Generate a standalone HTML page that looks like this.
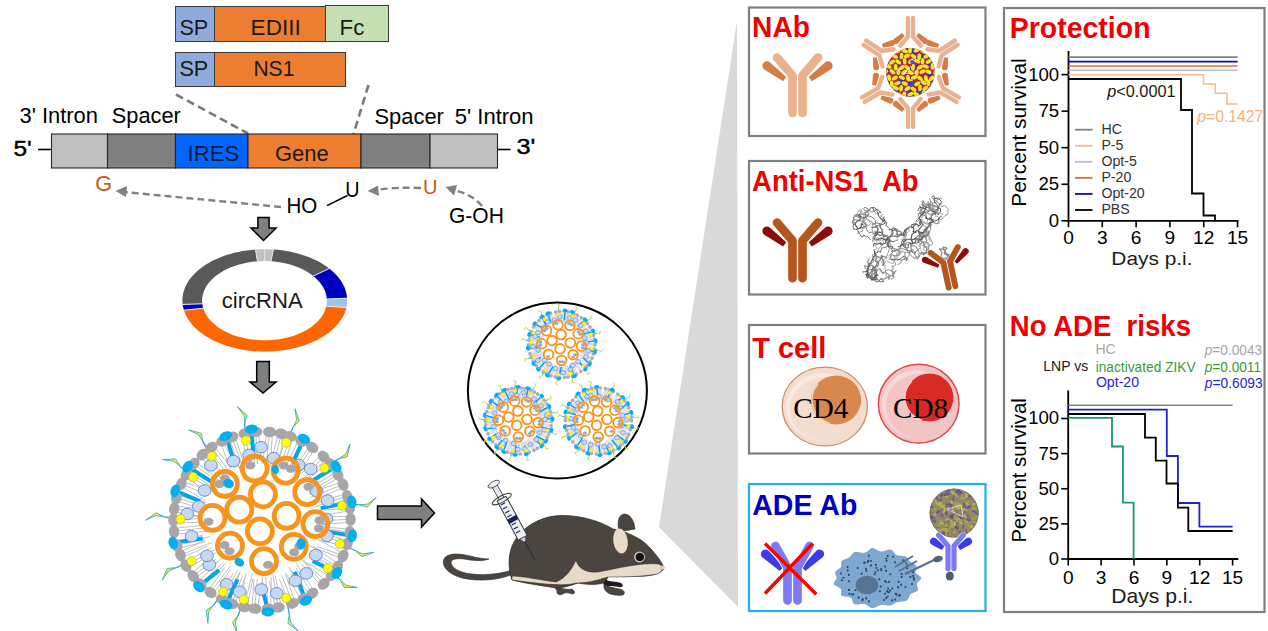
<!DOCTYPE html>
<html><head><meta charset="utf-8"><style>
html,body{margin:0;padding:0;background:#fff;width:1268px;height:631px;overflow:hidden;}
svg{display:block;}
</style></head><body>
<svg width="1268" height="631" viewBox="0 0 1268 631">
<rect width="1268" height="631" fill="#fff"/>
<g stroke-linejoin="miter">
<rect x="175.5" y="6.5" width="39" height="35" fill="#8faadc" stroke="#3a3a3a" stroke-width="1" />
<rect x="214.5" y="6.5" width="111" height="35" fill="#ed7d31" stroke="#3a3a3a" stroke-width="1" />
<rect x="325.5" y="5.5" width="63" height="36" fill="#c5e0b4" stroke="#3a3a3a" stroke-width="1" />
<rect x="175.5" y="52.5" width="39" height="34" fill="#8faadc" stroke="#3a3a3a" stroke-width="1" />
<rect x="214.5" y="52.5" width="131" height="34" fill="#ed7d31" stroke="#3a3a3a" stroke-width="1" />
</g>
<text transform="translate(179.42,35.40) scale(0.9708,1)" font-family="'Liberation Sans', sans-serif" font-size="22.30" font-weight="normal" fill="#1a1a1a" >SP</text>
<text transform="translate(250.62,35.40) scale(1.0128,1)" font-family="'Liberation Sans', sans-serif" font-size="22.30" font-weight="normal" fill="#1a1a1a" >EDIII</text>
<text transform="translate(339.54,35.40) scale(1.0000,1)" font-family="'Liberation Sans', sans-serif" font-size="22.30" font-weight="normal" fill="#1a1a1a" >Fc</text>
<text transform="translate(179.42,75.70) scale(0.9840,1)" font-family="'Liberation Sans', sans-serif" font-size="22.00" font-weight="normal" fill="#1a1a1a" >SP</text>
<text transform="translate(253.45,75.70) scale(0.9558,1)" font-family="'Liberation Sans', sans-serif" font-size="22.00" font-weight="normal" fill="#1a1a1a" >NS1</text>
<line x1="176" y1="94.5" x2="248" y2="133.5" stroke="#7a7a7a" stroke-width="2.6" stroke-dasharray="8,4.5"/>
<line x1="368.5" y1="85" x2="353.5" y2="134" stroke="#7a7a7a" stroke-width="2.6" stroke-dasharray="8,4.5"/>
<rect x="51.5" y="134" width="56" height="34" fill="#bfbfbf" stroke="#262626" stroke-width="1.1" />
<rect x="107.5" y="134" width="68" height="34" fill="#808080" stroke="#262626" stroke-width="1.1" />
<rect x="175.5" y="134" width="72.5" height="34" fill="#0066ff" stroke="#262626" stroke-width="1.1" />
<rect x="248" y="134" width="113" height="34" fill="#ed7d31" stroke="#262626" stroke-width="1.1" />
<rect x="361" y="134" width="69" height="34" fill="#808080" stroke="#262626" stroke-width="1.1" />
<rect x="430" y="134" width="67.5" height="34" fill="#bfbfbf" stroke="#262626" stroke-width="1.1" />
<text transform="translate(187.48,161.10) scale(0.9901,1)" font-family="'Liberation Sans', sans-serif" font-size="22.39" font-weight="normal" fill="#0d1a3a" >IRES</text>
<text transform="translate(274.90,161.30) scale(0.9699,1)" font-family="'Liberation Sans', sans-serif" font-size="22.68" font-weight="normal" fill="#1a1a1a" >Gene</text>
<line x1="38" y1="149.5" x2="51.5" y2="149.5" stroke="#000" stroke-width="1.6"/>
<line x1="497.5" y1="149.5" x2="510.5" y2="149.5" stroke="#000" stroke-width="1.6"/>
<text transform="translate(13.38,156.10) scale(1.0715,1)" font-family="'Liberation Sans', sans-serif" font-size="22.83" font-weight="normal" fill="#000" stroke="#000" stroke-width="0.45">5'</text>
<text transform="translate(516.44,154.10) scale(1.1343,1)" font-family="'Liberation Sans', sans-serif" font-size="22.24" font-weight="normal" fill="#000" stroke="#000" stroke-width="0.45">3'</text>
<text transform="translate(19.50,122.70) scale(1.0054,1)" font-family="'Liberation Sans', sans-serif" font-size="21.80" font-weight="normal" fill="#000" >3' Intron</text>
<text transform="translate(111.81,123.28) scale(0.9864,1)" font-family="'Liberation Sans', sans-serif" font-size="22.08" font-weight="normal" fill="#000" >Spacer</text>
<text transform="translate(374.50,123.78) scale(0.9922,1)" font-family="'Liberation Sans', sans-serif" font-size="22.08" font-weight="normal" fill="#000" >Spacer</text>
<text transform="translate(454.70,124.10) scale(0.9779,1)" font-family="'Liberation Sans', sans-serif" font-size="22.54" font-weight="normal" fill="#000" >5' Intron</text>
<text transform="translate(95.22,191.30) scale(0.9948,1)" font-family="'Liberation Sans', sans-serif" font-size="21.80" font-weight="normal" fill="#c55a11" >G</text>
<text transform="translate(422.92,193.90) scale(0.9890,1)" font-family="'Liberation Sans', sans-serif" font-size="20.34" font-weight="normal" fill="#c55a11" >U</text>
<text transform="translate(345.15,196.80) scale(0.9314,1)" font-family="'Liberation Sans', sans-serif" font-size="21.22" font-weight="normal" fill="#000" >U</text>
<text transform="translate(286.49,212.60) scale(0.9123,1)" font-family="'Liberation Sans', sans-serif" font-size="22.54" font-weight="normal" fill="#000" >HO</text>
<text transform="translate(449.05,222.60) scale(0.9309,1)" font-family="'Liberation Sans', sans-serif" font-size="22.54" font-weight="normal" fill="#000" >G-OH</text>
<line x1="327" y1="205.6" x2="347.5" y2="195.5" stroke="#000" stroke-width="1.6"/>
<path d="M281,207 L124,192" stroke="#808080" stroke-width="2.4" fill="none" stroke-dasharray="7,4"/>
<path d="M115.5,191 L127,186 L126,197 Z" fill="#808080"/>
<path d="M421,188 Q395,187 376,190" stroke="#808080" stroke-width="2.4" fill="none" stroke-dasharray="7,4"/>
<path d="M367.5,191 L378,185.5 L379,196 Z" fill="#808080"/>
<path d="M482,206 Q472,194 453,190" stroke="#808080" stroke-width="2.4" fill="none" stroke-dasharray="7,4"/>
<path d="M445.5,187 L457,185 L454,195.5 Z" fill="#808080"/>
<polygon points="257.9,217.5 269.1,217.5 269.1,228 276.1,228 263.5,240.5 250.9,228 257.9,228" fill="#7f7f7f" stroke="#000" stroke-width="1.5" stroke-linejoin="miter"/>
<polygon points="256.7,361.5 269.3,361.5 269.3,382 276,382 263,393 250,382 256.7,382" fill="#7f7f7f" stroke="#000" stroke-width="1.5" stroke-linejoin="miter"/>
<polygon points="377.5,506 421.5,506 421.5,499 434.5,513 421.5,527 421.5,519.5 377.5,519.5" fill="#7f7f7f" stroke="#000" stroke-width="1.5" stroke-linejoin="miter"/>
<polygon points="255.5,249.5 259.9,249.3 264.4,249.2 268.9,249.3 273.4,249.5 271.0,261.3 267.6,261.1 264.2,261.1 260.8,261.2 257.4,261.4" fill="#c0c0c0"/>
<polygon points="273.4,249.5 277.7,249.8 282.0,250.3 286.3,251.0 290.4,251.7 294.6,252.7 298.6,253.7 302.5,254.9 306.3,256.2 310.0,257.6 313.6,259.2 317.1,260.8 320.4,262.6 323.5,264.5 326.5,266.5 329.3,268.5 313.3,276.0 311.2,274.4 309.0,272.9 306.6,271.5 304.1,270.1 301.5,268.8 298.8,267.6 296.0,266.5 293.1,265.5 290.1,264.6 287.0,263.8 283.9,263.1 280.8,262.5 277.5,262.0 274.3,261.6 271.0,261.3" fill="#595959"/>
<polygon points="329.3,268.5 331.9,270.7 334.3,272.9 336.5,275.2 338.5,277.6 340.4,280.0 342.0,282.5 343.4,285.0 344.6,287.6 345.5,290.2 346.3,292.8 346.8,295.5 347.1,298.2 326.8,299.0 326.6,296.9 326.2,294.8 325.6,292.8 324.9,290.8 324.0,288.8 322.9,286.8 321.7,284.9 320.3,283.0 318.8,281.2 317.1,279.4 315.3,277.7 313.3,276.0" fill="#0000c0"/>
<polygon points="347.1,298.2 347.2,300.5 347.1,302.9 346.8,305.2 346.4,307.5 326.3,306.2 326.6,304.4 326.8,302.6 326.9,300.8 326.8,299.0" fill="#9dc3e6"/>
<polygon points="346.4,307.5 345.7,310.2 344.7,312.9 343.6,315.5 342.2,318.0 340.5,320.6 338.7,323.0 336.7,325.4 334.4,327.8 332.0,330.0 329.4,332.2 326.6,334.3 323.6,336.3 320.5,338.1 317.2,339.9 313.7,341.6 310.2,343.1 306.4,344.6 302.6,345.9 298.7,347.1 294.7,348.1 290.5,349.0 286.4,349.8 282.1,350.5 277.8,351.0 273.5,351.3 269.1,351.5 264.8,351.6 260.4,351.5 256.1,351.3 251.7,351.0 247.4,350.4 243.2,349.8 239.0,349.0 234.9,348.1 230.9,347.1 226.9,345.9 223.1,344.6 219.4,343.1 215.8,341.6 212.4,339.9 209.1,338.1 205.9,336.2 203.0,334.2 200.2,332.2 197.6,330.0 195.1,327.7 192.9,325.4 190.9,323.0 189.0,320.5 187.4,318.0 186.0,315.4 184.9,312.8 183.9,310.2 203.2,308.3 204.0,310.3 204.9,312.3 205.9,314.3 207.1,316.3 208.5,318.2 210.0,320.0 211.7,321.8 213.6,323.6 215.6,325.3 217.7,326.9 219.9,328.4 222.3,329.9 224.8,331.3 227.4,332.5 230.1,333.7 232.9,334.9 235.8,335.9 238.8,336.8 241.9,337.6 245.0,338.3 248.1,338.9 251.3,339.4 254.6,339.8 257.9,340.1 261.2,340.2 264.5,340.3 267.8,340.2 271.1,340.1 274.4,339.8 277.6,339.4 280.8,338.9 284.0,338.3 287.1,337.6 290.2,336.8 293.1,335.9 296.0,334.9 298.8,333.8 301.6,332.6 304.2,331.3 306.7,329.9 309.0,328.4 311.3,326.9 313.4,325.3 315.4,323.6 317.2,321.9 318.9,320.1 320.5,318.2 321.9,316.3 323.1,314.3 324.1,312.4 325.0,310.3 325.7,308.3 326.3,306.2" fill="#ff6600"/>
<polygon points="183.9,310.2 183.5,308.7 183.2,307.3 182.9,305.9 182.7,304.4 202.3,303.8 202.5,304.9 202.7,306.0 202.9,307.2 203.2,308.3" fill="#0000c0"/>
<polygon points="182.7,304.4 182.4,301.7 182.4,299.0 182.7,296.3 183.1,293.6 183.8,290.9 184.7,288.3 185.9,285.7 187.3,283.1 188.8,280.6 190.6,278.1 192.6,275.7 194.9,273.3 197.3,271.1 199.9,268.9 202.6,266.8 205.6,264.8 208.7,262.9 212.0,261.1 215.4,259.4 218.9,257.9 222.6,256.4 226.4,255.1 230.4,253.9 234.4,252.8 238.5,251.9 242.6,251.1 246.9,250.4 251.2,249.9 255.5,249.5 257.4,261.4 254.2,261.6 250.9,262.0 247.7,262.6 244.6,263.2 241.5,263.9 238.4,264.7 235.5,265.7 232.6,266.7 229.8,267.8 227.1,269.0 224.5,270.3 222.0,271.7 219.7,273.2 217.4,274.7 215.3,276.3 213.4,278.0 211.5,279.8 209.9,281.6 208.3,283.4 207.0,285.3 205.8,287.3 204.7,289.3 203.9,291.3 203.2,293.4 202.7,295.4 202.3,297.5 202.1,299.6 202.1,301.7 202.3,303.8" fill="#595959"/>
<line x1="255.5" y1="249.5" x2="257.4" y2="261.4" stroke="#e8e8f0" stroke-width="1"/>
<line x1="264.8" y1="249.2" x2="264.5" y2="261.1" stroke="#e8e8f0" stroke-width="1"/>
<line x1="273.4" y1="249.5" x2="271.0" y2="261.3" stroke="#e8e8f0" stroke-width="1"/>
<line x1="329.3" y1="268.5" x2="313.3" y2="276.0" stroke="#e8e8f0" stroke-width="1"/>
<line x1="347.1" y1="298.2" x2="326.8" y2="299.0" stroke="#e8e8f0" stroke-width="1"/>
<line x1="346.4" y1="307.5" x2="326.3" y2="306.2" stroke="#e8e8f0" stroke-width="1"/>
<line x1="183.9" y1="310.2" x2="203.2" y2="308.3" stroke="#e8e8f0" stroke-width="1"/>
<line x1="182.7" y1="304.4" x2="202.3" y2="303.8" stroke="#e8e8f0" stroke-width="1"/>
<text transform="translate(221.80,308.00) scale(1.0072,1)" font-family="'Liberation Sans', sans-serif" font-size="21.91" font-weight="normal" fill="#1a1a1a" >circRNA</text>
<polygon points="737,21 738,607 659,527" fill="#d9d9d9"/>
<rect x="749" y="7.5" width="236.5" height="128.5" fill="#fff" stroke="#7f7f7f" stroke-width="2.2"/>
<rect x="749" y="161" width="236.5" height="133.5" fill="#fff" stroke="#7f7f7f" stroke-width="2.2"/>
<rect x="749" y="325" width="236.5" height="128.5" fill="#fff" stroke="#7f7f7f" stroke-width="2.2"/>
<rect x="749" y="484" width="236.5" height="127" fill="#fff" stroke="#1eb0e6" stroke-width="2.2"/>
<rect x="1004" y="8" width="260.5" height="604" fill="#fff" stroke="#7f7f7f" stroke-width="2.2"/>
<text transform="translate(752.12,37.40) scale(0.9563,1)" font-family="'Liberation Sans', sans-serif" font-size="29.44" font-weight="bold" fill="#f00000" >NAb</text>
<text transform="translate(752.09,191.30) scale(0.9544,1)" font-family="'Liberation Sans', sans-serif" font-size="28.74" font-weight="bold" fill="#f00000" >Anti-NS1&#160; Ab</text>
<text transform="translate(752.22,358.40) scale(0.9987,1)" font-family="'Liberation Sans', sans-serif" font-size="29.02" font-weight="bold" fill="#f00000" >T cell</text>
<text transform="translate(752.25,515.00) scale(0.9927,1)" font-family="'Liberation Sans', sans-serif" font-size="28.74" font-weight="bold" fill="#0000c0" >ADE Ab</text>
<text transform="translate(1009.70,38.10) scale(0.9495,1)" font-family="'Liberation Sans', sans-serif" font-size="30.00" font-weight="bold" fill="#f00000" >Protection</text>
<text transform="translate(1009.76,336.00) scale(0.9639,1)" font-family="'Liberation Sans', sans-serif" font-size="28.60" font-weight="bold" fill="#f00000" >No ADE&#160; risks</text>
<g transform="translate(797.5,74) rotate(0) scale(1.0)">
<path d="M-11.24,3.12 L-27.74,-11.78 A4.6,4.6 0 0 0 -33.26,-4.42 L-14.36,7.28 Z" fill="#d47d45"/>
<path d="M14.36,7.28 L33.26,-4.42 A4.6,4.6 0 0 0 27.74,-11.78 L11.24,3.12 Z" fill="#d47d45"/>
<path d="M-5,39 L-5,1.5 L-20.5,-16.5" fill="none" stroke="#fff" stroke-width="10.1" stroke-linecap="round" stroke-linejoin="round"/>
<path d="M5,39 L5,1.5 L20.5,-16.5" fill="none" stroke="#fff" stroke-width="10.1" stroke-linecap="round" stroke-linejoin="round"/>
<path d="M-5,39 L-5,1.5 L-20.5,-16.5" fill="none" stroke="#e9b18e" stroke-width="8.7" stroke-linecap="round" stroke-linejoin="round"/>
<path d="M5,39 L5,1.5 L20.5,-16.5" fill="none" stroke="#e9b18e" stroke-width="8.7" stroke-linecap="round" stroke-linejoin="round"/>
</g>
<clipPath id="vclip"><circle cx="910.5" cy="72.4" r="24.3"/></clipPath>
<circle cx="910.5" cy="72.4" r="24.3" fill="#a02868"/>
<g clip-path="url(#vclip)">
<circle cx="933.3" cy="65.9" r="1.4" fill="#d42020"/>
<circle cx="922.7" cy="80.3" r="1.4" fill="#2438c8"/>
<circle cx="908.7" cy="52.6" r="1.4" fill="#d42020"/>
<circle cx="910.4" cy="83.6" r="1.4" fill="#d42020"/>
<circle cx="902.1" cy="67.7" r="1.4" fill="#2438c8"/>
<circle cx="896.5" cy="55.7" r="1.4" fill="#c03060"/>
<circle cx="927.5" cy="66.8" r="1.4" fill="#2438c8"/>
<circle cx="887.4" cy="72.1" r="1.4" fill="#d42020"/>
<circle cx="895.1" cy="90.1" r="1.4" fill="#2438c8"/>
<circle cx="890.2" cy="83.0" r="1.4" fill="#2438c8"/>
<circle cx="899.5" cy="68.0" r="1.4" fill="#d42020"/>
<circle cx="915.0" cy="81.5" r="1.4" fill="#c03060"/>
<circle cx="886.3" cy="70.8" r="1.4" fill="#c03060"/>
<circle cx="920.0" cy="93.3" r="1.4" fill="#2438c8"/>
<circle cx="908.2" cy="49.4" r="1.4" fill="#d42020"/>
<circle cx="914.1" cy="58.4" r="1.4" fill="#2438c8"/>
<circle cx="921.7" cy="90.3" r="1.4" fill="#2438c8"/>
<circle cx="903.7" cy="62.4" r="1.4" fill="#d42020"/>
<circle cx="925.8" cy="64.6" r="1.4" fill="#d42020"/>
<circle cx="901.9" cy="58.5" r="1.4" fill="#2438c8"/>
<circle cx="898.2" cy="89.1" r="1.4" fill="#c03060"/>
<circle cx="907.7" cy="55.7" r="1.4" fill="#2438c8"/>
<circle cx="930.9" cy="64.4" r="1.4" fill="#2438c8"/>
<circle cx="924.1" cy="59.1" r="1.4" fill="#2438c8"/>
<circle cx="901.8" cy="94.5" r="1.4" fill="#c03060"/>
<circle cx="894.5" cy="65.8" r="1.4" fill="#c03060"/>
<circle cx="898.9" cy="65.3" r="1.4" fill="#2438c8"/>
<circle cx="895.8" cy="73.4" r="1.4" fill="#c03060"/>
<circle cx="926.4" cy="57.9" r="1.4" fill="#d42020"/>
<circle cx="907.0" cy="49.5" r="1.4" fill="#2438c8"/>
<circle cx="918.4" cy="72.3" r="1.4" fill="#c03060"/>
<circle cx="903.2" cy="62.0" r="1.4" fill="#2438c8"/>
<circle cx="900.9" cy="51.2" r="1.4" fill="#c03060"/>
<circle cx="918.7" cy="81.9" r="1.4" fill="#2438c8"/>
<circle cx="916.1" cy="70.3" r="1.4" fill="#d42020"/>
<circle cx="924.2" cy="77.5" r="1.4" fill="#2438c8"/>
<circle cx="907.2" cy="66.2" r="1.4" fill="#d42020"/>
<circle cx="931.0" cy="75.7" r="1.4" fill="#d42020"/>
<circle cx="904.4" cy="78.6" r="1.4" fill="#2438c8"/>
<circle cx="908.8" cy="54.9" r="1.4" fill="#d42020"/>
<circle cx="906.7" cy="75.7" r="1.4" fill="#2438c8"/>
<circle cx="913.2" cy="76.2" r="1.4" fill="#d42020"/>
<circle cx="928.3" cy="65.1" r="1.4" fill="#d42020"/>
<circle cx="906.7" cy="89.0" r="1.4" fill="#d42020"/>
<circle cx="890.3" cy="79.1" r="1.4" fill="#d42020"/>
<circle cx="927.7" cy="60.2" r="1.4" fill="#c03060"/>
<circle cx="905.9" cy="56.3" r="1.4" fill="#2438c8"/>
<circle cx="927.3" cy="83.6" r="1.4" fill="#d42020"/>
<circle cx="931.8" cy="75.7" r="1.4" fill="#2438c8"/>
<circle cx="889.2" cy="69.9" r="1.4" fill="#2438c8"/>
<circle cx="901.3" cy="71.5" r="1.4" fill="#d42020"/>
<circle cx="909.4" cy="91.3" r="1.4" fill="#2438c8"/>
<circle cx="898.9" cy="55.7" r="1.4" fill="#2438c8"/>
<circle cx="904.6" cy="61.7" r="1.4" fill="#2438c8"/>
<circle cx="914.5" cy="78.8" r="1.4" fill="#2438c8"/>
<circle cx="886.4" cy="71.2" r="1.4" fill="#d42020"/>
<circle cx="922.2" cy="72.0" r="1.4" fill="#2438c8"/>
<circle cx="916.7" cy="75.5" r="1.4" fill="#2438c8"/>
<circle cx="895.0" cy="57.1" r="1.4" fill="#d42020"/>
<circle cx="909.8" cy="88.2" r="1.4" fill="#c03060"/>
<circle cx="910.5" cy="63.0" r="1.4" fill="#2438c8"/>
<circle cx="903.7" cy="76.8" r="1.4" fill="#d42020"/>
<circle cx="910.9" cy="80.1" r="1.4" fill="#2438c8"/>
<circle cx="910.5" cy="64.5" r="1.4" fill="#d42020"/>
<circle cx="894.1" cy="70.2" r="1.4" fill="#d42020"/>
<circle cx="895.9" cy="69.1" r="1.4" fill="#2438c8"/>
<circle cx="908.4" cy="56.5" r="1.4" fill="#c03060"/>
<circle cx="929.0" cy="74.9" r="1.4" fill="#2438c8"/>
<circle cx="927.2" cy="64.4" r="1.4" fill="#d42020"/>
<circle cx="901.8" cy="58.0" r="1.4" fill="#d42020"/>
<circle cx="887.3" cy="69.6" r="1.4" fill="#c03060"/>
<circle cx="897.0" cy="87.4" r="1.4" fill="#d42020"/>
<circle cx="902.4" cy="93.6" r="1.4" fill="#2438c8"/>
<circle cx="921.3" cy="80.4" r="1.4" fill="#d42020"/>
<circle cx="912.8" cy="66.9" r="1.4" fill="#2438c8"/>
<circle cx="888.2" cy="77.6" r="1.4" fill="#c03060"/>
<circle cx="922.1" cy="78.2" r="1.4" fill="#d42020"/>
<circle cx="903.4" cy="91.8" r="1.4" fill="#2438c8"/>
<circle cx="910.8" cy="61.7" r="1.4" fill="#c03060"/>
<circle cx="896.1" cy="87.1" r="1.4" fill="#2438c8"/>
<circle cx="910.8" cy="57.1" r="1.4" fill="#d42020"/>
<circle cx="910.3" cy="80.9" r="1.4" fill="#c03060"/>
<circle cx="921.9" cy="56.7" r="1.4" fill="#2438c8"/>
<circle cx="909.2" cy="68.8" r="1.4" fill="#2438c8"/>
<circle cx="914.0" cy="52.0" r="1.4" fill="#2438c8"/>
<circle cx="904.5" cy="95.4" r="1.4" fill="#2438c8"/>
<circle cx="914.3" cy="60.4" r="1.4" fill="#c03060"/>
<circle cx="924.2" cy="57.0" r="1.4" fill="#2438c8"/>
<circle cx="930.7" cy="63.2" r="1.4" fill="#d42020"/>
<circle cx="902.9" cy="78.3" r="1.4" fill="#c03060"/>
<circle cx="909.6" cy="88.3" r="1.4" fill="#d42020"/>
<circle cx="891.6" cy="61.1" r="1.4" fill="#d42020"/>
<circle cx="919.7" cy="76.8" r="1.4" fill="#c03060"/>
<circle cx="920.0" cy="84.9" r="1.4" fill="#d42020"/>
<circle cx="917.5" cy="50.3" r="1.4" fill="#d42020"/>
<circle cx="919.6" cy="82.0" r="1.4" fill="#2438c8"/>
<circle cx="904.6" cy="50.3" r="1.4" fill="#d42020"/>
<circle cx="894.2" cy="79.0" r="1.4" fill="#d42020"/>
<circle cx="923.9" cy="92.5" r="1.4" fill="#2438c8"/>
<circle cx="924.9" cy="82.3" r="1.4" fill="#c03060"/>
<circle cx="909.5" cy="95.4" r="1.4" fill="#2438c8"/>
<circle cx="921.6" cy="68.6" r="1.4" fill="#d42020"/>
<circle cx="914.3" cy="54.4" r="1.4" fill="#2438c8"/>
<circle cx="890.3" cy="76.7" r="1.4" fill="#c03060"/>
<circle cx="895.0" cy="86.4" r="1.4" fill="#2438c8"/>
<circle cx="893.7" cy="71.3" r="1.4" fill="#2438c8"/>
<circle cx="910.0" cy="93.2" r="1.4" fill="#2438c8"/>
<circle cx="905.9" cy="56.3" r="1.4" fill="#c03060"/>
<circle cx="900.3" cy="90.7" r="1.4" fill="#d42020"/>
<circle cx="912.1" cy="50.0" r="1.4" fill="#2438c8"/>
<circle cx="900.2" cy="70.2" r="1.4" fill="#2438c8"/>
<circle cx="929.7" cy="69.6" r="1.4" fill="#d42020"/>
<circle cx="903.7" cy="88.6" r="1.4" fill="#2438c8"/>
<circle cx="897.6" cy="54.6" r="1.4" fill="#d42020"/>
<circle cx="901.2" cy="78.9" r="1.4" fill="#c03060"/>
<circle cx="892.4" cy="58.1" r="1.4" fill="#d42020"/>
<circle cx="896.5" cy="84.0" r="1.4" fill="#2438c8"/>
<circle cx="906.9" cy="95.5" r="1.4" fill="#c03060"/>
<circle cx="918.3" cy="92.7" r="1.4" fill="#2438c8"/>
<circle cx="930.5" cy="73.5" r="1.4" fill="#2438c8"/>
<circle cx="910.1" cy="90.7" r="1.4" fill="#2438c8"/>
<circle cx="904.9" cy="49.1" r="1.4" fill="#d42020"/>
<circle cx="896.9" cy="91.1" r="1.4" fill="#c03060"/>
<circle cx="920.8" cy="55.6" r="1.4" fill="#c03060"/>
<circle cx="890.6" cy="74.3" r="1.4" fill="#d42020"/>
<circle cx="888.5" cy="78.2" r="1.4" fill="#2438c8"/>
<circle cx="917.3" cy="73.6" r="1.4" fill="#d42020"/>
<circle cx="920.2" cy="91.1" r="1.4" fill="#2438c8"/>
<circle cx="909.9" cy="91.6" r="1.4" fill="#2438c8"/>
<circle cx="926.7" cy="78.1" r="1.4" fill="#2438c8"/>
<circle cx="906.2" cy="63.8" r="1.4" fill="#d42020"/>
<circle cx="888.1" cy="64.0" r="1.4" fill="#d42020"/>
<circle cx="932.4" cy="77.2" r="1.4" fill="#c03060"/>
<circle cx="889.3" cy="80.4" r="1.4" fill="#d42020"/>
<circle cx="901.6" cy="72.5" r="1.4" fill="#c03060"/>
<circle cx="907.3" cy="59.4" r="1.4" fill="#d42020"/>
<circle cx="916.5" cy="60.4" r="1.4" fill="#d42020"/>
<circle cx="901.8" cy="59.9" r="1.4" fill="#d42020"/>
<circle cx="899.4" cy="71.8" r="1.4" fill="#c03060"/>
<circle cx="888.5" cy="68.1" r="1.4" fill="#c03060"/>
<circle cx="901.2" cy="62.6" r="1.4" fill="#2438c8"/>
<circle cx="927.8" cy="66.7" r="1.4" fill="#c03060"/>
<circle cx="906.4" cy="95.8" r="1.4" fill="#d42020"/>
<circle cx="900.8" cy="53.2" r="1.4" fill="#d42020"/>
<circle cx="913.8" cy="86.5" r="1.4" fill="#d42020"/>
<circle cx="900.9" cy="75.0" r="1.4" fill="#2438c8"/>
<circle cx="921.8" cy="60.3" r="1.4" fill="#2438c8"/>
<circle cx="924.7" cy="64.8" r="1.4" fill="#2438c8"/>
<circle cx="923.0" cy="66.5" r="1.4" fill="#d42020"/>
<circle cx="923.2" cy="61.6" r="1.4" fill="#d42020"/>
<circle cx="914.1" cy="80.8" r="1.4" fill="#2438c8"/>
<circle cx="912.8" cy="94.1" r="1.4" fill="#2438c8"/>
<circle cx="892.6" cy="85.3" r="1.4" fill="#d42020"/>
<circle cx="906.5" cy="92.6" r="1.4" fill="#c03060"/>
<circle cx="890.3" cy="72.1" r="1.4" fill="#d42020"/>
<circle cx="909.5" cy="51.4" r="1.4" fill="#d42020"/>
<circle cx="891.5" cy="68.5" r="1.4" fill="#d42020"/>
<circle cx="900.2" cy="83.7" r="1.4" fill="#2438c8"/>
<circle cx="909.4" cy="95.4" r="1.4" fill="#2438c8"/>
<circle cx="887.8" cy="75.8" r="1.4" fill="#2438c8"/>
<circle cx="904.6" cy="86.1" r="1.4" fill="#d42020"/>
<circle cx="918.4" cy="78.5" r="1.4" fill="#d42020"/>
<circle cx="930.3" cy="61.1" r="1.4" fill="#2438c8"/>
<circle cx="924.2" cy="73.1" r="1.4" fill="#c03060"/>
<circle cx="900.5" cy="80.7" r="1.4" fill="#2438c8"/>
<circle cx="903.5" cy="80.8" r="1.4" fill="#2438c8"/>
<circle cx="918.1" cy="77.6" r="1.4" fill="#2438c8"/>
<circle cx="906.0" cy="80.4" r="1.4" fill="#d42020"/>
<circle cx="910.5" cy="86.6" r="1.4" fill="#2438c8"/>
<circle cx="905.0" cy="52.4" r="1.4" fill="#d42020"/>
<circle cx="902.8" cy="85.1" r="1.4" fill="#c03060"/>
<circle cx="919.0" cy="75.9" r="1.4" fill="#d42020"/>
<circle cx="891.1" cy="81.6" r="1.4" fill="#2438c8"/>
<circle cx="902.5" cy="89.1" r="1.4" fill="#d42020"/>
<circle cx="899.3" cy="90.5" r="1.4" fill="#c03060"/>
<circle cx="921.7" cy="69.3" r="1.4" fill="#d42020"/>
<circle cx="897.5" cy="82.9" r="1.4" fill="#c03060"/>
<circle cx="922.9" cy="59.4" r="1.4" fill="#c03060"/>
<circle cx="895.3" cy="61.7" r="1.4" fill="#c03060"/>
<circle cx="901.8" cy="57.7" r="1.4" fill="#2438c8"/>
<circle cx="919.3" cy="58.6" r="1.4" fill="#2438c8"/>
<circle cx="898.2" cy="83.1" r="1.4" fill="#d42020"/>
<circle cx="892.7" cy="78.0" r="1.4" fill="#d42020"/>
<circle cx="929.0" cy="64.7" r="1.4" fill="#2438c8"/>
<circle cx="922.4" cy="78.7" r="1.4" fill="#d42020"/>
<circle cx="910.1" cy="92.3" r="1.4" fill="#2438c8"/>
<circle cx="914.8" cy="80.6" r="1.4" fill="#d42020"/>
<circle cx="899.2" cy="91.3" r="1.4" fill="#2438c8"/>
<circle cx="932.4" cy="79.5" r="1.4" fill="#2438c8"/>
<circle cx="918.8" cy="76.0" r="1.4" fill="#d42020"/>
<circle cx="921.6" cy="85.6" r="1.4" fill="#d42020"/>
<circle cx="927.6" cy="77.8" r="1.4" fill="#d42020"/>
<circle cx="918.2" cy="56.6" r="1.4" fill="#c03060"/>
<circle cx="916.9" cy="66.0" r="1.4" fill="#2438c8"/>
<circle cx="928.4" cy="72.6" r="1.4" fill="#2438c8"/>
<circle cx="919.2" cy="79.4" r="1.4" fill="#d42020"/>
<circle cx="896.2" cy="59.6" r="1.4" fill="#d42020"/>
<circle cx="894.3" cy="56.7" r="1.4" fill="#c03060"/>
<circle cx="887.3" cy="71.4" r="1.4" fill="#2438c8"/>
<circle cx="888.4" cy="70.9" r="1.4" fill="#2438c8"/>
<ellipse cx="897.4" cy="51.3" rx="3.3" ry="1.9" transform="rotate(156 897.4 51.3)" fill="#f2ea18"/>
<ellipse cx="904.8" cy="51.0" rx="3.3" ry="1.9" transform="rotate(21 904.8 51.0)" fill="#f2ea18"/>
<ellipse cx="910.0" cy="50.2" rx="3.3" ry="1.9" transform="rotate(93 910.0 50.2)" fill="#f2ea18"/>
<ellipse cx="916.8" cy="50.3" rx="3.3" ry="1.9" transform="rotate(159 916.8 50.3)" fill="#f2ea18"/>
<ellipse cx="923.7" cy="51.5" rx="3.3" ry="1.9" transform="rotate(29 923.7 51.5)" fill="#f2ea18"/>
<ellipse cx="894.9" cy="56.5" rx="3.3" ry="1.9" transform="rotate(22 894.9 56.5)" fill="#f2ea18"/>
<ellipse cx="901.5" cy="55.9" rx="3.3" ry="1.9" transform="rotate(98 901.5 55.9)" fill="#f2ea18"/>
<ellipse cx="906.9" cy="56.0" rx="3.3" ry="1.9" transform="rotate(151 906.9 56.0)" fill="#f2ea18"/>
<ellipse cx="913.4" cy="56.3" rx="3.3" ry="1.9" transform="rotate(38 913.4 56.3)" fill="#f2ea18"/>
<ellipse cx="919.3" cy="56.7" rx="3.3" ry="1.9" transform="rotate(94 919.3 56.7)" fill="#f2ea18"/>
<ellipse cx="926.5" cy="56.1" rx="3.3" ry="1.9" transform="rotate(149 926.5 56.1)" fill="#f2ea18"/>
<ellipse cx="892.1" cy="62.2" rx="3.3" ry="1.9" transform="rotate(144 892.1 62.2)" fill="#f2ea18"/>
<ellipse cx="898.3" cy="61.9" rx="3.3" ry="1.9" transform="rotate(38 898.3 61.9)" fill="#f2ea18"/>
<ellipse cx="904.6" cy="61.3" rx="3.3" ry="1.9" transform="rotate(84 904.6 61.3)" fill="#f2ea18"/>
<ellipse cx="911.0" cy="61.3" rx="3.3" ry="1.9" transform="rotate(140 911.0 61.3)" fill="#f2ea18"/>
<ellipse cx="917.3" cy="61.1" rx="3.3" ry="1.9" transform="rotate(26 917.3 61.1)" fill="#f2ea18"/>
<ellipse cx="922.6" cy="61.2" rx="3.3" ry="1.9" transform="rotate(94 922.6 61.2)" fill="#f2ea18"/>
<ellipse cx="928.8" cy="61.5" rx="3.3" ry="1.9" transform="rotate(148 928.8 61.5)" fill="#f2ea18"/>
<ellipse cx="888.6" cy="66.3" rx="3.3" ry="1.9" transform="rotate(32 888.6 66.3)" fill="#f2ea18"/>
<ellipse cx="895.7" cy="67.2" rx="3.3" ry="1.9" transform="rotate(90 895.7 67.2)" fill="#f2ea18"/>
<ellipse cx="901.7" cy="67.7" rx="3.3" ry="1.9" transform="rotate(143 901.7 67.7)" fill="#f2ea18"/>
<ellipse cx="907.1" cy="67.7" rx="3.3" ry="1.9" transform="rotate(39 907.1 67.7)" fill="#f2ea18"/>
<ellipse cx="913.1" cy="67.3" rx="3.3" ry="1.9" transform="rotate(97 913.1 67.3)" fill="#f2ea18"/>
<ellipse cx="919.9" cy="67.3" rx="3.3" ry="1.9" transform="rotate(150 919.9 67.3)" fill="#f2ea18"/>
<ellipse cx="925.6" cy="66.5" rx="3.3" ry="1.9" transform="rotate(21 925.6 66.5)" fill="#f2ea18"/>
<ellipse cx="932.5" cy="66.4" rx="3.3" ry="1.9" transform="rotate(92 932.5 66.4)" fill="#f2ea18"/>
<ellipse cx="885.2" cy="72.0" rx="3.3" ry="1.9" transform="rotate(151 885.2 72.0)" fill="#f2ea18"/>
<ellipse cx="892.4" cy="71.7" rx="3.3" ry="1.9" transform="rotate(39 892.4 71.7)" fill="#f2ea18"/>
<ellipse cx="898.4" cy="71.7" rx="3.3" ry="1.9" transform="rotate(94 898.4 71.7)" fill="#f2ea18"/>
<ellipse cx="904.1" cy="72.4" rx="3.3" ry="1.9" transform="rotate(142 904.1 72.4)" fill="#f2ea18"/>
<ellipse cx="910.5" cy="72.4" rx="3.3" ry="1.9" transform="rotate(36 910.5 72.4)" fill="#f2ea18"/>
<ellipse cx="916.8" cy="72.7" rx="3.3" ry="1.9" transform="rotate(95 916.8 72.7)" fill="#f2ea18"/>
<ellipse cx="922.5" cy="71.6" rx="3.3" ry="1.9" transform="rotate(150 922.5 71.6)" fill="#f2ea18"/>
<ellipse cx="928.5" cy="71.8" rx="3.3" ry="1.9" transform="rotate(26 928.5 71.8)" fill="#f2ea18"/>
<ellipse cx="935.4" cy="72.6" rx="3.3" ry="1.9" transform="rotate(93 935.4 72.6)" fill="#f2ea18"/>
<ellipse cx="889.1" cy="77.7" rx="3.3" ry="1.9" transform="rotate(83 889.1 77.7)" fill="#f2ea18"/>
<ellipse cx="894.7" cy="78.1" rx="3.3" ry="1.9" transform="rotate(149 894.7 78.1)" fill="#f2ea18"/>
<ellipse cx="901.9" cy="77.6" rx="3.3" ry="1.9" transform="rotate(27 901.9 77.6)" fill="#f2ea18"/>
<ellipse cx="908.1" cy="78.0" rx="3.3" ry="1.9" transform="rotate(82 908.1 78.0)" fill="#f2ea18"/>
<ellipse cx="914.1" cy="77.6" rx="3.3" ry="1.9" transform="rotate(159 914.1 77.6)" fill="#f2ea18"/>
<ellipse cx="920.0" cy="78.3" rx="3.3" ry="1.9" transform="rotate(38 920.0 78.3)" fill="#f2ea18"/>
<ellipse cx="926.0" cy="78.5" rx="3.3" ry="1.9" transform="rotate(81 926.0 78.5)" fill="#f2ea18"/>
<ellipse cx="931.9" cy="78.3" rx="3.3" ry="1.9" transform="rotate(140 931.9 78.3)" fill="#f2ea18"/>
<ellipse cx="891.8" cy="83.7" rx="3.3" ry="1.9" transform="rotate(83 891.8 83.7)" fill="#f2ea18"/>
<ellipse cx="897.4" cy="83.3" rx="3.3" ry="1.9" transform="rotate(159 897.4 83.3)" fill="#f2ea18"/>
<ellipse cx="904.8" cy="83.5" rx="3.3" ry="1.9" transform="rotate(26 904.8 83.5)" fill="#f2ea18"/>
<ellipse cx="911.1" cy="82.5" rx="3.3" ry="1.9" transform="rotate(85 911.1 82.5)" fill="#f2ea18"/>
<ellipse cx="917.2" cy="83.8" rx="3.3" ry="1.9" transform="rotate(148 917.2 83.8)" fill="#f2ea18"/>
<ellipse cx="923.6" cy="82.6" rx="3.3" ry="1.9" transform="rotate(32 923.6 82.6)" fill="#f2ea18"/>
<ellipse cx="928.4" cy="82.8" rx="3.3" ry="1.9" transform="rotate(84 928.4 82.8)" fill="#f2ea18"/>
<ellipse cx="934.5" cy="83.0" rx="3.3" ry="1.9" transform="rotate(150 934.5 83.0)" fill="#f2ea18"/>
<ellipse cx="895.7" cy="88.0" rx="3.3" ry="1.9" transform="rotate(29 895.7 88.0)" fill="#f2ea18"/>
<ellipse cx="901.1" cy="88.4" rx="3.3" ry="1.9" transform="rotate(99 901.1 88.4)" fill="#f2ea18"/>
<ellipse cx="907.5" cy="88.6" rx="3.3" ry="1.9" transform="rotate(149 907.5 88.6)" fill="#f2ea18"/>
<ellipse cx="913.5" cy="89.3" rx="3.3" ry="1.9" transform="rotate(36 913.5 89.3)" fill="#f2ea18"/>
<ellipse cx="920.0" cy="88.0" rx="3.3" ry="1.9" transform="rotate(92 920.0 88.0)" fill="#f2ea18"/>
<ellipse cx="925.4" cy="88.3" rx="3.3" ry="1.9" transform="rotate(140 925.4 88.3)" fill="#f2ea18"/>
<ellipse cx="898.6" cy="94.2" rx="3.3" ry="1.9" transform="rotate(21 898.6 94.2)" fill="#f2ea18"/>
<ellipse cx="904.0" cy="94.5" rx="3.3" ry="1.9" transform="rotate(99 904.0 94.5)" fill="#f2ea18"/>
<ellipse cx="910.6" cy="94.1" rx="3.3" ry="1.9" transform="rotate(154 910.6 94.1)" fill="#f2ea18"/>
<ellipse cx="916.3" cy="94.3" rx="3.3" ry="1.9" transform="rotate(27 916.3 94.3)" fill="#f2ea18"/>
<ellipse cx="923.5" cy="93.9" rx="3.3" ry="1.9" transform="rotate(93 923.5 93.9)" fill="#f2ea18"/>
</g>
<circle cx="912.0" cy="61.900000000000006" r="1.8" fill="#3a58ff"/><circle cx="911.0" cy="83.4" r="2.3" fill="#2040e0"/>
<path d="M903.5,73.4 L915.5,73.4 L910.5,66.4 Z" fill="none" stroke="#fff" stroke-width="0.6"/>
<g transform="translate(910.5,37.400000000000006) rotate(-180) scale(0.5)">
<path d="M-11.38,2.98 L-25.07,-11.53 A6,6 0 0 0 -32.93,-2.47 L-16.62,9.02 Z" fill="#d47d45"/>
<path d="M16.62,9.02 L32.93,-2.47 A6,6 0 0 0 25.07,-11.53 L11.38,2.98 Z" fill="#d47d45"/>
<path d="M-5,39 L-5,1.5 L-20.5,-16.5" fill="none" stroke="#fff" stroke-width="10.1" stroke-linecap="round" stroke-linejoin="round"/>
<path d="M5,39 L5,1.5 L20.5,-16.5" fill="none" stroke="#fff" stroke-width="10.1" stroke-linecap="round" stroke-linejoin="round"/>
<path d="M-5,39 L-5,1.5 L-20.5,-16.5" fill="none" stroke="#e9b18e" stroke-width="8.7" stroke-linecap="round" stroke-linejoin="round"/>
<path d="M5,39 L5,1.5 L20.5,-16.5" fill="none" stroke="#e9b18e" stroke-width="8.7" stroke-linecap="round" stroke-linejoin="round"/>
</g>
<g transform="translate(939.8534698780899,53.33763377447406) rotate(-123) scale(0.5)">
<path d="M-11.38,2.98 L-25.07,-11.53 A6,6 0 0 0 -32.93,-2.47 L-16.62,9.02 Z" fill="#d47d45"/>
<path d="M16.62,9.02 L32.93,-2.47 A6,6 0 0 0 25.07,-11.53 L11.38,2.98 Z" fill="#d47d45"/>
<path d="M-5,39 L-5,1.5 L-20.5,-16.5" fill="none" stroke="#fff" stroke-width="10.1" stroke-linecap="round" stroke-linejoin="round"/>
<path d="M5,39 L5,1.5 L20.5,-16.5" fill="none" stroke="#fff" stroke-width="10.1" stroke-linecap="round" stroke-linejoin="round"/>
<path d="M-5,39 L-5,1.5 L-20.5,-16.5" fill="none" stroke="#e9b18e" stroke-width="8.7" stroke-linecap="round" stroke-linejoin="round"/>
<path d="M5,39 L5,1.5 L20.5,-16.5" fill="none" stroke="#e9b18e" stroke-width="8.7" stroke-linecap="round" stroke-linejoin="round"/>
</g>
<g transform="translate(940.8108891324554,89.9) rotate(-60) scale(0.5)">
<path d="M-11.38,2.98 L-25.07,-11.53 A6,6 0 0 0 -32.93,-2.47 L-16.62,9.02 Z" fill="#d47d45"/>
<path d="M16.62,9.02 L32.93,-2.47 A6,6 0 0 0 25.07,-11.53 L11.38,2.98 Z" fill="#d47d45"/>
<path d="M-5,39 L-5,1.5 L-20.5,-16.5" fill="none" stroke="#fff" stroke-width="10.1" stroke-linecap="round" stroke-linejoin="round"/>
<path d="M5,39 L5,1.5 L20.5,-16.5" fill="none" stroke="#fff" stroke-width="10.1" stroke-linecap="round" stroke-linejoin="round"/>
<path d="M-5,39 L-5,1.5 L-20.5,-16.5" fill="none" stroke="#e9b18e" stroke-width="8.7" stroke-linecap="round" stroke-linejoin="round"/>
<path d="M5,39 L5,1.5 L20.5,-16.5" fill="none" stroke="#e9b18e" stroke-width="8.7" stroke-linecap="round" stroke-linejoin="round"/>
</g>
<g transform="translate(910.5,107.4) rotate(0) scale(0.5)">
<path d="M-11.38,2.98 L-25.07,-11.53 A6,6 0 0 0 -32.93,-2.47 L-16.62,9.02 Z" fill="#d47d45"/>
<path d="M16.62,9.02 L32.93,-2.47 A6,6 0 0 0 25.07,-11.53 L11.38,2.98 Z" fill="#d47d45"/>
<path d="M-5,39 L-5,1.5 L-20.5,-16.5" fill="none" stroke="#fff" stroke-width="10.1" stroke-linecap="round" stroke-linejoin="round"/>
<path d="M5,39 L5,1.5 L20.5,-16.5" fill="none" stroke="#fff" stroke-width="10.1" stroke-linecap="round" stroke-linejoin="round"/>
<path d="M-5,39 L-5,1.5 L-20.5,-16.5" fill="none" stroke="#e9b18e" stroke-width="8.7" stroke-linecap="round" stroke-linejoin="round"/>
<path d="M5,39 L5,1.5 L20.5,-16.5" fill="none" stroke="#e9b18e" stroke-width="8.7" stroke-linecap="round" stroke-linejoin="round"/>
</g>
<g transform="translate(880.1891108675446,89.9) rotate(60) scale(0.5)">
<path d="M-11.38,2.98 L-25.07,-11.53 A6,6 0 0 0 -32.93,-2.47 L-16.62,9.02 Z" fill="#d47d45"/>
<path d="M16.62,9.02 L32.93,-2.47 A6,6 0 0 0 25.07,-11.53 L11.38,2.98 Z" fill="#d47d45"/>
<path d="M-5,39 L-5,1.5 L-20.5,-16.5" fill="none" stroke="#fff" stroke-width="10.1" stroke-linecap="round" stroke-linejoin="round"/>
<path d="M5,39 L5,1.5 L20.5,-16.5" fill="none" stroke="#fff" stroke-width="10.1" stroke-linecap="round" stroke-linejoin="round"/>
<path d="M-5,39 L-5,1.5 L-20.5,-16.5" fill="none" stroke="#e9b18e" stroke-width="8.7" stroke-linecap="round" stroke-linejoin="round"/>
<path d="M5,39 L5,1.5 L20.5,-16.5" fill="none" stroke="#e9b18e" stroke-width="8.7" stroke-linecap="round" stroke-linejoin="round"/>
</g>
<g transform="translate(881.1465301219101,53.33763377447406) rotate(123) scale(0.5)">
<path d="M-11.38,2.98 L-25.07,-11.53 A6,6 0 0 0 -32.93,-2.47 L-16.62,9.02 Z" fill="#d47d45"/>
<path d="M16.62,9.02 L32.93,-2.47 A6,6 0 0 0 25.07,-11.53 L11.38,2.98 Z" fill="#d47d45"/>
<path d="M-5,39 L-5,1.5 L-20.5,-16.5" fill="none" stroke="#fff" stroke-width="10.1" stroke-linecap="round" stroke-linejoin="round"/>
<path d="M5,39 L5,1.5 L20.5,-16.5" fill="none" stroke="#fff" stroke-width="10.1" stroke-linecap="round" stroke-linejoin="round"/>
<path d="M-5,39 L-5,1.5 L-20.5,-16.5" fill="none" stroke="#e9b18e" stroke-width="8.7" stroke-linecap="round" stroke-linejoin="round"/>
<path d="M5,39 L5,1.5 L20.5,-16.5" fill="none" stroke="#e9b18e" stroke-width="8.7" stroke-linecap="round" stroke-linejoin="round"/>
</g>
<g transform="translate(797.5,239.2) rotate(0) scale(1.0)">
<path d="M-11.24,3.12 L-27.74,-11.78 A4.6,4.6 0 0 0 -33.26,-4.42 L-14.36,7.28 Z" fill="#8b0a0a"/>
<path d="M14.36,7.28 L33.26,-4.42 A4.6,4.6 0 0 0 27.74,-11.78 L11.24,3.12 Z" fill="#8b0a0a"/>
<path d="M-5,39 L-5,1.5 L-20.5,-16.5" fill="none" stroke="#fff" stroke-width="10.1" stroke-linecap="round" stroke-linejoin="round"/>
<path d="M5,39 L5,1.5 L20.5,-16.5" fill="none" stroke="#fff" stroke-width="10.1" stroke-linecap="round" stroke-linejoin="round"/>
<path d="M-5,39 L-5,1.5 L-20.5,-16.5" fill="none" stroke="#b5561e" stroke-width="8.7" stroke-linecap="round" stroke-linejoin="round"/>
<path d="M5,39 L5,1.5 L20.5,-16.5" fill="none" stroke="#b5561e" stroke-width="8.7" stroke-linecap="round" stroke-linejoin="round"/>
</g>
<path d="M905.6,259.3 Q901.0,259.8 900.9,260.2 Q895.4,258.3 895.6,259.1 Q895.6,258.3 892.9,263.8 Q891.2,263.4 887.5,261.4 Q886.4,259.2 885.0,263.2 Q881.6,264.8 884.9,266.9 Q885.4,270.6 885.7,272.4 Q885.8,273.3 886.4,277.3 Q885.9,279.4 880.6,278.7" fill="none" stroke="#9c9c9c" stroke-width="0.9" stroke-linejoin="round"/>
<path d="M873.8,246.3 Q872.5,242.0 877.2,244.4 Q882.0,241.4 880.8,244.6 Q882.7,244.3 885.7,243.0 Q885.4,239.3 887.4,238.3 Q888.5,234.8 883.6,236.4 Q882.7,235.0 882.2,233.7 Q882.4,235.3 882.4,230.2 Q883.9,234.5 880.3,232.3 Q874.3,231.5 875.0,235.2" fill="none" stroke="#555555" stroke-width="1.2" stroke-linejoin="round"/>
<path d="M874.5,231.3 Q877.5,232.8 875.8,235.9 Q878.6,232.6 879.4,236.0 Q879.1,235.7 884.0,234.3 Q884.6,236.1 886.7,236.3 Q889.3,237.9 890.4,236.5 Q892.2,235.8 893.2,232.5 Q890.8,227.2 894.4,228.2 Q898.7,229.6 897.4,231.2 Q902.7,230.7 901.3,235.4" fill="none" stroke="#7a7a7a" stroke-width="1.2" stroke-linejoin="round"/>
<path d="M909.0,228.7 Q903.7,229.4 904.5,231.5 Q902.6,233.2 903.7,234.5 Q899.6,234.0 900.5,234.2 Q898.2,238.3 895.7,236.2 Q892.6,235.6 890.0,237.0 Q889.5,235.0 887.6,239.0 Q885.9,237.8 889.2,242.6 Q887.1,247.3 891.4,246.0 Q894.4,246.6 890.9,249.4" fill="none" stroke="#6a6a6a" stroke-width="1.2" stroke-linejoin="round"/>
<path d="M876.7,256.9 Q872.8,255.8 875.8,252.4 Q872.0,248.3 874.2,249.9 Q878.0,249.4 875.7,246.2 Q876.6,244.2 876.9,241.9 Q874.6,236.7 878.1,238.2 Q881.7,239.5 881.4,238.6 Q883.3,236.3 887.1,239.0 Q891.0,238.8 891.3,240.8 Q889.2,242.4 890.7,245.3" fill="none" stroke="#9c9c9c" stroke-width="0.9" stroke-linejoin="round"/>
<path d="M920.2,253.2 Q924.9,251.8 923.6,254.6 Q927.9,250.1 926.7,252.0 Q927.7,246.6 924.2,246.6 Q925.1,243.3 921.3,241.6 Q921.7,241.7 919.1,237.1 Q921.3,233.6 918.8,233.1 Q917.9,229.7 920.0,228.2 Q922.5,225.8 923.0,224.6 Q920.7,224.0 921.7,219.5" fill="none" stroke="#6a6a6a" stroke-width="1.2" stroke-linejoin="round"/>
<path d="M855.7,224.2 Q852.2,225.7 852.8,222.7 Q851.4,219.3 856.4,219.8 Q861.8,220.1 861.0,220.4 Q863.3,223.5 860.7,223.9 Q865.0,224.6 863.7,226.9 Q867.8,224.6 866.5,229.1 Q868.3,233.1 870.0,232.7 Q875.2,230.6 873.7,234.0 Q877.0,234.0 874.4,239.4" fill="none" stroke="#8a8a8a" stroke-width="1.0" stroke-linejoin="round"/>
<path d="M930.4,228.8 Q932.1,225.0 928.8,223.3 Q927.0,225.1 924.5,223.2 Q925.1,220.1 921.4,223.2 Q919.1,223.8 919.2,220.4 Q917.6,222.3 915.8,221.1 Q920.5,216.6 919.0,217.9 Q917.4,217.2 918.7,213.3 Q922.0,211.6 920.4,209.0 Q922.4,209.8 919.5,205.0" fill="none" stroke="#8a8a8a" stroke-width="1.0" stroke-linejoin="round"/>
<path d="M955.2,256.5 Q953.2,258.2 951.1,258.4 Q951.7,257.4 948.2,255.4 Q943.3,253.9 944.6,251.8 Q945.0,248.8 939.5,248.9 Q939.4,248.6 941.9,252.6 Q940.0,257.4 943.3,258.2 Q943.2,259.4 946.8,257.9 Q949.3,253.9 950.1,255.5 Q951.9,253.8 953.5,255.7" fill="none" stroke="#8a8a8a" stroke-width="1.2" stroke-linejoin="round"/>
<path d="M898.2,239.5 Q894.6,241.2 895.1,241.1 Q895.3,241.9 890.5,241.3 Q891.2,241.8 888.6,238.1 Q888.5,239.5 891.0,235.0 Q893.2,229.5 890.0,229.1 Q886.1,224.8 885.7,226.1 Q887.8,221.4 885.9,221.9 Q881.8,217.3 884.6,217.0 Q881.9,216.4 883.5,221.9" fill="none" stroke="#6a6a6a" stroke-width="0.9" stroke-linejoin="round"/>
<path d="M870.8,223.5 Q867.2,226.9 867.9,225.6 Q863.1,220.4 864.0,221.3 Q867.2,218.3 866.6,217.7 Q867.2,216.5 868.9,213.8 Q869.2,210.1 864.8,210.8 Q862.4,209.1 864.7,207.2 Q869.4,209.3 869.1,209.7 Q871.5,213.6 873.8,210.8 Q877.5,214.2 875.4,214.2" fill="none" stroke="#8a8a8a" stroke-width="1.0" stroke-linejoin="round"/>
<path d="M863.2,224.3 Q860.2,223.6 861.4,227.3 Q856.6,230.3 857.5,227.9 Q853.7,223.5 856.2,222.3 Q856.0,220.9 859.8,220.7 Q860.2,219.1 860.4,217.6 Q858.6,216.8 858.3,214.9 Q854.9,214.9 855.1,215.7 Q856.8,215.3 859.6,214.5 Q860.4,216.7 861.9,216.8" fill="none" stroke="#555555" stroke-width="1.2" stroke-linejoin="round"/>
<path d="M897.3,264.8 Q902.0,263.1 901.7,260.9 Q903.6,258.4 905.6,259.0 Q907.2,257.6 908.5,256.4 Q910.0,255.2 909.2,250.6 Q907.3,250.8 904.1,249.1 Q898.5,247.8 899.1,249.1 Q898.4,248.5 894.6,250.5 Q894.6,247.7 891.5,248.4 Q888.4,249.0 890.9,245.3" fill="none" stroke="#7a7a7a" stroke-width="0.9" stroke-linejoin="round"/>
<path d="M926.2,230.3 Q925.2,229.1 928.2,234.2 Q928.5,236.9 929.5,237.3 Q931.0,238.4 931.4,240.6 Q934.2,245.9 930.0,244.9 Q925.7,248.7 926.9,246.9 Q923.5,244.6 922.2,245.5 Q921.3,244.7 919.1,242.0 Q917.4,243.5 919.2,238.4 Q918.7,234.5 924.6,236.8" fill="none" stroke="#9c9c9c" stroke-width="1.0" stroke-linejoin="round"/>
<path d="M909.4,229.7 Q909.8,231.4 907.7,232.5 Q905.9,231.7 904.4,234.9 Q905.6,234.2 902.0,239.6 Q904.5,243.6 905.4,243.8 Q905.8,246.1 909.6,244.0 Q915.4,241.9 914.3,242.3 Q919.8,241.3 919.4,241.2 Q923.4,237.4 922.1,239.4 Q921.4,238.4 920.8,234.9" fill="none" stroke="#9c9c9c" stroke-width="0.9" stroke-linejoin="round"/>
<path d="M859.3,228.5 Q863.2,226.8 864.4,228.1 Q866.8,225.3 866.1,224.4 Q864.9,225.4 862.7,220.6 Q863.9,220.3 865.9,215.8 Q865.2,216.9 866.0,211.9 Q866.7,210.2 869.4,210.5 Q870.1,206.9 872.4,207.5 Q875.2,206.7 877.1,210.3 Q876.3,209.7 878.6,215.8" fill="none" stroke="#555555" stroke-width="0.9" stroke-linejoin="round"/>
<path d="M906.0,260.8 Q906.8,261.3 907.0,257.7 Q907.3,259.6 904.3,255.9 Q899.8,259.0 900.4,258.8 Q896.6,261.0 896.7,259.5 Q893.3,258.6 891.4,260.1 Q890.7,258.0 890.0,255.3 Q893.9,252.3 891.9,250.5 Q896.8,252.1 896.8,249.4 Q902.0,252.4 900.8,253.4" fill="none" stroke="#555555" stroke-width="1.0" stroke-linejoin="round"/>
<path d="M891.5,265.8 Q894.9,267.5 891.4,271.0 Q892.4,270.6 894.5,273.0 Q892.5,271.8 893.2,275.9 Q888.9,274.6 889.1,279.4 Q886.6,275.6 889.6,276.3 Q889.9,275.5 887.2,273.5 Q883.9,271.1 883.6,273.3 Q882.6,274.1 881.0,270.4 Q882.3,272.0 878.2,267.8" fill="none" stroke="#9c9c9c" stroke-width="1.2" stroke-linejoin="round"/>
<path d="M929.4,243.4 Q927.7,242.8 925.5,241.9 Q923.8,241.1 919.9,243.9 Q919.5,248.1 920.8,248.2 Q917.5,248.0 918.9,252.6 Q921.7,254.6 919.3,256.3 Q913.3,259.4 914.3,258.1 Q909.3,254.7 910.1,254.5 Q909.6,252.7 909.4,251.3 Q914.1,249.0 913.8,249.4" fill="none" stroke="#8a8a8a" stroke-width="1.0" stroke-linejoin="round"/>
<path d="M938.5,218.4 Q938.8,223.6 939.3,222.6 Q936.8,223.7 935.6,224.0 Q931.5,218.8 933.4,219.5 Q932.2,221.2 928.4,219.3 Q927.0,220.6 926.3,216.7 Q924.8,211.8 926.1,212.3 Q930.5,211.8 930.0,208.3 Q932.5,212.1 933.2,209.7 Q936.2,212.8 935.6,215.0" fill="none" stroke="#6a6a6a" stroke-width="1.0" stroke-linejoin="round"/>
<path d="M929.3,198.3 Q930.9,200.0 930.6,202.5 Q932.5,201.2 932.6,205.1 Q931.0,203.6 933.6,208.5 Q931.7,207.6 935.4,213.3 Q935.4,213.2 931.6,215.3 Q926.6,211.9 926.5,212.6 Q924.3,216.9 922.3,215.3 Q923.2,211.9 920.0,212.1 Q920.1,208.4 923.5,209.1" fill="none" stroke="#9c9c9c" stroke-width="1.2" stroke-linejoin="round"/>
<path d="M905.4,233.4 Q907.1,233.3 905.8,236.7 Q903.9,239.4 905.7,240.6 Q903.5,246.0 905.4,245.3 Q905.9,245.8 900.3,245.4 Q901.9,245.3 899.7,250.3 Q898.4,249.6 899.4,254.6 Q900.3,254.9 895.9,256.0 Q894.6,255.8 892.3,254.9 Q888.5,259.0 889.3,259.8" fill="none" stroke="#9c9c9c" stroke-width="1.2" stroke-linejoin="round"/>
<path d="M874.8,275.2 Q877.7,277.2 876.2,279.8 Q871.2,279.9 871.3,276.3 Q872.4,274.4 871.9,270.6 Q872.6,266.3 874.6,268.4 Q875.3,266.3 877.4,266.5 Q880.1,261.6 876.9,262.8 Q880.6,260.2 880.3,258.9 Q880.3,260.5 882.4,256.4 Q883.9,255.8 886.8,258.2" fill="none" stroke="#7a7a7a" stroke-width="1.2" stroke-linejoin="round"/>
<path d="M898.0,246.4 Q899.5,248.1 902.0,244.1 Q904.4,245.5 903.6,241.3 Q907.6,239.1 908.0,239.6 Q907.0,239.1 911.2,239.4 Q910.2,240.6 915.4,239.1 Q915.9,238.3 919.1,239.1 Q923.1,241.2 921.4,236.8 Q923.5,238.2 926.8,235.2 Q928.4,235.7 929.0,230.5" fill="none" stroke="#6a6a6a" stroke-width="1.2" stroke-linejoin="round"/>
<path d="M865.7,269.1 Q863.9,266.0 864.8,265.4 Q865.8,266.7 868.8,266.8 Q872.4,264.1 870.4,264.2 Q875.2,261.5 873.4,259.2 Q875.7,260.1 872.1,255.5 Q878.0,252.1 877.0,252.9 Q881.5,249.5 880.6,252.5 Q880.0,252.8 882.1,247.5 Q882.1,248.5 887.1,246.7" fill="none" stroke="#7a7a7a" stroke-width="1.0" stroke-linejoin="round"/>
<path d="M859.6,216.4 Q856.1,216.9 856.3,215.0 Q858.4,210.7 859.2,210.1 Q861.7,208.4 862.2,212.5 Q861.3,214.6 860.0,216.2 Q860.3,216.1 863.6,219.4 Q861.9,222.8 863.3,222.7 Q864.8,222.0 865.7,225.7 Q861.0,228.0 862.8,230.9 Q863.8,231.5 858.9,232.1" fill="none" stroke="#8a8a8a" stroke-width="0.9" stroke-linejoin="round"/>
<path d="M910.7,238.9 Q911.3,239.2 911.9,234.6 Q916.7,230.7 915.3,231.5 Q917.8,229.8 918.7,231.8 Q923.4,233.6 924.0,231.3 Q923.5,230.2 926.9,227.9 Q928.6,228.2 928.9,225.5 Q928.8,221.3 933.3,222.0 Q931.7,219.7 931.0,218.2 Q925.4,220.2 925.9,216.5" fill="none" stroke="#555555" stroke-width="1.2" stroke-linejoin="round"/>
<path d="M919.5,234.6 Q919.7,236.0 922.4,235.6 Q924.8,233.5 925.9,237.2 Q924.5,236.6 926.5,240.7 Q927.5,240.1 924.4,245.8 Q922.2,251.1 923.9,249.8 Q927.9,253.9 928.2,251.2 Q925.4,255.2 926.2,253.6 Q921.2,251.0 922.1,254.9 Q922.8,250.5 920.2,249.9" fill="none" stroke="#9c9c9c" stroke-width="0.9" stroke-linejoin="round"/>
<path d="M886.5,242.6 Q891.2,241.9 889.2,239.6 Q889.0,234.9 886.7,236.3 Q886.9,235.8 882.1,234.0 Q881.4,234.3 882.3,229.7 Q879.5,226.1 880.6,224.6 Q876.1,221.8 876.2,223.2 Q873.0,223.9 872.4,225.5 Q873.5,221.4 869.4,221.4 Q869.4,219.6 866.8,219.7" fill="none" stroke="#9c9c9c" stroke-width="1.2" stroke-linejoin="round"/>
<path d="M858.2,214.9 Q853.8,218.3 854.2,215.6 Q858.5,214.3 857.4,215.4 Q856.0,216.2 860.7,218.5 Q859.8,219.2 863.8,218.5 Q863.6,216.8 864.4,214.6 Q860.6,214.7 860.2,211.6 Q861.2,215.2 863.9,213.7 Q864.6,211.1 867.6,212.5 Q868.3,211.4 867.2,209.4" fill="none" stroke="#9c9c9c" stroke-width="1.2" stroke-linejoin="round"/>
<path d="M895.9,260.1 Q898.8,255.3 896.6,254.2 Q896.9,252.1 898.2,251.4 Q895.5,249.9 895.2,248.5 Q892.8,248.2 891.8,248.1 Q888.4,247.2 888.6,252.0 Q885.8,254.7 887.8,256.2 Q887.5,254.5 884.4,259.5 Q880.4,260.6 882.5,263.1 Q884.8,264.3 885.9,266.0" fill="none" stroke="#9c9c9c" stroke-width="1.0" stroke-linejoin="round"/>
<path d="M853.2,217.0 Q855.5,220.7 852.3,222.4 Q855.5,221.1 853.0,226.3 Q853.7,228.6 853.8,229.4 Q855.2,229.0 857.0,229.4 Q859.5,232.7 857.7,233.5 Q859.2,231.6 861.1,236.5 Q862.7,238.2 863.7,235.0 Q867.5,238.1 866.8,235.9 Q866.9,235.1 870.4,239.9" fill="none" stroke="#6a6a6a" stroke-width="1.0" stroke-linejoin="round"/>
<path d="M868.9,265.1 Q869.5,266.5 872.4,265.3 Q872.9,266.0 874.6,268.5 Q875.8,269.8 875.0,273.0 Q875.2,278.1 872.1,278.0 Q872.3,275.5 867.1,275.7 Q868.1,270.3 866.7,271.2 Q867.1,268.1 867.8,267.1 Q869.0,262.8 867.5,261.9 Q869.5,257.8 869.0,258.1" fill="none" stroke="#8a8a8a" stroke-width="1.2" stroke-linejoin="round"/>
<path d="M882.6,265.8 Q884.9,260.4 883.1,260.3 Q880.5,255.7 881.7,255.5 Q882.5,259.2 877.0,256.2 Q875.7,259.6 875.5,261.1 Q878.9,260.8 875.5,266.9 Q871.3,266.7 873.5,269.6 Q867.9,269.1 867.7,271.0 Q867.7,272.4 868.1,275.6 Q872.1,276.2 871.4,279.8" fill="none" stroke="#7a7a7a" stroke-width="1.2" stroke-linejoin="round"/>
<path d="M913.6,245.7 Q909.7,247.4 911.2,243.1 Q906.4,241.7 906.8,242.7 Q903.8,245.9 905.8,247.3 Q906.5,248.0 907.5,250.6 Q905.9,253.9 910.4,251.8 Q909.8,251.3 913.6,251.1 Q916.7,252.8 914.6,254.6 Q915.2,253.9 917.3,259.3 Q920.9,256.1 917.6,253.7" fill="none" stroke="#6a6a6a" stroke-width="0.9" stroke-linejoin="round"/>
<path d="M954.7,256.8 Q953.7,253.1 951.9,255.6 Q946.1,253.8 946.5,253.8 Q943.8,255.1 944.8,250.5 Q944.1,249.9 943.0,247.0 Q947.3,247.3 946.9,248.9 Q943.3,248.9 946.5,253.8 Q947.7,254.6 948.7,258.5 Q946.3,258.4 944.6,261.0 Q945.9,261.7 945.9,265.7" fill="none" stroke="#8a8a8a" stroke-width="1.2" stroke-linejoin="round"/>
<path d="M924.2,205.4 Q922.3,205.7 927.1,207.4 Q931.5,208.7 929.5,205.2 Q928.8,202.2 932.6,205.3 Q933.6,205.8 937.1,206.7 Q939.0,211.7 936.9,211.2 Q934.8,215.0 934.2,213.0 Q932.1,208.1 929.7,210.1 Q931.8,204.7 928.1,205.4 Q927.8,204.9 928.2,201.4" fill="none" stroke="#7a7a7a" stroke-width="1.2" stroke-linejoin="round"/>
<path d="M929.0,219.7 Q930.1,220.3 931.7,216.3 Q933.2,211.4 934.2,213.0 Q936.0,212.3 938.5,214.6 Q938.1,213.5 940.2,211.9 Q941.2,207.9 940.4,208.2 Q937.1,209.1 940.2,203.5 Q943.1,203.8 940.1,199.9 Q935.9,197.4 937.2,198.4 Q932.2,197.7 933.7,199.2" fill="none" stroke="#555555" stroke-width="1.0" stroke-linejoin="round"/>
<path d="M904.2,257.2 Q903.3,258.9 908.3,259.8 Q907.0,260.6 905.0,255.7 Q904.4,251.2 905.7,252.3 Q906.4,253.9 902.0,250.8 Q899.9,254.4 899.4,253.2 Q893.8,257.7 894.2,255.4 Q896.1,259.4 892.8,260.1 Q893.7,258.7 895.7,264.2 Q894.8,266.6 892.5,266.3" fill="none" stroke="#8a8a8a" stroke-width="0.9" stroke-linejoin="round"/>
<path d="M871.7,207.4 Q873.6,207.8 873.8,210.8 Q873.2,211.7 876.7,209.4 Q876.7,208.1 880.9,212.7 Q877.2,211.6 878.7,215.8 Q879.4,217.6 881.2,219.6 Q885.5,222.5 884.5,219.0 Q883.1,222.1 885.5,223.1 Q881.6,225.2 880.9,224.9 Q878.1,226.4 882.1,229.6" fill="none" stroke="#555555" stroke-width="1.0" stroke-linejoin="round"/>
<path d="M888.7,229.7 Q891.5,229.4 892.0,229.8 Q894.2,230.9 895.0,229.2 Q898.5,233.0 896.7,234.4 Q895.9,234.8 899.8,235.2 Q899.2,233.7 904.7,236.0 Q905.0,231.6 906.3,230.9 Q903.9,232.9 907.7,227.9 Q912.8,226.4 911.9,224.6 Q916.3,223.8 916.0,222.8" fill="none" stroke="#6a6a6a" stroke-width="1.2" stroke-linejoin="round"/>
<path d="M890.9,279.4 Q895.2,277.5 894.2,276.5 Q893.0,276.8 893.5,272.4 Q894.3,271.9 896.3,270.6 Q893.8,273.2 895.0,273.5 Q893.1,273.5 893.2,277.0 Q890.9,271.9 893.2,272.3 Q892.8,271.0 888.1,269.7 Q883.9,271.8 884.2,272.3 Q879.7,272.8 880.6,268.7" fill="none" stroke="#8a8a8a" stroke-width="0.9" stroke-linejoin="round"/>
<path d="M865.2,274.6 Q869.2,275.9 869.6,273.4 Q869.2,272.5 872.8,271.1 Q877.7,268.7 877.0,270.5 Q875.0,276.2 878.1,275.1 Q877.5,274.3 875.2,276.7 Q870.5,279.2 871.7,277.5 Q868.9,277.0 868.7,276.0 Q868.8,275.0 866.5,271.0 Q867.6,271.7 862.5,272.0" fill="none" stroke="#555555" stroke-width="1.0" stroke-linejoin="round"/>
<path d="M875.2,270.6 Q874.1,275.8 876.6,274.4 Q873.9,279.0 875.3,279.8 Q874.2,282.4 878.5,281.4 Q879.3,282.1 884.0,281.5 Q879.5,277.6 881.5,278.7 Q878.1,282.5 877.8,279.4 Q872.8,277.3 873.7,280.3 Q871.0,278.2 872.5,275.4 Q872.8,274.6 875.4,272.1" fill="none" stroke="#6a6a6a" stroke-width="0.9" stroke-linejoin="round"/>
<path d="M877.7,275.0 Q873.8,275.5 875.1,278.5 Q870.9,281.2 872.0,279.2 Q867.1,275.9 867.5,277.9 Q865.8,274.5 868.0,272.2 Q865.9,272.1 869.1,266.8 Q868.8,264.4 869.5,263.7 Q871.1,262.7 872.9,259.0 Q872.2,257.6 876.1,254.9 Q873.2,251.9 875.1,251.0" fill="none" stroke="#555555" stroke-width="1.2" stroke-linejoin="round"/>
<path d="M878.2,270.5 Q878.2,268.8 875.3,268.6 Q874.5,268.9 871.8,271.3 Q873.8,274.7 869.9,273.8 Q868.0,278.5 870.2,277.6 Q871.3,278.1 873.7,278.2 Q873.1,278.8 877.0,277.6 Q876.6,281.9 881.2,279.3 Q882.8,279.1 884.6,279.1 Q886.5,277.0 890.4,277.8" fill="none" stroke="#8a8a8a" stroke-width="0.9" stroke-linejoin="round"/>
<path d="M924.0,211.0 Q922.2,215.0 919.2,213.3 Q923.4,213.9 922.5,211.4 Q919.8,209.9 923.8,207.8 Q921.3,203.5 922.2,204.3 Q922.6,205.0 922.8,200.5 Q924.7,203.9 926.0,204.1 Q930.4,208.0 928.9,208.1 Q933.5,207.5 932.0,208.8 Q932.5,209.5 933.7,212.1" fill="none" stroke="#8a8a8a" stroke-width="1.2" stroke-linejoin="round"/>
<path d="M906.0,238.6 Q907.5,240.2 902.8,239.6 Q900.2,243.0 903.1,245.3 Q904.5,249.1 908.6,247.6 Q907.1,242.3 911.6,243.6 Q915.1,244.1 916.1,239.6 Q915.4,240.1 920.6,240.2 Q921.1,238.6 923.7,236.9 Q922.8,234.3 923.0,231.9 Q921.2,234.8 918.6,231.2" fill="none" stroke="#555555" stroke-width="0.9" stroke-linejoin="round"/>
<path d="M862.2,217.4 Q867.9,218.8 867.2,214.3 Q866.4,215.6 872.3,217.2 Q874.8,219.7 875.8,220.7 Q875.2,225.4 874.2,223.6 Q878.1,227.8 876.8,225.7 Q880.3,226.0 879.1,223.6 Q882.7,224.3 882.8,220.6 Q883.9,222.6 880.9,218.0 Q880.6,215.0 882.5,214.1" fill="none" stroke="#6a6a6a" stroke-width="0.9" stroke-linejoin="round"/>
<path d="M935.6,210.8 Q931.8,214.5 931.8,212.9 Q929.9,214.5 931.5,216.4 Q928.0,218.6 928.2,218.7 Q926.0,223.6 927.2,223.2 Q927.1,223.4 929.7,225.9 Q931.9,228.7 929.9,231.0 Q928.7,236.1 928.6,234.3 Q931.5,239.8 928.6,238.4 Q931.2,242.0 929.7,241.6" fill="none" stroke="#9c9c9c" stroke-width="0.9" stroke-linejoin="round"/>
<path d="M889.2,247.4 Q885.5,244.6 888.5,241.9 Q890.7,238.0 887.0,239.1 Q887.5,241.6 881.5,238.0 Q876.2,240.3 875.9,239.6 Q872.5,239.3 874.2,236.4 Q878.9,234.0 877.3,232.3 Q876.1,233.7 878.1,229.0 Q875.6,225.0 875.1,227.2 Q870.7,227.5 871.6,227.3" fill="none" stroke="#555555" stroke-width="1.2" stroke-linejoin="round"/>
<path d="M920.2,235.4 Q923.9,240.1 921.8,238.1 Q917.8,243.1 918.2,241.7 Q916.6,245.0 915.2,242.9 Q916.6,243.0 911.1,243.3 Q910.8,246.2 910.8,246.7 Q911.3,247.5 911.2,251.4 Q915.6,254.9 915.4,251.9 Q919.2,250.7 916.5,247.8 Q914.1,244.7 913.9,246.3" fill="none" stroke="#6a6a6a" stroke-width="1.0" stroke-linejoin="round"/>
<path d="M936.6,206.1 Q933.6,208.4 932.7,205.3 Q931.1,204.1 928.8,203.5 Q924.1,206.7 923.1,203.8 Q922.4,206.6 926.2,206.2 Q926.1,209.0 930.9,205.5 Q933.4,203.2 933.2,203.2 Q938.0,202.0 936.9,200.6 Q937.7,197.7 938.6,198.1 Q940.2,198.1 941.8,198.4" fill="none" stroke="#8a8a8a" stroke-width="0.9" stroke-linejoin="round"/>
<path d="M931.3,197.5 Q935.4,199.0 933.8,200.3 Q938.8,201.6 937.6,203.0 Q941.7,204.1 940.9,205.1 Q940.7,207.6 944.5,205.4 Q949.0,209.2 947.7,210.4 Q949.1,214.9 946.1,215.2 Q947.5,213.0 943.1,217.5 Q943.5,219.4 939.8,219.8 Q938.5,215.0 935.1,216.4" fill="none" stroke="#8a8a8a" stroke-width="0.9" stroke-linejoin="round"/>
<path d="M926.6,206.7 Q924.0,210.6 924.8,211.7 Q924.1,213.1 921.0,215.3 Q921.7,213.7 918.9,218.9 Q922.3,219.2 919.7,223.4 Q921.7,224.8 918.3,226.2 Q917.4,222.9 914.8,225.0 Q913.0,227.7 911.6,227.8 Q914.5,226.7 913.7,231.0 Q911.7,232.0 916.4,232.5" fill="none" stroke="#555555" stroke-width="1.2" stroke-linejoin="round"/>
<path d="M931.9,196.7 Q934.7,194.5 934.7,198.5 Q933.7,203.8 935.7,203.0 Q936.2,203.6 938.2,206.5 Q939.4,210.4 935.5,209.3 Q937.1,212.5 932.8,211.7 Q930.9,210.8 930.0,210.1 Q929.8,212.4 925.3,208.8 Q923.1,207.5 919.7,207.2 Q916.8,212.2 918.5,210.3" fill="none" stroke="#555555" stroke-width="0.9" stroke-linejoin="round"/>
<path d="M928.1,235.7 Q923.6,238.2 925.3,234.2 Q924.0,235.3 926.3,230.7 Q926.6,230.1 927.5,228.0 Q926.6,227.9 926.9,233.5 Q926.9,234.6 925.8,237.1 Q927.6,240.6 926.1,242.3 Q929.3,246.9 929.1,244.6 Q929.5,246.2 928.0,250.2 Q932.2,251.7 933.2,252.0" fill="none" stroke="#7a7a7a" stroke-width="0.9" stroke-linejoin="round"/>
<path d="M941.7,216.2 Q939.8,216.4 938.5,219.1 Q935.2,221.8 934.6,220.6 Q935.3,221.3 930.7,222.7 Q932.1,226.8 927.0,227.0 Q927.6,227.9 925.0,231.6 Q923.5,234.2 919.8,234.3 Q915.9,237.8 915.9,237.5 Q912.3,240.5 910.9,240.6 Q913.7,240.9 912.7,244.5" fill="none" stroke="#555555" stroke-width="1.0" stroke-linejoin="round"/>
<path d="M930.0,224.8 Q929.3,228.0 927.5,226.8 Q926.1,227.6 923.5,225.4 Q923.0,221.3 921.3,220.6 Q922.0,221.7 922.1,216.0 Q927.2,212.7 926.0,212.6 Q927.9,209.1 930.0,210.3 Q933.9,208.4 935.6,209.5 Q934.6,211.7 938.6,212.5 Q943.9,214.3 942.3,215.3" fill="none" stroke="#9c9c9c" stroke-width="1.0" stroke-linejoin="round"/>
<path d="M875.1,226.3 Q871.6,229.1 872.0,229.0 Q872.6,231.6 872.9,233.6 Q876.0,236.4 875.0,237.3 Q871.8,236.1 872.7,241.6 Q873.5,239.5 877.3,239.8 Q878.1,242.0 881.4,239.8 Q883.8,239.1 883.3,245.0 Q879.7,246.7 879.1,248.3 Q878.8,249.1 877.0,252.5" fill="none" stroke="#9c9c9c" stroke-width="1.0" stroke-linejoin="round"/>
<g transform="translate(946.5,261) rotate(-12) scale(0.68)">
<path d="M-11.24,3.12 L-27.74,-11.78 A4.6,4.6 0 0 0 -33.26,-4.42 L-14.36,7.28 Z" fill="#8b0a0a"/>
<path d="M14.36,7.28 L33.26,-4.42 A4.6,4.6 0 0 0 27.74,-11.78 L11.24,3.12 Z" fill="#8b0a0a"/>
<path d="M-5,39 L-5,1.5 L-20.5,-16.5" fill="none" stroke="#fff" stroke-width="10.1" stroke-linecap="round" stroke-linejoin="round"/>
<path d="M5,39 L5,1.5 L20.5,-16.5" fill="none" stroke="#fff" stroke-width="10.1" stroke-linecap="round" stroke-linejoin="round"/>
<path d="M-5,39 L-5,1.5 L-20.5,-16.5" fill="none" stroke="#b5561e" stroke-width="8.7" stroke-linecap="round" stroke-linejoin="round"/>
<path d="M5,39 L5,1.5 L20.5,-16.5" fill="none" stroke="#b5561e" stroke-width="8.7" stroke-linecap="round" stroke-linejoin="round"/>
</g>
<ellipse cx="824.8" cy="406.5" rx="42.6" ry="39.4" fill="#f3dccf" stroke="#c8906a" stroke-width="1.3"/>
<ellipse cx="823" cy="407" rx="37" ry="34" fill="#f8e8de"/>
<ellipse cx="825" cy="409" rx="35" ry="32" fill="#f3ddd0"/>
<ellipse cx="836.1" cy="400" rx="25.1" ry="24.4" fill="#d6884e"/>
<path d="M818,384 A24,24 0 0 0 830,423" fill="none" stroke="#f4dccb" stroke-width="1.2"/>
<ellipse cx="918.7" cy="403.7" rx="40.3" ry="39.4" fill="#f3c3c3" stroke="#d94c4c" stroke-width="1.5"/>
<ellipse cx="917" cy="404" rx="35" ry="34" fill="#f7d6d6"/>
<ellipse cx="919" cy="406" rx="33" ry="32" fill="#f3c4c4"/>
<ellipse cx="929.4" cy="397.5" rx="24" ry="24" fill="#d92b25"/>
<path d="M912,381 A23,23 0 0 0 922,420" fill="none" stroke="#f6d0d0" stroke-width="1.2"/>
<text transform="translate(793.24,418.40) scale(0.9706,1)" font-family="'Liberation Serif', serif" font-size="30.00" font-weight="normal" fill="#000" >CD4</text>
<text transform="translate(892.94,418.40) scale(0.9741,1)" font-family="'Liberation Serif', serif" font-size="30.00" font-weight="normal" fill="#000" >CD8</text>
<path d="M921.3,578.0 C921.5,579.9 917.5,581.7 917.0,583.7 C916.4,585.8 918.9,588.5 917.9,590.3 C916.8,592.1 912.3,592.7 910.5,594.4 C908.6,596.1 909.0,599.1 906.8,600.4 C904.7,601.6 900.4,601.3 897.7,602.1 C894.9,603.0 893.0,605.0 890.2,605.5 C887.5,605.9 884.2,604.5 881.2,605.0 C878.2,605.4 875.1,608.4 872.3,608.3 C869.5,608.1 867.4,604.7 864.4,604.1 C861.5,603.4 856.8,605.3 854.5,604.3 C852.2,603.2 852.9,599.2 850.7,597.7 C848.5,596.2 843.1,596.9 841.5,595.4 C839.8,593.9 842.1,590.7 840.8,588.9 C839.5,587.0 834.6,586.0 833.9,584.2 C833.2,582.4 836.3,580.0 836.6,578.0 C836.8,576.0 834.4,573.8 835.2,572.0 C835.9,570.2 839.8,569.0 840.9,567.1 C842.0,565.3 840.4,562.4 841.9,560.8 C843.3,559.1 847.2,558.8 849.4,557.3 C851.5,555.8 852.1,552.7 854.7,551.9 C857.2,551.1 861.9,553.4 864.8,552.7 C867.8,552.1 869.6,548.2 872.3,548.0 C875.0,547.8 878.1,551.3 881.1,551.6 C884.2,551.9 888.1,549.0 890.7,549.6 C893.3,550.2 894.2,553.9 896.7,555.0 C899.1,556.2 903.3,555.5 905.6,556.6 C907.9,557.7 908.5,560.1 910.3,561.7 C912.1,563.3 915.6,564.3 916.5,566.1 C917.4,567.9 914.9,570.5 915.7,572.5 C916.5,574.4 921.1,576.1 921.3,578.0 Z" fill="#7ea8d2"/>
<ellipse cx="867" cy="585" rx="11.4" ry="9.3" fill="#567593"/>
<circle cx="862.4" cy="600.2" r="1.05" fill="#2c4660"/>
<circle cx="880.9" cy="586.5" r="1.05" fill="#2c4660"/>
<circle cx="892.1" cy="600.4" r="1.05" fill="#2c4660"/>
<circle cx="907.1" cy="568.3" r="1.05" fill="#2c4660"/>
<circle cx="867.7" cy="562.0" r="1.05" fill="#2c4660"/>
<circle cx="866.0" cy="568.9" r="1.05" fill="#2c4660"/>
<circle cx="901.6" cy="577.1" r="1.05" fill="#2c4660"/>
<circle cx="893.1" cy="556.7" r="1.05" fill="#2c4660"/>
<circle cx="896.5" cy="594.6" r="1.05" fill="#2c4660"/>
<circle cx="855.5" cy="590.3" r="1.05" fill="#2c4660"/>
<circle cx="866.5" cy="571.0" r="1.05" fill="#2c4660"/>
<circle cx="879.8" cy="591.2" r="1.05" fill="#2c4660"/>
<circle cx="849.0" cy="589.9" r="1.05" fill="#2c4660"/>
<circle cx="900.0" cy="595.3" r="1.05" fill="#2c4660"/>
<circle cx="847.7" cy="570.4" r="1.05" fill="#2c4660"/>
<circle cx="886.2" cy="598.1" r="1.05" fill="#2c4660"/>
<circle cx="866.2" cy="598.4" r="1.05" fill="#2c4660"/>
<circle cx="881.3" cy="569.0" r="1.05" fill="#2c4660"/>
<circle cx="864.4" cy="562.5" r="1.05" fill="#2c4660"/>
<circle cx="914.0" cy="579.6" r="1.05" fill="#2c4660"/>
<circle cx="871.0" cy="565.4" r="1.05" fill="#2c4660"/>
<circle cx="885.0" cy="593.7" r="1.05" fill="#2c4660"/>
<circle cx="874.7" cy="574.2" r="1.05" fill="#2c4660"/>
<circle cx="843.4" cy="577.7" r="1.05" fill="#2c4660"/>
<circle cx="903.0" cy="560.3" r="1.05" fill="#2c4660"/>
<circle cx="895.1" cy="599.6" r="1.05" fill="#2c4660"/>
<circle cx="887.6" cy="591.8" r="1.05" fill="#2c4660"/>
<circle cx="848.9" cy="574.9" r="1.05" fill="#2c4660"/>
<circle cx="852.0" cy="594.5" r="1.05" fill="#2c4660"/>
<circle cx="913.2" cy="575.8" r="1.05" fill="#2c4660"/>
<circle cx="876.4" cy="568.0" r="1.05" fill="#2c4660"/>
<circle cx="870.9" cy="561.0" r="1.05" fill="#2c4660"/>
<circle cx="868.9" cy="601.4" r="1.05" fill="#2c4660"/>
<circle cx="912.0" cy="584.1" r="1.05" fill="#2c4660"/>
<circle cx="877.9" cy="570.2" r="1.05" fill="#2c4660"/>
<circle cx="847.6" cy="567.1" r="1.05" fill="#2c4660"/>
<circle cx="898.9" cy="595.6" r="1.05" fill="#2c4660"/>
<circle cx="898.3" cy="587.3" r="1.05" fill="#2c4660"/>
<circle cx="890.1" cy="590.5" r="1.05" fill="#2c4660"/>
<circle cx="898.0" cy="587.2" r="1.05" fill="#2c4660"/>
<circle cx="862.7" cy="599.4" r="1.05" fill="#2c4660"/>
<circle cx="889.1" cy="581.9" r="1.05" fill="#2c4660"/>
<circle cx="841.9" cy="580.3" r="1.05" fill="#2c4660"/>
<circle cx="888.9" cy="592.3" r="1.05" fill="#2c4660"/>
<circle cx="895.6" cy="593.8" r="1.05" fill="#2c4660"/>
<circle cx="905.4" cy="587.0" r="1.05" fill="#2c4660"/>
<circle cx="879.3" cy="579.4" r="1.05" fill="#2c4660"/>
<circle cx="853.3" cy="594.2" r="1.05" fill="#2c4660"/>
<circle cx="910.4" cy="576.9" r="1.05" fill="#2c4660"/>
<circle cx="892.2" cy="588.5" r="1.05" fill="#2c4660"/>
<circle cx="895.0" cy="562.2" r="1.05" fill="#2c4660"/>
<circle cx="898.7" cy="581.9" r="1.05" fill="#2c4660"/>
<circle cx="890.3" cy="574.2" r="1.05" fill="#2c4660"/>
<circle cx="887.2" cy="591.2" r="1.05" fill="#2c4660"/>
<circle cx="888.1" cy="588.6" r="1.05" fill="#2c4660"/>
<circle cx="887.7" cy="556.0" r="1.05" fill="#2c4660"/>
<circle cx="875.9" cy="564.9" r="1.05" fill="#2c4660"/>
<circle cx="864.5" cy="562.7" r="1.05" fill="#2c4660"/>
<circle cx="875.4" cy="572.3" r="1.05" fill="#2c4660"/>
<circle cx="886.3" cy="582.3" r="1.05" fill="#2c4660"/>
<circle cx="858.6" cy="597.4" r="1.05" fill="#2c4660"/>
<circle cx="841.0" cy="573.5" r="1.05" fill="#2c4660"/>
<circle cx="861.6" cy="573.7" r="1.05" fill="#2c4660"/>
<circle cx="849.5" cy="593.9" r="1.05" fill="#2c4660"/>
<circle cx="868.7" cy="555.7" r="1.05" fill="#2c4660"/>
<circle cx="886.4" cy="558.6" r="1.05" fill="#2c4660"/>
<circle cx="881.3" cy="570.3" r="1.05" fill="#2c4660"/>
<circle cx="884.0" cy="600.0" r="1.05" fill="#2c4660"/>
<circle cx="901.6" cy="574.1" r="1.05" fill="#2c4660"/>
<circle cx="901.2" cy="584.8" r="1.05" fill="#2c4660"/>
<circle cx="868.3" cy="560.8" r="1.05" fill="#2c4660"/>
<circle cx="885.1" cy="581.1" r="1.05" fill="#2c4660"/>
<circle cx="886.0" cy="570.9" r="1.05" fill="#2c4660"/>
<circle cx="849.0" cy="581.2" r="1.05" fill="#2c4660"/>
<circle cx="886.5" cy="560.8" r="1.05" fill="#2c4660"/>
<circle cx="887.6" cy="596.8" r="1.05" fill="#2c4660"/>
<circle cx="857.7" cy="568.0" r="1.05" fill="#2c4660"/>
<circle cx="913.0" cy="572.2" r="1.05" fill="#2c4660"/>
<circle cx="885.1" cy="566.5" r="1.05" fill="#2c4660"/>
<circle cx="913.6" cy="577.8" r="1.05" fill="#2c4660"/>
<line x1="895" y1="567" x2="913" y2="556" stroke="#56728c" stroke-width="2"/>
<line x1="899" y1="571" x2="917" y2="561" stroke="#56728c" stroke-width="2"/>
<line x1="904" y1="560" x2="908" y2="566" stroke="#56728c" stroke-width="1.6"/>
<line x1="905" y1="574" x2="935" y2="559.5" stroke="#56728c" stroke-width="2"/>
<ellipse cx="938" cy="559" rx="5" ry="3" fill="#4e6478" transform="rotate(-15 938 559)"/>
<g transform="translate(792.5,566) rotate(0) scale(1.0)">
<path d="M-9.22,1.10 L-23.85,-15.36 A4.6,4.6 0 0 0 -30.15,-8.64 L-12.78,4.90 Z" fill="#3b3bea"/>
<path d="M12.78,4.90 L30.15,-8.64 A4.6,4.6 0 0 0 23.85,-15.36 L9.22,1.10 Z" fill="#3b3bea"/>
<path d="M-5,34.5 L-5,1.5 L-17,-20" fill="none" stroke="#fff" stroke-width="10.1" stroke-linecap="round" stroke-linejoin="round"/>
<path d="M5,34.5 L5,1.5 L17,-20" fill="none" stroke="#fff" stroke-width="10.1" stroke-linecap="round" stroke-linejoin="round"/>
<path d="M-5,34.5 L-5,1.5 L-17,-20" fill="none" stroke="#7b7bf2" stroke-width="8.7" stroke-linecap="round" stroke-linejoin="round"/>
<path d="M5,34.5 L5,1.5 L17,-20" fill="none" stroke="#7b7bf2" stroke-width="8.7" stroke-linecap="round" stroke-linejoin="round"/>
</g>
<line x1="765" y1="543.5" x2="816.3" y2="594.2" stroke="#ff0000" stroke-width="3.4"/>
<line x1="812.8" y1="543.5" x2="765" y2="593.5" stroke="#ff0000" stroke-width="3.4"/>
<clipPath id="vclip2"><circle cx="954.1" cy="513.1" r="24.4"/></clipPath>
<circle cx="954.1" cy="513.1" r="24.4" fill="#8e8a64"/>
<g clip-path="url(#vclip2)">
<ellipse cx="954.8" cy="520.9" rx="2.3" ry="1.2" transform="rotate(71 954.8 520.9)" fill="#8a6c98"/>
<ellipse cx="957.0" cy="514.9" rx="2.3" ry="1.2" transform="rotate(99 957.0 514.9)" fill="#a8a850"/>
<ellipse cx="960.8" cy="492.8" rx="2.3" ry="1.2" transform="rotate(40 960.8 492.8)" fill="#b4b45c"/>
<ellipse cx="940.3" cy="529.7" rx="2.3" ry="1.2" transform="rotate(149 940.3 529.7)" fill="#a8a850"/>
<ellipse cx="959.3" cy="536.0" rx="2.3" ry="1.2" transform="rotate(149 959.3 536.0)" fill="#a8a850"/>
<ellipse cx="957.4" cy="502.9" rx="2.3" ry="1.2" transform="rotate(56 957.4 502.9)" fill="#948a5a"/>
<ellipse cx="970.2" cy="495.4" rx="2.3" ry="1.2" transform="rotate(153 970.2 495.4)" fill="#a8a850"/>
<ellipse cx="970.3" cy="522.9" rx="2.3" ry="1.2" transform="rotate(121 970.3 522.9)" fill="#b4b45c"/>
<ellipse cx="954.2" cy="525.2" rx="2.3" ry="1.2" transform="rotate(50 954.2 525.2)" fill="#b4b45c"/>
<ellipse cx="955.2" cy="511.4" rx="2.3" ry="1.2" transform="rotate(53 955.2 511.4)" fill="#948a5a"/>
<ellipse cx="970.7" cy="498.0" rx="2.3" ry="1.2" transform="rotate(92 970.7 498.0)" fill="#6e5080"/>
<ellipse cx="942.5" cy="519.1" rx="2.3" ry="1.2" transform="rotate(81 942.5 519.1)" fill="#8a6c98"/>
<ellipse cx="946.6" cy="533.8" rx="2.3" ry="1.2" transform="rotate(8 946.6 533.8)" fill="#7a5c8c"/>
<ellipse cx="930.4" cy="518.8" rx="2.3" ry="1.2" transform="rotate(93 930.4 518.8)" fill="#948a5a"/>
<ellipse cx="940.0" cy="515.7" rx="2.3" ry="1.2" transform="rotate(180 940.0 515.7)" fill="#8a6c98"/>
<ellipse cx="975.4" cy="522.6" rx="2.3" ry="1.2" transform="rotate(114 975.4 522.6)" fill="#6e5080"/>
<ellipse cx="951.7" cy="527.5" rx="2.3" ry="1.2" transform="rotate(134 951.7 527.5)" fill="#a8a850"/>
<ellipse cx="946.9" cy="505.0" rx="2.3" ry="1.2" transform="rotate(58 946.9 505.0)" fill="#7a5c8c"/>
<ellipse cx="950.8" cy="500.7" rx="2.3" ry="1.2" transform="rotate(105 950.8 500.7)" fill="#8a6c98"/>
<ellipse cx="971.1" cy="529.5" rx="2.3" ry="1.2" transform="rotate(52 971.1 529.5)" fill="#7a5c8c"/>
<ellipse cx="973.7" cy="518.5" rx="2.3" ry="1.2" transform="rotate(161 973.7 518.5)" fill="#a8a850"/>
<ellipse cx="951.8" cy="489.3" rx="2.3" ry="1.2" transform="rotate(3 951.8 489.3)" fill="#a8a850"/>
<ellipse cx="949.9" cy="521.7" rx="2.3" ry="1.2" transform="rotate(117 949.9 521.7)" fill="#b4b45c"/>
<ellipse cx="951.2" cy="506.9" rx="2.3" ry="1.2" transform="rotate(111 951.2 506.9)" fill="#6e5080"/>
<ellipse cx="950.9" cy="524.9" rx="2.3" ry="1.2" transform="rotate(108 950.9 524.9)" fill="#8a6c98"/>
<ellipse cx="952.9" cy="515.2" rx="2.3" ry="1.2" transform="rotate(8 952.9 515.2)" fill="#8a6c98"/>
<ellipse cx="939.6" cy="529.5" rx="2.3" ry="1.2" transform="rotate(179 939.6 529.5)" fill="#b4b45c"/>
<ellipse cx="973.9" cy="527.0" rx="2.3" ry="1.2" transform="rotate(76 973.9 527.0)" fill="#8a6c98"/>
<ellipse cx="958.7" cy="517.1" rx="2.3" ry="1.2" transform="rotate(133 958.7 517.1)" fill="#b4b45c"/>
<ellipse cx="949.9" cy="504.6" rx="2.3" ry="1.2" transform="rotate(7 949.9 504.6)" fill="#6e5080"/>
<ellipse cx="942.1" cy="506.2" rx="2.3" ry="1.2" transform="rotate(6 942.1 506.2)" fill="#b4b45c"/>
<ellipse cx="947.6" cy="536.6" rx="2.3" ry="1.2" transform="rotate(117 947.6 536.6)" fill="#8a6c98"/>
<ellipse cx="942.2" cy="514.8" rx="2.3" ry="1.2" transform="rotate(74 942.2 514.8)" fill="#7a5c8c"/>
<ellipse cx="957.2" cy="529.0" rx="2.3" ry="1.2" transform="rotate(117 957.2 529.0)" fill="#6e5080"/>
<ellipse cx="962.5" cy="498.1" rx="2.3" ry="1.2" transform="rotate(6 962.5 498.1)" fill="#a8a850"/>
<ellipse cx="953.7" cy="530.8" rx="2.3" ry="1.2" transform="rotate(139 953.7 530.8)" fill="#6e5080"/>
<ellipse cx="960.4" cy="506.4" rx="2.3" ry="1.2" transform="rotate(9 960.4 506.4)" fill="#a8a850"/>
<ellipse cx="931.8" cy="503.4" rx="2.3" ry="1.2" transform="rotate(73 931.8 503.4)" fill="#948a5a"/>
<ellipse cx="941.8" cy="495.2" rx="2.3" ry="1.2" transform="rotate(134 941.8 495.2)" fill="#6e5080"/>
<ellipse cx="941.9" cy="523.5" rx="2.3" ry="1.2" transform="rotate(167 941.9 523.5)" fill="#b4b45c"/>
<ellipse cx="973.1" cy="499.3" rx="2.3" ry="1.2" transform="rotate(61 973.1 499.3)" fill="#948a5a"/>
<ellipse cx="931.3" cy="517.3" rx="2.3" ry="1.2" transform="rotate(57 931.3 517.3)" fill="#6e5080"/>
<ellipse cx="934.7" cy="509.6" rx="2.3" ry="1.2" transform="rotate(123 934.7 509.6)" fill="#a8a850"/>
<ellipse cx="946.0" cy="526.1" rx="2.3" ry="1.2" transform="rotate(89 946.0 526.1)" fill="#a8a850"/>
<ellipse cx="973.5" cy="508.4" rx="2.3" ry="1.2" transform="rotate(8 973.5 508.4)" fill="#b4b45c"/>
<ellipse cx="970.8" cy="530.4" rx="2.3" ry="1.2" transform="rotate(120 970.8 530.4)" fill="#7a5c8c"/>
<ellipse cx="968.0" cy="498.4" rx="2.3" ry="1.2" transform="rotate(84 968.0 498.4)" fill="#6e5080"/>
<ellipse cx="953.6" cy="489.6" rx="2.3" ry="1.2" transform="rotate(39 953.6 489.6)" fill="#7a5c8c"/>
<ellipse cx="956.4" cy="522.5" rx="2.3" ry="1.2" transform="rotate(110 956.4 522.5)" fill="#a8a850"/>
<ellipse cx="970.5" cy="527.7" rx="2.3" ry="1.2" transform="rotate(141 970.5 527.7)" fill="#8a6c98"/>
<ellipse cx="932.4" cy="505.9" rx="2.3" ry="1.2" transform="rotate(36 932.4 505.9)" fill="#948a5a"/>
<ellipse cx="936.9" cy="499.2" rx="2.3" ry="1.2" transform="rotate(101 936.9 499.2)" fill="#6e5080"/>
<ellipse cx="968.0" cy="504.9" rx="2.3" ry="1.2" transform="rotate(14 968.0 504.9)" fill="#948a5a"/>
<ellipse cx="940.0" cy="503.6" rx="2.3" ry="1.2" transform="rotate(156 940.0 503.6)" fill="#b4b45c"/>
<ellipse cx="954.8" cy="508.2" rx="2.3" ry="1.2" transform="rotate(14 954.8 508.2)" fill="#b4b45c"/>
<ellipse cx="965.1" cy="505.6" rx="2.3" ry="1.2" transform="rotate(62 965.1 505.6)" fill="#7a5c8c"/>
<ellipse cx="969.6" cy="522.3" rx="2.3" ry="1.2" transform="rotate(69 969.6 522.3)" fill="#a8a850"/>
<ellipse cx="937.8" cy="526.8" rx="2.3" ry="1.2" transform="rotate(154 937.8 526.8)" fill="#6e5080"/>
<ellipse cx="960.9" cy="517.7" rx="2.3" ry="1.2" transform="rotate(112 960.9 517.7)" fill="#a8a850"/>
<ellipse cx="938.1" cy="511.8" rx="2.3" ry="1.2" transform="rotate(154 938.1 511.8)" fill="#6e5080"/>
<ellipse cx="975.0" cy="522.4" rx="2.3" ry="1.2" transform="rotate(35 975.0 522.4)" fill="#a8a850"/>
<ellipse cx="969.4" cy="505.9" rx="2.3" ry="1.2" transform="rotate(21 969.4 505.9)" fill="#b4b45c"/>
<ellipse cx="965.4" cy="532.9" rx="2.3" ry="1.2" transform="rotate(32 965.4 532.9)" fill="#8a6c98"/>
<ellipse cx="943.6" cy="533.2" rx="2.3" ry="1.2" transform="rotate(47 943.6 533.2)" fill="#7a5c8c"/>
<ellipse cx="953.7" cy="511.3" rx="2.3" ry="1.2" transform="rotate(56 953.7 511.3)" fill="#b4b45c"/>
<ellipse cx="970.7" cy="527.0" rx="2.3" ry="1.2" transform="rotate(108 970.7 527.0)" fill="#b4b45c"/>
<ellipse cx="964.8" cy="518.6" rx="2.3" ry="1.2" transform="rotate(153 964.8 518.6)" fill="#a8a850"/>
<ellipse cx="955.5" cy="523.4" rx="2.3" ry="1.2" transform="rotate(156 955.5 523.4)" fill="#7a5c8c"/>
<ellipse cx="945.6" cy="496.0" rx="2.3" ry="1.2" transform="rotate(56 945.6 496.0)" fill="#6e5080"/>
<ellipse cx="957.8" cy="495.1" rx="2.3" ry="1.2" transform="rotate(169 957.8 495.1)" fill="#b4b45c"/>
<ellipse cx="958.5" cy="494.5" rx="2.3" ry="1.2" transform="rotate(80 958.5 494.5)" fill="#8a6c98"/>
<ellipse cx="953.9" cy="532.0" rx="2.3" ry="1.2" transform="rotate(177 953.9 532.0)" fill="#a8a850"/>
<ellipse cx="958.8" cy="518.3" rx="2.3" ry="1.2" transform="rotate(26 958.8 518.3)" fill="#b4b45c"/>
<ellipse cx="964.3" cy="533.9" rx="2.3" ry="1.2" transform="rotate(67 964.3 533.9)" fill="#b4b45c"/>
<ellipse cx="959.6" cy="493.8" rx="2.3" ry="1.2" transform="rotate(159 959.6 493.8)" fill="#7a5c8c"/>
<ellipse cx="934.8" cy="526.7" rx="2.3" ry="1.2" transform="rotate(32 934.8 526.7)" fill="#948a5a"/>
<ellipse cx="947.0" cy="520.4" rx="2.3" ry="1.2" transform="rotate(159 947.0 520.4)" fill="#b4b45c"/>
<ellipse cx="977.7" cy="516.1" rx="2.3" ry="1.2" transform="rotate(149 977.7 516.1)" fill="#a8a850"/>
<ellipse cx="962.5" cy="490.8" rx="2.3" ry="1.2" transform="rotate(29 962.5 490.8)" fill="#b4b45c"/>
<ellipse cx="973.9" cy="511.5" rx="2.3" ry="1.2" transform="rotate(179 973.9 511.5)" fill="#7a5c8c"/>
<ellipse cx="955.6" cy="489.1" rx="2.3" ry="1.2" transform="rotate(21 955.6 489.1)" fill="#948a5a"/>
<ellipse cx="931.3" cy="516.1" rx="2.3" ry="1.2" transform="rotate(40 931.3 516.1)" fill="#948a5a"/>
<ellipse cx="946.4" cy="535.3" rx="2.3" ry="1.2" transform="rotate(73 946.4 535.3)" fill="#b4b45c"/>
<ellipse cx="955.4" cy="530.1" rx="2.3" ry="1.2" transform="rotate(40 955.4 530.1)" fill="#a8a850"/>
<ellipse cx="955.8" cy="526.9" rx="2.3" ry="1.2" transform="rotate(113 955.8 526.9)" fill="#6e5080"/>
<ellipse cx="966.5" cy="503.9" rx="2.3" ry="1.2" transform="rotate(72 966.5 503.9)" fill="#a8a850"/>
<ellipse cx="950.8" cy="528.4" rx="2.3" ry="1.2" transform="rotate(2 950.8 528.4)" fill="#8a6c98"/>
<ellipse cx="967.3" cy="503.2" rx="2.3" ry="1.2" transform="rotate(101 967.3 503.2)" fill="#a8a850"/>
<ellipse cx="941.6" cy="521.7" rx="2.3" ry="1.2" transform="rotate(5 941.6 521.7)" fill="#b4b45c"/>
<ellipse cx="976.0" cy="523.0" rx="2.3" ry="1.2" transform="rotate(178 976.0 523.0)" fill="#a8a850"/>
<ellipse cx="943.3" cy="504.8" rx="2.3" ry="1.2" transform="rotate(16 943.3 504.8)" fill="#a8a850"/>
<ellipse cx="934.7" cy="515.1" rx="2.3" ry="1.2" transform="rotate(86 934.7 515.1)" fill="#b4b45c"/>
<ellipse cx="955.7" cy="503.8" rx="2.3" ry="1.2" transform="rotate(43 955.7 503.8)" fill="#a8a850"/>
<ellipse cx="957.7" cy="517.0" rx="2.3" ry="1.2" transform="rotate(72 957.7 517.0)" fill="#b4b45c"/>
<ellipse cx="946.5" cy="496.7" rx="2.3" ry="1.2" transform="rotate(173 946.5 496.7)" fill="#a8a850"/>
<ellipse cx="966.1" cy="514.5" rx="2.3" ry="1.2" transform="rotate(135 966.1 514.5)" fill="#8a6c98"/>
<ellipse cx="967.6" cy="515.8" rx="2.3" ry="1.2" transform="rotate(22 967.6 515.8)" fill="#7a5c8c"/>
<ellipse cx="968.3" cy="499.6" rx="2.3" ry="1.2" transform="rotate(110 968.3 499.6)" fill="#948a5a"/>
<ellipse cx="947.9" cy="493.2" rx="2.3" ry="1.2" transform="rotate(118 947.9 493.2)" fill="#8a6c98"/>
<ellipse cx="969.1" cy="498.8" rx="2.3" ry="1.2" transform="rotate(101 969.1 498.8)" fill="#948a5a"/>
<ellipse cx="977.0" cy="513.5" rx="2.3" ry="1.2" transform="rotate(28 977.0 513.5)" fill="#6e5080"/>
<ellipse cx="966.8" cy="531.6" rx="2.3" ry="1.2" transform="rotate(87 966.8 531.6)" fill="#7a5c8c"/>
<ellipse cx="947.1" cy="520.0" rx="2.3" ry="1.2" transform="rotate(160 947.1 520.0)" fill="#b4b45c"/>
<ellipse cx="938.5" cy="525.8" rx="2.3" ry="1.2" transform="rotate(155 938.5 525.8)" fill="#a8a850"/>
<ellipse cx="957.0" cy="518.4" rx="2.3" ry="1.2" transform="rotate(176 957.0 518.4)" fill="#a8a850"/>
<ellipse cx="956.5" cy="510.7" rx="2.3" ry="1.2" transform="rotate(173 956.5 510.7)" fill="#8a6c98"/>
<ellipse cx="961.2" cy="517.4" rx="2.3" ry="1.2" transform="rotate(110 961.2 517.4)" fill="#7a5c8c"/>
<ellipse cx="956.1" cy="531.1" rx="2.3" ry="1.2" transform="rotate(86 956.1 531.1)" fill="#948a5a"/>
<ellipse cx="931.6" cy="508.5" rx="2.3" ry="1.2" transform="rotate(81 931.6 508.5)" fill="#948a5a"/>
<ellipse cx="947.8" cy="490.6" rx="2.3" ry="1.2" transform="rotate(169 947.8 490.6)" fill="#6e5080"/>
<ellipse cx="948.9" cy="521.8" rx="2.3" ry="1.2" transform="rotate(95 948.9 521.8)" fill="#8a6c98"/>
<ellipse cx="969.1" cy="525.1" rx="2.3" ry="1.2" transform="rotate(164 969.1 525.1)" fill="#a8a850"/>
<ellipse cx="974.3" cy="503.7" rx="2.3" ry="1.2" transform="rotate(74 974.3 503.7)" fill="#948a5a"/>
<ellipse cx="973.0" cy="517.6" rx="2.3" ry="1.2" transform="rotate(46 973.0 517.6)" fill="#948a5a"/>
<ellipse cx="935.9" cy="501.4" rx="2.3" ry="1.2" transform="rotate(86 935.9 501.4)" fill="#a8a850"/>
<ellipse cx="956.6" cy="506.5" rx="2.3" ry="1.2" transform="rotate(42 956.6 506.5)" fill="#a8a850"/>
<ellipse cx="968.8" cy="499.8" rx="2.3" ry="1.2" transform="rotate(126 968.8 499.8)" fill="#b4b45c"/>
<ellipse cx="946.7" cy="528.2" rx="2.3" ry="1.2" transform="rotate(172 946.7 528.2)" fill="#7a5c8c"/>
<ellipse cx="956.3" cy="517.6" rx="2.3" ry="1.2" transform="rotate(93 956.3 517.6)" fill="#b4b45c"/>
<ellipse cx="952.9" cy="508.4" rx="2.3" ry="1.2" transform="rotate(122 952.9 508.4)" fill="#a8a850"/>
<ellipse cx="958.7" cy="490.3" rx="2.3" ry="1.2" transform="rotate(125 958.7 490.3)" fill="#7a5c8c"/>
<ellipse cx="931.1" cy="512.0" rx="2.3" ry="1.2" transform="rotate(148 931.1 512.0)" fill="#7a5c8c"/>
<ellipse cx="964.6" cy="518.1" rx="2.3" ry="1.2" transform="rotate(49 964.6 518.1)" fill="#7a5c8c"/>
<ellipse cx="972.7" cy="497.8" rx="2.3" ry="1.2" transform="rotate(2 972.7 497.8)" fill="#948a5a"/>
<ellipse cx="963.1" cy="524.7" rx="2.3" ry="1.2" transform="rotate(160 963.1 524.7)" fill="#948a5a"/>
<ellipse cx="940.5" cy="533.1" rx="2.3" ry="1.2" transform="rotate(154 940.5 533.1)" fill="#948a5a"/>
<ellipse cx="950.5" cy="510.3" rx="2.3" ry="1.2" transform="rotate(74 950.5 510.3)" fill="#7a5c8c"/>
<ellipse cx="954.7" cy="490.4" rx="2.3" ry="1.2" transform="rotate(54 954.7 490.4)" fill="#948a5a"/>
<ellipse cx="951.8" cy="524.0" rx="2.3" ry="1.2" transform="rotate(127 951.8 524.0)" fill="#a8a850"/>
<ellipse cx="955.6" cy="516.0" rx="2.3" ry="1.2" transform="rotate(160 955.6 516.0)" fill="#a8a850"/>
<ellipse cx="942.7" cy="533.4" rx="2.3" ry="1.2" transform="rotate(171 942.7 533.4)" fill="#6e5080"/>
<ellipse cx="945.8" cy="530.4" rx="2.3" ry="1.2" transform="rotate(46 945.8 530.4)" fill="#b4b45c"/>
<ellipse cx="967.4" cy="521.1" rx="2.3" ry="1.2" transform="rotate(110 967.4 521.1)" fill="#948a5a"/>
<ellipse cx="961.7" cy="508.6" rx="2.3" ry="1.2" transform="rotate(136 961.7 508.6)" fill="#7a5c8c"/>
<ellipse cx="973.9" cy="504.6" rx="2.3" ry="1.2" transform="rotate(112 973.9 504.6)" fill="#948a5a"/>
<ellipse cx="959.7" cy="536.0" rx="2.3" ry="1.2" transform="rotate(120 959.7 536.0)" fill="#948a5a"/>
<ellipse cx="945.9" cy="513.1" rx="2.3" ry="1.2" transform="rotate(61 945.9 513.1)" fill="#6e5080"/>
<ellipse cx="944.1" cy="508.4" rx="2.3" ry="1.2" transform="rotate(17 944.1 508.4)" fill="#b4b45c"/>
<ellipse cx="958.7" cy="506.2" rx="2.3" ry="1.2" transform="rotate(175 958.7 506.2)" fill="#a8a850"/>
<ellipse cx="966.8" cy="499.5" rx="2.3" ry="1.2" transform="rotate(27 966.8 499.5)" fill="#948a5a"/>
<ellipse cx="974.1" cy="523.4" rx="2.3" ry="1.2" transform="rotate(32 974.1 523.4)" fill="#948a5a"/>
<ellipse cx="953.7" cy="491.9" rx="2.3" ry="1.2" transform="rotate(144 953.7 491.9)" fill="#948a5a"/>
<ellipse cx="955.3" cy="517.5" rx="2.3" ry="1.2" transform="rotate(58 955.3 517.5)" fill="#a8a850"/>
<ellipse cx="952.2" cy="491.8" rx="2.3" ry="1.2" transform="rotate(152 952.2 491.8)" fill="#8a6c98"/>
<ellipse cx="959.4" cy="523.1" rx="2.3" ry="1.2" transform="rotate(172 959.4 523.1)" fill="#8a6c98"/>
<ellipse cx="944.4" cy="491.0" rx="2.3" ry="1.2" transform="rotate(10 944.4 491.0)" fill="#a8a850"/>
<ellipse cx="948.5" cy="494.0" rx="2.3" ry="1.2" transform="rotate(152 948.5 494.0)" fill="#7a5c8c"/>
<ellipse cx="966.6" cy="495.2" rx="2.3" ry="1.2" transform="rotate(71 966.6 495.2)" fill="#b4b45c"/>
<ellipse cx="936.9" cy="508.0" rx="2.3" ry="1.2" transform="rotate(65 936.9 508.0)" fill="#948a5a"/>
<ellipse cx="950.2" cy="515.7" rx="2.3" ry="1.2" transform="rotate(165 950.2 515.7)" fill="#8a6c98"/>
<ellipse cx="960.6" cy="522.5" rx="2.3" ry="1.2" transform="rotate(43 960.6 522.5)" fill="#b4b45c"/>
<ellipse cx="969.8" cy="495.4" rx="2.3" ry="1.2" transform="rotate(122 969.8 495.4)" fill="#6e5080"/>
<ellipse cx="940.7" cy="528.6" rx="2.3" ry="1.2" transform="rotate(170 940.7 528.6)" fill="#8a6c98"/>
<ellipse cx="964.6" cy="512.8" rx="2.3" ry="1.2" transform="rotate(96 964.6 512.8)" fill="#7a5c8c"/>
<ellipse cx="964.6" cy="514.9" rx="2.3" ry="1.2" transform="rotate(149 964.6 514.9)" fill="#948a5a"/>
<ellipse cx="946.3" cy="529.3" rx="2.3" ry="1.2" transform="rotate(169 946.3 529.3)" fill="#a8a850"/>
<ellipse cx="960.9" cy="492.3" rx="2.3" ry="1.2" transform="rotate(29 960.9 492.3)" fill="#6e5080"/>
<ellipse cx="943.4" cy="503.4" rx="2.3" ry="1.2" transform="rotate(1 943.4 503.4)" fill="#948a5a"/>
<ellipse cx="956.9" cy="516.3" rx="2.3" ry="1.2" transform="rotate(141 956.9 516.3)" fill="#948a5a"/>
<ellipse cx="951.7" cy="502.1" rx="2.3" ry="1.2" transform="rotate(59 951.7 502.1)" fill="#b4b45c"/>
<ellipse cx="932.6" cy="504.8" rx="2.3" ry="1.2" transform="rotate(87 932.6 504.8)" fill="#948a5a"/>
<ellipse cx="943.9" cy="511.3" rx="2.3" ry="1.2" transform="rotate(111 943.9 511.3)" fill="#b4b45c"/>
<ellipse cx="952.4" cy="516.1" rx="2.3" ry="1.2" transform="rotate(119 952.4 516.1)" fill="#6e5080"/>
<ellipse cx="934.0" cy="521.5" rx="2.3" ry="1.2" transform="rotate(25 934.0 521.5)" fill="#7a5c8c"/>
<ellipse cx="966.7" cy="527.3" rx="2.3" ry="1.2" transform="rotate(42 966.7 527.3)" fill="#948a5a"/>
<ellipse cx="946.5" cy="531.0" rx="2.3" ry="1.2" transform="rotate(31 946.5 531.0)" fill="#a8a850"/>
<ellipse cx="974.2" cy="503.4" rx="2.3" ry="1.2" transform="rotate(119 974.2 503.4)" fill="#b4b45c"/>
<ellipse cx="965.5" cy="508.3" rx="2.3" ry="1.2" transform="rotate(60 965.5 508.3)" fill="#b4b45c"/>
<ellipse cx="963.4" cy="515.0" rx="2.3" ry="1.2" transform="rotate(103 963.4 515.0)" fill="#8a6c98"/>
<ellipse cx="931.9" cy="513.9" rx="2.3" ry="1.2" transform="rotate(13 931.9 513.9)" fill="#948a5a"/>
<ellipse cx="934.1" cy="499.4" rx="2.3" ry="1.2" transform="rotate(26 934.1 499.4)" fill="#948a5a"/>
<ellipse cx="968.4" cy="530.3" rx="2.3" ry="1.2" transform="rotate(97 968.4 530.3)" fill="#a8a850"/>
<ellipse cx="959.0" cy="508.2" rx="2.3" ry="1.2" transform="rotate(170 959.0 508.2)" fill="#b4b45c"/>
<ellipse cx="960.2" cy="521.4" rx="2.3" ry="1.2" transform="rotate(112 960.2 521.4)" fill="#a8a850"/>
<ellipse cx="931.7" cy="516.6" rx="2.3" ry="1.2" transform="rotate(38 931.7 516.6)" fill="#6e5080"/>
<ellipse cx="955.2" cy="495.4" rx="2.3" ry="1.2" transform="rotate(136 955.2 495.4)" fill="#7a5c8c"/>
<ellipse cx="964.1" cy="504.6" rx="2.3" ry="1.2" transform="rotate(75 964.1 504.6)" fill="#7a5c8c"/>
<ellipse cx="943.3" cy="528.7" rx="2.3" ry="1.2" transform="rotate(165 943.3 528.7)" fill="#a8a850"/>
<ellipse cx="968.5" cy="520.1" rx="2.3" ry="1.2" transform="rotate(14 968.5 520.1)" fill="#6e5080"/>
<ellipse cx="955.2" cy="508.8" rx="2.3" ry="1.2" transform="rotate(36 955.2 508.8)" fill="#948a5a"/>
<ellipse cx="975.3" cy="507.0" rx="2.3" ry="1.2" transform="rotate(36 975.3 507.0)" fill="#948a5a"/>
<ellipse cx="975.7" cy="501.7" rx="2.3" ry="1.2" transform="rotate(2 975.7 501.7)" fill="#7a5c8c"/>
<ellipse cx="971.0" cy="508.3" rx="2.3" ry="1.2" transform="rotate(95 971.0 508.3)" fill="#7a5c8c"/>
<ellipse cx="970.4" cy="523.8" rx="2.3" ry="1.2" transform="rotate(120 970.4 523.8)" fill="#948a5a"/>
<ellipse cx="960.4" cy="532.4" rx="2.3" ry="1.2" transform="rotate(11 960.4 532.4)" fill="#7a5c8c"/>
<ellipse cx="968.9" cy="519.4" rx="2.3" ry="1.2" transform="rotate(24 968.9 519.4)" fill="#7a5c8c"/>
<ellipse cx="971.2" cy="509.3" rx="2.3" ry="1.2" transform="rotate(92 971.2 509.3)" fill="#948a5a"/>
<ellipse cx="950.9" cy="531.5" rx="2.3" ry="1.2" transform="rotate(21 950.9 531.5)" fill="#948a5a"/>
<ellipse cx="940.6" cy="499.9" rx="2.3" ry="1.2" transform="rotate(1 940.6 499.9)" fill="#7a5c8c"/>
<ellipse cx="956.1" cy="495.2" rx="2.3" ry="1.2" transform="rotate(76 956.1 495.2)" fill="#a8a850"/>
<ellipse cx="934.1" cy="499.9" rx="2.3" ry="1.2" transform="rotate(27 934.1 499.9)" fill="#a8a850"/>
<ellipse cx="942.3" cy="510.3" rx="2.3" ry="1.2" transform="rotate(112 942.3 510.3)" fill="#8a6c98"/>
<ellipse cx="978.3" cy="510.1" rx="2.3" ry="1.2" transform="rotate(104 978.3 510.1)" fill="#7a5c8c"/>
<ellipse cx="938.0" cy="504.2" rx="2.3" ry="1.2" transform="rotate(35 938.0 504.2)" fill="#b4b45c"/>
<ellipse cx="945.7" cy="494.1" rx="2.3" ry="1.2" transform="rotate(172 945.7 494.1)" fill="#6e5080"/>
<ellipse cx="963.3" cy="509.7" rx="2.3" ry="1.2" transform="rotate(29 963.3 509.7)" fill="#a8a850"/>
<ellipse cx="966.2" cy="496.5" rx="2.3" ry="1.2" transform="rotate(96 966.2 496.5)" fill="#b4b45c"/>
<ellipse cx="950.2" cy="527.4" rx="2.3" ry="1.2" transform="rotate(119 950.2 527.4)" fill="#a8a850"/>
<ellipse cx="963.7" cy="519.9" rx="2.3" ry="1.2" transform="rotate(162 963.7 519.9)" fill="#948a5a"/>
<ellipse cx="959.3" cy="504.3" rx="2.3" ry="1.2" transform="rotate(17 959.3 504.3)" fill="#a8a850"/>
<ellipse cx="955.9" cy="513.5" rx="2.3" ry="1.2" transform="rotate(156 955.9 513.5)" fill="#7a5c8c"/>
<ellipse cx="968.5" cy="498.9" rx="2.3" ry="1.2" transform="rotate(32 968.5 498.9)" fill="#8a6c98"/>
<ellipse cx="940.4" cy="527.1" rx="2.3" ry="1.2" transform="rotate(70 940.4 527.1)" fill="#948a5a"/>
<ellipse cx="934.6" cy="520.6" rx="2.3" ry="1.2" transform="rotate(52 934.6 520.6)" fill="#7a5c8c"/>
<ellipse cx="951.3" cy="517.3" rx="2.3" ry="1.2" transform="rotate(33 951.3 517.3)" fill="#6e5080"/>
<ellipse cx="978.4" cy="513.8" rx="2.3" ry="1.2" transform="rotate(78 978.4 513.8)" fill="#948a5a"/>
<ellipse cx="965.2" cy="516.3" rx="2.3" ry="1.2" transform="rotate(67 965.2 516.3)" fill="#b4b45c"/>
<ellipse cx="942.3" cy="529.4" rx="2.3" ry="1.2" transform="rotate(0 942.3 529.4)" fill="#a8a850"/>
<ellipse cx="966.4" cy="521.7" rx="2.3" ry="1.2" transform="rotate(39 966.4 521.7)" fill="#a8a850"/>
<ellipse cx="968.9" cy="506.9" rx="2.3" ry="1.2" transform="rotate(132 968.9 506.9)" fill="#6e5080"/>
<ellipse cx="963.1" cy="526.8" rx="2.3" ry="1.2" transform="rotate(94 963.1 526.8)" fill="#7a5c8c"/>
<ellipse cx="960.6" cy="517.3" rx="2.3" ry="1.2" transform="rotate(23 960.6 517.3)" fill="#6e5080"/>
<ellipse cx="952.5" cy="491.9" rx="2.3" ry="1.2" transform="rotate(159 952.5 491.9)" fill="#a8a850"/>
<ellipse cx="943.1" cy="521.0" rx="2.3" ry="1.2" transform="rotate(141 943.1 521.0)" fill="#948a5a"/>
<ellipse cx="972.8" cy="527.2" rx="2.3" ry="1.2" transform="rotate(159 972.8 527.2)" fill="#b4b45c"/>
<ellipse cx="964.1" cy="495.1" rx="2.3" ry="1.2" transform="rotate(78 964.1 495.1)" fill="#948a5a"/>
<ellipse cx="946.2" cy="521.7" rx="2.3" ry="1.2" transform="rotate(154 946.2 521.7)" fill="#8a6c98"/>
<ellipse cx="965.7" cy="507.1" rx="2.3" ry="1.2" transform="rotate(60 965.7 507.1)" fill="#7a5c8c"/>
<ellipse cx="932.8" cy="510.4" rx="2.3" ry="1.2" transform="rotate(146 932.8 510.4)" fill="#948a5a"/>
<ellipse cx="954.9" cy="523.6" rx="2.3" ry="1.2" transform="rotate(86 954.9 523.6)" fill="#b4b45c"/>
<ellipse cx="944.4" cy="525.6" rx="2.3" ry="1.2" transform="rotate(75 944.4 525.6)" fill="#948a5a"/>
<ellipse cx="970.3" cy="529.0" rx="2.3" ry="1.2" transform="rotate(2 970.3 529.0)" fill="#948a5a"/>
<ellipse cx="940.9" cy="519.2" rx="2.3" ry="1.2" transform="rotate(159 940.9 519.2)" fill="#948a5a"/>
<ellipse cx="952.4" cy="522.1" rx="2.3" ry="1.2" transform="rotate(65 952.4 522.1)" fill="#a8a850"/>
<ellipse cx="931.1" cy="507.0" rx="2.3" ry="1.2" transform="rotate(165 931.1 507.0)" fill="#6e5080"/>
<ellipse cx="957.3" cy="491.6" rx="2.3" ry="1.2" transform="rotate(175 957.3 491.6)" fill="#6e5080"/>
<ellipse cx="953.3" cy="498.7" rx="2.3" ry="1.2" transform="rotate(91 953.3 498.7)" fill="#7a5c8c"/>
<ellipse cx="953.1" cy="493.2" rx="2.3" ry="1.2" transform="rotate(46 953.1 493.2)" fill="#b4b45c"/>
<ellipse cx="946.2" cy="491.6" rx="2.3" ry="1.2" transform="rotate(96 946.2 491.6)" fill="#7a5c8c"/>
<ellipse cx="934.5" cy="518.2" rx="2.3" ry="1.2" transform="rotate(103 934.5 518.2)" fill="#8a6c98"/>
</g>
<path d="M947.1,509.1 L961.1,505.1 L963.1,517.1 Z" fill="none" stroke="#f0e8f8" stroke-width="0.8"/>
<circle cx="954.1" cy="513.1" r="24.099999999999998" fill="none" stroke="#7a7468" stroke-width="0.8"/>
<g transform="translate(951,545) rotate(0) scale(0.6)">
<path d="M-10.73,1.70 L-25.49,-11.11 A6.2,6.2 0 0 0 -32.51,-0.89 L-15.27,8.30 Z" fill="#3b3bea"/>
<path d="M15.27,8.30 L32.51,-0.89 A6.2,6.2 0 0 0 25.49,-11.11 L10.73,1.70 Z" fill="#3b3bea"/>
<path d="M-5,39 L-5,1.5 L-20.5,-16.5" fill="none" stroke="#fff" stroke-width="10.1" stroke-linecap="round" stroke-linejoin="round"/>
<path d="M5,39 L5,1.5 L20.5,-16.5" fill="none" stroke="#fff" stroke-width="10.1" stroke-linecap="round" stroke-linejoin="round"/>
<path d="M-5,39 L-5,1.5 L-20.5,-16.5" fill="none" stroke="#7b7bf2" stroke-width="8.7" stroke-linecap="round" stroke-linejoin="round"/>
<path d="M5,39 L5,1.5 L20.5,-16.5" fill="none" stroke="#7b7bf2" stroke-width="8.7" stroke-linecap="round" stroke-linejoin="round"/>
</g>
<ellipse cx="949.8" cy="576" rx="4" ry="4.5" fill="#4a6070"/>
<line x1="1068.5" y1="51" x2="1068.5" y2="220.8" stroke="#000" stroke-width="1.8"/>
<line x1="1068.5" y1="220.8" x2="1238.45" y2="220.8" stroke="#000" stroke-width="1.8"/>
<line x1="1068.5" y1="220.8" x2="1068.5" y2="227.3" stroke="#000" stroke-width="1.6"/>
<text x="1068.5" y="243.7" font-family="'Liberation Sans', sans-serif" font-size="18.2" fill="#000" font-weight="normal" text-anchor="middle" transform="translate(1068.50,0) scale(1.05,1) translate(-1068.50,0)">0</text>
<line x1="1102.31" y1="220.8" x2="1102.31" y2="227.3" stroke="#000" stroke-width="1.6"/>
<text x="1102.31" y="243.7" font-family="'Liberation Sans', sans-serif" font-size="18.2" fill="#000" font-weight="normal" text-anchor="middle" transform="translate(1102.31,0) scale(1.05,1) translate(-1102.31,0)">3</text>
<line x1="1136.12" y1="220.8" x2="1136.12" y2="227.3" stroke="#000" stroke-width="1.6"/>
<text x="1136.12" y="243.7" font-family="'Liberation Sans', sans-serif" font-size="18.2" fill="#000" font-weight="normal" text-anchor="middle" transform="translate(1136.12,0) scale(1.05,1) translate(-1136.12,0)">6</text>
<line x1="1169.93" y1="220.8" x2="1169.93" y2="227.3" stroke="#000" stroke-width="1.6"/>
<text x="1169.93" y="243.7" font-family="'Liberation Sans', sans-serif" font-size="18.2" fill="#000" font-weight="normal" text-anchor="middle" transform="translate(1169.93,0) scale(1.05,1) translate(-1169.93,0)">9</text>
<line x1="1203.74" y1="220.8" x2="1203.74" y2="227.3" stroke="#000" stroke-width="1.6"/>
<text x="1203.74" y="243.7" font-family="'Liberation Sans', sans-serif" font-size="18.2" fill="#000" font-weight="normal" text-anchor="middle" transform="translate(1203.74,0) scale(1.05,1) translate(-1203.74,0)">12</text>
<line x1="1237.55" y1="220.8" x2="1237.55" y2="227.3" stroke="#000" stroke-width="1.6"/>
<text x="1237.55" y="243.7" font-family="'Liberation Sans', sans-serif" font-size="18.2" fill="#000" font-weight="normal" text-anchor="middle" transform="translate(1237.55,0) scale(1.05,1) translate(-1237.55,0)">15</text>
<line x1="1061.5" y1="220.8" x2="1068.5" y2="220.8" stroke="#000" stroke-width="1.6"/>
<text x="1059.2" y="226.70000000000002" font-family="'Liberation Sans', sans-serif" font-size="18.6" fill="#000" font-weight="normal" text-anchor="end" >0</text>
<line x1="1061.5" y1="184.25" x2="1068.5" y2="184.25" stroke="#000" stroke-width="1.6"/>
<text x="1059.2" y="190.15" font-family="'Liberation Sans', sans-serif" font-size="18.6" fill="#000" font-weight="normal" text-anchor="end" >25</text>
<line x1="1061.5" y1="147.70000000000002" x2="1068.5" y2="147.70000000000002" stroke="#000" stroke-width="1.6"/>
<text x="1059.2" y="153.60000000000002" font-family="'Liberation Sans', sans-serif" font-size="18.6" fill="#000" font-weight="normal" text-anchor="end" >50</text>
<line x1="1061.5" y1="111.15000000000002" x2="1068.5" y2="111.15000000000002" stroke="#000" stroke-width="1.6"/>
<text x="1059.2" y="117.05000000000003" font-family="'Liberation Sans', sans-serif" font-size="18.6" fill="#000" font-weight="normal" text-anchor="end" >75</text>
<line x1="1061.5" y1="74.60000000000002" x2="1068.5" y2="74.60000000000002" stroke="#000" stroke-width="1.6"/>
<text x="1059.2" y="80.50000000000003" font-family="'Liberation Sans', sans-serif" font-size="18.6" fill="#000" font-weight="normal" text-anchor="end" >100</text>
<text transform="translate(1111.36,264.73) scale(1.1063,1)" font-family="'Liberation Sans', sans-serif" font-size="18.87" font-weight="normal" fill="#1a1a1a" >Days p.i.</text>
<text transform="translate(1026.10,206.64) rotate(-90) scale(1.0124,1)" font-family="'Liberation Sans', sans-serif" font-size="20.60" font-weight="normal" fill="#000" >Percent survival</text>
<line x1="1068.5" y1="57.1" x2="1237.6" y2="57.1" stroke="#7c847c" stroke-width="1.6"/>
<line x1="1068.5" y1="61.6" x2="1237.6" y2="61.6" stroke="#0808c4" stroke-width="1.7"/>
<line x1="1068.5" y1="66" x2="1237.6" y2="66" stroke="#d8722e" stroke-width="1.7"/>
<line x1="1068.5" y1="70.2" x2="1237.6" y2="70.2" stroke="#b8b8e6" stroke-width="1.6"/>
<polyline points="1068.5,74.8 1203.5,74.8 1203.5,84 1215.3,84 1215.3,93.3 1227,93.3 1227,104 1237.6,104" fill="none" stroke="#f4bc8c" stroke-width="1.5"/>
<polyline points="1068.5,79 1181,79 1181,110 1192,110 1192,193.5 1203.5,193.5 1203.5,215.5 1215,215.5 1215,220.8" fill="none" stroke="#000" stroke-width="1.8"/>
<text transform="translate(1107.17,97.38) scale(1.0462,1)" font-family="'Liberation Sans', sans-serif" font-size="15.60" font-weight="normal" fill="#1a1a1a" ><tspan font-style="italic">p</tspan>&lt;0.0001</text>
<text transform="translate(1197.26,122.38) scale(1.0077,1)" font-family="'Liberation Sans', sans-serif" font-size="15.60" font-weight="normal" fill="#f4b183" ><tspan font-style="italic">p</tspan>=0.1427</text>
<line x1="1075" y1="129.7" x2="1092.5" y2="129.7" stroke="#7c847c" stroke-width="1.8"/>
<text x="1101.4" y="133.89999999999998" font-family="'Liberation Sans', sans-serif" font-size="14.2" fill="#333" font-weight="normal" text-anchor="start" >HC</text>
<line x1="1075" y1="145.76" x2="1092.5" y2="145.76" stroke="#f4bc8c" stroke-width="1.8"/>
<text x="1101.4" y="149.95999999999998" font-family="'Liberation Sans', sans-serif" font-size="14.2" fill="#333" font-weight="normal" text-anchor="start" >P-5</text>
<line x1="1075" y1="161.82" x2="1092.5" y2="161.82" stroke="#b8b8e6" stroke-width="1.8"/>
<text x="1101.4" y="166.01999999999998" font-family="'Liberation Sans', sans-serif" font-size="14.2" fill="#333" font-weight="normal" text-anchor="start" >Opt-5</text>
<line x1="1075" y1="177.88" x2="1092.5" y2="177.88" stroke="#d8722e" stroke-width="1.8"/>
<text x="1101.4" y="182.07999999999998" font-family="'Liberation Sans', sans-serif" font-size="14.2" fill="#333" font-weight="normal" text-anchor="start" >P-20</text>
<line x1="1075" y1="193.94" x2="1092.5" y2="193.94" stroke="#0808c4" stroke-width="1.8"/>
<text x="1101.4" y="198.14" font-family="'Liberation Sans', sans-serif" font-size="14.2" fill="#333" font-weight="normal" text-anchor="start" >Opt-20</text>
<line x1="1075" y1="210.0" x2="1092.5" y2="210.0" stroke="#000" stroke-width="1.8"/>
<text x="1101.4" y="214.2" font-family="'Liberation Sans', sans-serif" font-size="14.2" fill="#333" font-weight="normal" text-anchor="start" >PBS</text>
<line x1="1068.2" y1="390.5" x2="1068.2" y2="559" stroke="#000" stroke-width="1.8"/>
<line x1="1068.2" y1="559" x2="1238.3" y2="559" stroke="#000" stroke-width="1.8"/>
<line x1="1068.2" y1="559" x2="1068.2" y2="565.5" stroke="#000" stroke-width="1.6"/>
<text x="1068.2" y="583.7" font-family="'Liberation Sans', sans-serif" font-size="18.2" fill="#000" font-weight="normal" text-anchor="middle" transform="translate(1068.20,0) scale(1.05,1) translate(-1068.20,0)">0</text>
<line x1="1101.0800000000002" y1="559" x2="1101.0800000000002" y2="565.5" stroke="#000" stroke-width="1.6"/>
<text x="1101.0800000000002" y="583.7" font-family="'Liberation Sans', sans-serif" font-size="18.2" fill="#000" font-weight="normal" text-anchor="middle" transform="translate(1101.08,0) scale(1.05,1) translate(-1101.08,0)">3</text>
<line x1="1133.96" y1="559" x2="1133.96" y2="565.5" stroke="#000" stroke-width="1.6"/>
<text x="1133.96" y="583.7" font-family="'Liberation Sans', sans-serif" font-size="18.2" fill="#000" font-weight="normal" text-anchor="middle" transform="translate(1133.96,0) scale(1.05,1) translate(-1133.96,0)">6</text>
<line x1="1166.8400000000001" y1="559" x2="1166.8400000000001" y2="565.5" stroke="#000" stroke-width="1.6"/>
<text x="1166.8400000000001" y="583.7" font-family="'Liberation Sans', sans-serif" font-size="18.2" fill="#000" font-weight="normal" text-anchor="middle" transform="translate(1166.84,0) scale(1.05,1) translate(-1166.84,0)">9</text>
<line x1="1199.72" y1="559" x2="1199.72" y2="565.5" stroke="#000" stroke-width="1.6"/>
<text x="1199.72" y="583.7" font-family="'Liberation Sans', sans-serif" font-size="18.2" fill="#000" font-weight="normal" text-anchor="middle" transform="translate(1199.72,0) scale(1.05,1) translate(-1199.72,0)">12</text>
<line x1="1232.6000000000001" y1="559" x2="1232.6000000000001" y2="565.5" stroke="#000" stroke-width="1.6"/>
<text x="1232.6000000000001" y="583.7" font-family="'Liberation Sans', sans-serif" font-size="18.2" fill="#000" font-weight="normal" text-anchor="middle" transform="translate(1232.60,0) scale(1.05,1) translate(-1232.60,0)">15</text>
<line x1="1061.2" y1="559.0" x2="1068.2" y2="559.0" stroke="#000" stroke-width="1.6"/>
<text x="1059.2" y="564.9" font-family="'Liberation Sans', sans-serif" font-size="18.6" fill="#000" font-weight="normal" text-anchor="end" >0</text>
<line x1="1061.2" y1="523.875" x2="1068.2" y2="523.875" stroke="#000" stroke-width="1.6"/>
<text x="1059.2" y="529.775" font-family="'Liberation Sans', sans-serif" font-size="18.6" fill="#000" font-weight="normal" text-anchor="end" >25</text>
<line x1="1061.2" y1="488.75" x2="1068.2" y2="488.75" stroke="#000" stroke-width="1.6"/>
<text x="1059.2" y="494.65" font-family="'Liberation Sans', sans-serif" font-size="18.6" fill="#000" font-weight="normal" text-anchor="end" >50</text>
<line x1="1061.2" y1="453.625" x2="1068.2" y2="453.625" stroke="#000" stroke-width="1.6"/>
<text x="1059.2" y="459.525" font-family="'Liberation Sans', sans-serif" font-size="18.6" fill="#000" font-weight="normal" text-anchor="end" >75</text>
<line x1="1061.2" y1="418.5" x2="1068.2" y2="418.5" stroke="#000" stroke-width="1.6"/>
<text x="1059.2" y="424.4" font-family="'Liberation Sans', sans-serif" font-size="18.6" fill="#000" font-weight="normal" text-anchor="end" >100</text>
<text transform="translate(1111.34,603.12) scale(1.0877,1)" font-family="'Liberation Sans', sans-serif" font-size="19.42" font-weight="normal" fill="#1a1a1a" >Days p.i.</text>
<text transform="translate(1026.00,542.49) rotate(-90) scale(0.9846,1)" font-family="'Liberation Sans', sans-serif" font-size="20.60" font-weight="normal" fill="#000" >Percent survival</text>
<line x1="1068.2" y1="405.2" x2="1232.6" y2="405.2" stroke="#868686" stroke-width="1.6"/>
<polyline points="1068.2,409.6 1166.8,409.6 1166.8,456 1177.9,456 1177.9,503 1199.4,503 1199.4,526.6 1232.6,526.6" fill="none" stroke="#2020d0" stroke-width="1.8"/>
<polyline points="1068.2,414 1145,414 1145,437.7 1155.8,437.7 1155.8,460.6 1166.5,460.6 1166.5,483.5 1177.9,483.5 1177.9,507.6 1188.3,507.6 1188.3,531 1232.6,531" fill="none" stroke="#000" stroke-width="1.8"/>
<polyline points="1068.2,417.8 1112,417.8 1112,446.5 1122.9,446.5 1122.9,502.6 1133.6,502.6 1133.6,559" fill="none" stroke="#1a9a6a" stroke-width="1.8"/>
<text transform="translate(1095.42,354.00) scale(0.9879,1)" font-family="'Liberation Sans', sans-serif" font-size="14.30" font-weight="normal" fill="#a6a6a6" >HC</text>
<text transform="translate(1095.68,372.00) scale(0.9606,1)" font-family="'Liberation Sans', sans-serif" font-size="14.30" font-weight="normal" fill="#3a9a3a" >inactivated ZIKV</text>
<text transform="translate(1095.89,387.44) scale(0.9877,1)" font-family="'Liberation Sans', sans-serif" font-size="14.30" font-weight="normal" fill="#2626d0" >Opt-20</text>
<text transform="translate(1043.33,370.90) scale(0.9798,1)" font-family="'Liberation Sans', sans-serif" font-size="14.30" font-weight="normal" fill="#1a1a1a" >LNP vs</text>
<text transform="translate(1204.73,354.64) scale(0.9566,1)" font-family="'Liberation Sans', sans-serif" font-size="14.30" font-weight="normal" fill="#a6a6a6" ><tspan font-style="italic">p</tspan>=0.0043</text>
<text transform="translate(1204.73,372.14) scale(0.9556,1)" font-family="'Liberation Sans', sans-serif" font-size="14.30" font-weight="normal" fill="#3a9a3a" ><tspan font-style="italic">p</tspan>=0.0011</text>
<text transform="translate(1204.73,387.64) scale(0.9667,1)" font-family="'Liberation Sans', sans-serif" font-size="14.30" font-weight="normal" fill="#2626d0" ><tspan font-style="italic">p</tspan>=0.6093</text>
<g transform="translate(262,520.3) scale(1.0)">
<line x1="84.4" y1="-3.8" x2="56.3" y2="-3.9" stroke="#b8b8b8" stroke-width="0.9"/>
<line x1="84.5" y1="-0.9" x2="58.4" y2="0.8" stroke="#b8b8b8" stroke-width="0.9"/>
<line x1="84.4" y1="2.1" x2="59.0" y2="4.6" stroke="#b8b8b8" stroke-width="0.9"/>
<line x1="84.0" y1="8.7" x2="60.3" y2="6.3" stroke="#b8b8b8" stroke-width="0.9"/>
<line x1="83.7" y1="11.6" x2="58.7" y2="7.0" stroke="#b8b8b8" stroke-width="0.9"/>
<line x1="83.2" y1="14.6" x2="59.1" y2="13.8" stroke="#b8b8b8" stroke-width="0.9"/>
<line x1="82.2" y1="19.5" x2="59.7" y2="12.7" stroke="#b8b8b8" stroke-width="0.9"/>
<line x1="81.4" y1="22.4" x2="57.6" y2="14.7" stroke="#b8b8b8" stroke-width="0.9"/>
<line x1="80.6" y1="25.2" x2="57.0" y2="19.9" stroke="#b8b8b8" stroke-width="0.9"/>
<line x1="78.5" y1="31.2" x2="53.0" y2="17.8" stroke="#b8b8b8" stroke-width="0.9"/>
<line x1="77.3" y1="34.0" x2="54.7" y2="26.0" stroke="#b8b8b8" stroke-width="0.9"/>
<line x1="76.1" y1="36.7" x2="47.8" y2="25.8" stroke="#b8b8b8" stroke-width="0.9"/>
<line x1="73.4" y1="41.7" x2="50.8" y2="25.7" stroke="#b8b8b8" stroke-width="0.9"/>
<line x1="71.9" y1="44.2" x2="47.2" y2="30.1" stroke="#b8b8b8" stroke-width="0.9"/>
<line x1="70.4" y1="46.7" x2="50.6" y2="33.7" stroke="#b8b8b8" stroke-width="0.9"/>
<line x1="68.2" y1="49.8" x2="49.2" y2="31.9" stroke="#b8b8b8" stroke-width="0.9"/>
<line x1="66.4" y1="52.2" x2="47.2" y2="36.3" stroke="#b8b8b8" stroke-width="0.9"/>
<line x1="64.6" y1="54.4" x2="44.2" y2="41.8" stroke="#b8b8b8" stroke-width="0.9"/>
<line x1="60.9" y1="58.5" x2="41.6" y2="40.1" stroke="#b8b8b8" stroke-width="0.9"/>
<line x1="58.8" y1="60.6" x2="40.1" y2="39.2" stroke="#b8b8b8" stroke-width="0.9"/>
<line x1="56.7" y1="62.6" x2="39.3" y2="43.4" stroke="#b8b8b8" stroke-width="0.9"/>
<line x1="50.2" y1="67.9" x2="34.3" y2="43.3" stroke="#b8b8b8" stroke-width="0.9"/>
<line x1="47.8" y1="69.7" x2="34.1" y2="47.6" stroke="#b8b8b8" stroke-width="0.9"/>
<line x1="45.3" y1="71.3" x2="26.6" y2="46.9" stroke="#b8b8b8" stroke-width="0.9"/>
<line x1="42.2" y1="73.2" x2="28.1" y2="48.6" stroke="#b8b8b8" stroke-width="0.9"/>
<line x1="39.6" y1="74.6" x2="29.0" y2="53.6" stroke="#b8b8b8" stroke-width="0.9"/>
<line x1="36.9" y1="76.0" x2="23.6" y2="52.3" stroke="#b8b8b8" stroke-width="0.9"/>
<line x1="31.9" y1="78.2" x2="23.4" y2="54.0" stroke="#b8b8b8" stroke-width="0.9"/>
<line x1="29.1" y1="79.3" x2="19.7" y2="54.7" stroke="#b8b8b8" stroke-width="0.9"/>
<line x1="26.3" y1="80.2" x2="17.5" y2="58.8" stroke="#b8b8b8" stroke-width="0.9"/>
<line x1="18.4" y1="82.4" x2="13.3" y2="55.5" stroke="#b8b8b8" stroke-width="0.9"/>
<line x1="15.5" y1="83.0" x2="10.9" y2="54.4" stroke="#b8b8b8" stroke-width="0.9"/>
<line x1="12.6" y1="83.5" x2="7.4" y2="61.2" stroke="#b8b8b8" stroke-width="0.9"/>
<line x1="8.8" y1="84.0" x2="9.4" y2="57.3" stroke="#b8b8b8" stroke-width="0.9"/>
<line x1="5.9" y1="84.3" x2="3.7" y2="56.9" stroke="#b8b8b8" stroke-width="0.9"/>
<line x1="2.9" y1="84.4" x2="-0.0" y2="53.7" stroke="#b8b8b8" stroke-width="0.9"/>
<line x1="-3.9" y1="84.4" x2="0.4" y2="58.8" stroke="#b8b8b8" stroke-width="0.9"/>
<line x1="-6.9" y1="84.2" x2="-4.7" y2="58.5" stroke="#b8b8b8" stroke-width="0.9"/>
<line x1="-9.8" y1="83.9" x2="-8.0" y2="58.6" stroke="#b8b8b8" stroke-width="0.9"/>
<line x1="-14.2" y1="83.3" x2="-9.2" y2="58.7" stroke="#b8b8b8" stroke-width="0.9"/>
<line x1="-17.1" y1="82.7" x2="-9.5" y2="52.9" stroke="#b8b8b8" stroke-width="0.9"/>
<line x1="-20.0" y1="82.1" x2="-17.2" y2="56.6" stroke="#b8b8b8" stroke-width="0.9"/>
<line x1="-25.9" y1="80.4" x2="-15.4" y2="53.4" stroke="#b8b8b8" stroke-width="0.9"/>
<line x1="-28.7" y1="79.4" x2="-19.3" y2="55.2" stroke="#b8b8b8" stroke-width="0.9"/>
<line x1="-31.5" y1="78.4" x2="-22.0" y2="52.1" stroke="#b8b8b8" stroke-width="0.9"/>
<line x1="-35.1" y1="76.8" x2="-22.4" y2="52.0" stroke="#b8b8b8" stroke-width="0.9"/>
<line x1="-37.8" y1="75.5" x2="-24.7" y2="50.3" stroke="#b8b8b8" stroke-width="0.9"/>
<line x1="-40.4" y1="74.2" x2="-28.7" y2="52.6" stroke="#b8b8b8" stroke-width="0.9"/>
<line x1="-46.6" y1="70.4" x2="-31.5" y2="49.0" stroke="#b8b8b8" stroke-width="0.9"/>
<line x1="-49.1" y1="68.7" x2="-31.8" y2="46.2" stroke="#b8b8b8" stroke-width="0.9"/>
<line x1="-51.5" y1="67.0" x2="-37.2" y2="47.3" stroke="#b8b8b8" stroke-width="0.9"/>
<line x1="-56.4" y1="62.9" x2="-35.5" y2="42.2" stroke="#b8b8b8" stroke-width="0.9"/>
<line x1="-58.6" y1="60.9" x2="-40.1" y2="43.7" stroke="#b8b8b8" stroke-width="0.9"/>
<line x1="-60.6" y1="58.8" x2="-41.1" y2="38.4" stroke="#b8b8b8" stroke-width="0.9"/>
<line x1="-63.7" y1="55.5" x2="-44.3" y2="41.1" stroke="#b8b8b8" stroke-width="0.9"/>
<line x1="-65.6" y1="53.2" x2="-46.3" y2="39.1" stroke="#b8b8b8" stroke-width="0.9"/>
<line x1="-67.4" y1="50.9" x2="-46.2" y2="32.3" stroke="#b8b8b8" stroke-width="0.9"/>
<line x1="-71.0" y1="45.7" x2="-50.1" y2="34.5" stroke="#b8b8b8" stroke-width="0.9"/>
<line x1="-72.6" y1="43.2" x2="-47.0" y2="29.4" stroke="#b8b8b8" stroke-width="0.9"/>
<line x1="-74.1" y1="40.6" x2="-51.0" y2="27.4" stroke="#b8b8b8" stroke-width="0.9"/>
<line x1="-76.5" y1="35.8" x2="-54.3" y2="25.9" stroke="#b8b8b8" stroke-width="0.9"/>
<line x1="-77.7" y1="33.1" x2="-50.4" y2="22.3" stroke="#b8b8b8" stroke-width="0.9"/>
<line x1="-78.8" y1="30.4" x2="-56.9" y2="19.6" stroke="#b8b8b8" stroke-width="0.9"/>
<line x1="-80.0" y1="27.0" x2="-56.3" y2="21.4" stroke="#b8b8b8" stroke-width="0.9"/>
<line x1="-80.9" y1="24.2" x2="-52.1" y2="16.3" stroke="#b8b8b8" stroke-width="0.9"/>
<line x1="-81.7" y1="21.4" x2="-58.4" y2="14.4" stroke="#b8b8b8" stroke-width="0.9"/>
<line x1="-83.4" y1="13.6" x2="-55.4" y2="10.9" stroke="#b8b8b8" stroke-width="0.9"/>
<line x1="-83.8" y1="10.6" x2="-56.5" y2="7.5" stroke="#b8b8b8" stroke-width="0.9"/>
<line x1="-84.1" y1="7.7" x2="-60.9" y2="5.1" stroke="#b8b8b8" stroke-width="0.9"/>
<line x1="-84.4" y1="2.6" x2="-53.6" y2="1.8" stroke="#b8b8b8" stroke-width="0.9"/>
<line x1="-84.5" y1="-0.3" x2="-60.8" y2="-2.0" stroke="#b8b8b8" stroke-width="0.9"/>
<line x1="-84.4" y1="-3.3" x2="-56.9" y2="-5.3" stroke="#b8b8b8" stroke-width="0.9"/>
<line x1="-84.1" y1="-7.9" x2="-61.1" y2="-3.0" stroke="#b8b8b8" stroke-width="0.9"/>
<line x1="-83.8" y1="-10.8" x2="-59.0" y2="-8.9" stroke="#b8b8b8" stroke-width="0.9"/>
<line x1="-83.3" y1="-13.8" x2="-57.9" y2="-11.3" stroke="#b8b8b8" stroke-width="0.9"/>
<line x1="-82.4" y1="-18.4" x2="-55.0" y2="-10.1" stroke="#b8b8b8" stroke-width="0.9"/>
<line x1="-81.7" y1="-21.3" x2="-54.0" y2="-12.6" stroke="#b8b8b8" stroke-width="0.9"/>
<line x1="-80.9" y1="-24.1" x2="-55.7" y2="-17.5" stroke="#b8b8b8" stroke-width="0.9"/>
<line x1="-78.1" y1="-32.1" x2="-56.9" y2="-19.8" stroke="#b8b8b8" stroke-width="0.9"/>
<line x1="-77.0" y1="-34.8" x2="-55.3" y2="-25.8" stroke="#b8b8b8" stroke-width="0.9"/>
<line x1="-75.7" y1="-37.4" x2="-53.4" y2="-29.9" stroke="#b8b8b8" stroke-width="0.9"/>
<line x1="-73.7" y1="-41.3" x2="-53.9" y2="-28.5" stroke="#b8b8b8" stroke-width="0.9"/>
<line x1="-72.2" y1="-43.8" x2="-45.5" y2="-28.5" stroke="#b8b8b8" stroke-width="0.9"/>
<line x1="-70.6" y1="-46.3" x2="-45.5" y2="-30.9" stroke="#b8b8b8" stroke-width="0.9"/>
<line x1="-66.9" y1="-51.6" x2="-47.7" y2="-34.8" stroke="#b8b8b8" stroke-width="0.9"/>
<line x1="-65.0" y1="-53.9" x2="-42.9" y2="-37.5" stroke="#b8b8b8" stroke-width="0.9"/>
<line x1="-63.1" y1="-56.1" x2="-43.1" y2="-39.7" stroke="#b8b8b8" stroke-width="0.9"/>
<line x1="-58.9" y1="-60.6" x2="-39.0" y2="-39.7" stroke="#b8b8b8" stroke-width="0.9"/>
<line x1="-56.7" y1="-62.6" x2="-37.9" y2="-43.3" stroke="#b8b8b8" stroke-width="0.9"/>
<line x1="-54.5" y1="-64.5" x2="-36.0" y2="-43.5" stroke="#b8b8b8" stroke-width="0.9"/>
<line x1="-50.5" y1="-67.7" x2="-35.1" y2="-46.1" stroke="#b8b8b8" stroke-width="0.9"/>
<line x1="-48.1" y1="-69.4" x2="-30.5" y2="-45.7" stroke="#b8b8b8" stroke-width="0.9"/>
<line x1="-45.7" y1="-71.1" x2="-30.6" y2="-52.9" stroke="#b8b8b8" stroke-width="0.9"/>
<line x1="-40.2" y1="-74.3" x2="-31.7" y2="-51.3" stroke="#b8b8b8" stroke-width="0.9"/>
<line x1="-37.6" y1="-75.6" x2="-25.0" y2="-53.2" stroke="#b8b8b8" stroke-width="0.9"/>
<line x1="-34.9" y1="-76.9" x2="-21.6" y2="-49.5" stroke="#b8b8b8" stroke-width="0.9"/>
<line x1="-31.4" y1="-78.4" x2="-22.1" y2="-51.2" stroke="#b8b8b8" stroke-width="0.9"/>
<line x1="-28.6" y1="-79.5" x2="-19.4" y2="-53.6" stroke="#b8b8b8" stroke-width="0.9"/>
<line x1="-25.8" y1="-80.4" x2="-18.4" y2="-57.1" stroke="#b8b8b8" stroke-width="0.9"/>
<line x1="-19.1" y1="-82.3" x2="-14.8" y2="-51.9" stroke="#b8b8b8" stroke-width="0.9"/>
<line x1="-16.2" y1="-82.9" x2="-11.8" y2="-53.3" stroke="#b8b8b8" stroke-width="0.9"/>
<line x1="-13.3" y1="-83.4" x2="-6.7" y2="-61.2" stroke="#b8b8b8" stroke-width="0.9"/>
<line x1="-8.9" y1="-84.0" x2="-7.2" y2="-53.8" stroke="#b8b8b8" stroke-width="0.9"/>
<line x1="-6.0" y1="-84.3" x2="-4.6" y2="-56.0" stroke="#b8b8b8" stroke-width="0.9"/>
<line x1="-3.0" y1="-84.4" x2="0.1" y2="-56.5" stroke="#b8b8b8" stroke-width="0.9"/>
<line x1="4.3" y1="-84.4" x2="0.8" y2="-58.4" stroke="#b8b8b8" stroke-width="0.9"/>
<line x1="7.2" y1="-84.1" x2="4.2" y2="-55.0" stroke="#b8b8b8" stroke-width="0.9"/>
<line x1="10.2" y1="-83.8" x2="8.3" y2="-54.0" stroke="#b8b8b8" stroke-width="0.9"/>
<line x1="15.5" y1="-83.0" x2="8.9" y2="-58.8" stroke="#b8b8b8" stroke-width="0.9"/>
<line x1="18.4" y1="-82.4" x2="10.8" y2="-53.1" stroke="#b8b8b8" stroke-width="0.9"/>
<line x1="21.3" y1="-81.7" x2="16.2" y2="-54.3" stroke="#b8b8b8" stroke-width="0.9"/>
<line x1="24.2" y1="-80.9" x2="15.1" y2="-58.1" stroke="#b8b8b8" stroke-width="0.9"/>
<line x1="27.0" y1="-80.0" x2="19.7" y2="-56.9" stroke="#b8b8b8" stroke-width="0.9"/>
<line x1="29.8" y1="-79.0" x2="21.2" y2="-53.0" stroke="#b8b8b8" stroke-width="0.9"/>
<line x1="35.1" y1="-76.8" x2="23.1" y2="-52.8" stroke="#b8b8b8" stroke-width="0.9"/>
<line x1="37.8" y1="-75.5" x2="26.1" y2="-50.7" stroke="#b8b8b8" stroke-width="0.9"/>
<line x1="40.4" y1="-74.2" x2="28.1" y2="-50.0" stroke="#b8b8b8" stroke-width="0.9"/>
<line x1="45.5" y1="-71.2" x2="30.4" y2="-49.4" stroke="#b8b8b8" stroke-width="0.9"/>
<line x1="47.9" y1="-69.5" x2="30.5" y2="-44.7" stroke="#b8b8b8" stroke-width="0.9"/>
<line x1="50.3" y1="-67.8" x2="36.3" y2="-44.0" stroke="#b8b8b8" stroke-width="0.9"/>
<line x1="56.6" y1="-62.7" x2="39.4" y2="-46.9" stroke="#b8b8b8" stroke-width="0.9"/>
<line x1="58.8" y1="-60.6" x2="43.2" y2="-43.0" stroke="#b8b8b8" stroke-width="0.9"/>
<line x1="60.9" y1="-58.5" x2="41.1" y2="-37.6" stroke="#b8b8b8" stroke-width="0.9"/>
<line x1="63.5" y1="-55.7" x2="40.7" y2="-36.4" stroke="#b8b8b8" stroke-width="0.9"/>
<line x1="65.4" y1="-53.5" x2="46.5" y2="-36.3" stroke="#b8b8b8" stroke-width="0.9"/>
<line x1="67.2" y1="-51.1" x2="49.2" y2="-34.5" stroke="#b8b8b8" stroke-width="0.9"/>
<line x1="70.8" y1="-46.0" x2="49.2" y2="-33.7" stroke="#b8b8b8" stroke-width="0.9"/>
<line x1="72.4" y1="-43.5" x2="46.8" y2="-27.8" stroke="#b8b8b8" stroke-width="0.9"/>
<line x1="73.9" y1="-41.0" x2="47.0" y2="-25.7" stroke="#b8b8b8" stroke-width="0.9"/>
<line x1="76.0" y1="-36.9" x2="52.4" y2="-29.2" stroke="#b8b8b8" stroke-width="0.9"/>
<line x1="77.2" y1="-34.3" x2="49.1" y2="-23.2" stroke="#b8b8b8" stroke-width="0.9"/>
<line x1="78.3" y1="-31.5" x2="56.6" y2="-22.2" stroke="#b8b8b8" stroke-width="0.9"/>
<line x1="80.5" y1="-25.6" x2="51.1" y2="-16.7" stroke="#b8b8b8" stroke-width="0.9"/>
<line x1="81.3" y1="-22.8" x2="52.8" y2="-13.6" stroke="#b8b8b8" stroke-width="0.9"/>
<line x1="82.1" y1="-19.9" x2="58.0" y2="-11.1" stroke="#b8b8b8" stroke-width="0.9"/>
<line x1="83.2" y1="-14.8" x2="60.2" y2="-12.2" stroke="#b8b8b8" stroke-width="0.9"/>
<line x1="83.6" y1="-11.9" x2="59.3" y2="-10.1" stroke="#b8b8b8" stroke-width="0.9"/>
<line x1="84.0" y1="-8.9" x2="59.7" y2="-4.6" stroke="#b8b8b8" stroke-width="0.9"/>
<line x1="77.9" y1="23.6" x2="93.1" y2="30.2" stroke="#1fa8d8" stroke-width="1.3"/>
<path d="M93.1,30.2 L99.8,36.3 L111.9,32.0 L100.6,33.6 Z" fill="#f2f22a" stroke="#2aa0c8" stroke-width="0.8" stroke-linejoin="round"/>
<line x1="65.8" y1="47.9" x2="77.9" y2="59.2" stroke="#1fa8d8" stroke-width="1.3"/>
<path d="M77.9,59.2 L82.2,67.2 L95.1,67.1 L83.9,64.9 Z" fill="#f2f22a" stroke="#2aa0c8" stroke-width="0.8" stroke-linejoin="round"/>
<line x1="24.2" y1="77.7" x2="27.3" y2="94.0" stroke="#1fa8d8" stroke-width="1.3"/>
<path d="M27.3,94.0 L25.9,103.0 L36.3,110.6 L28.7,102.1 Z" fill="#f2f22a" stroke="#2aa0c8" stroke-width="0.8" stroke-linejoin="round"/>
<line x1="-18.2" y1="79.3" x2="-23.8" y2="94.9" stroke="#1fa8d8" stroke-width="1.3"/>
<path d="M-23.8,94.9 L-29.5,102.0 L-24.4,113.8 L-26.7,102.6 Z" fill="#f2f22a" stroke="#2aa0c8" stroke-width="0.8" stroke-linejoin="round"/>
<line x1="-38.9" y1="71.5" x2="-48.5" y2="85.0" stroke="#1fa8d8" stroke-width="1.3"/>
<path d="M-48.5,85.0 L-55.8,90.3 L-54.1,103.1 L-53.3,91.7 Z" fill="#f2f22a" stroke="#2aa0c8" stroke-width="0.8" stroke-linejoin="round"/>
<line x1="-70.4" y1="40.8" x2="-85.6" y2="47.4" stroke="#1fa8d8" stroke-width="1.3"/>
<path d="M-85.6,47.4 L-94.7,48.1 L-99.8,59.9 L-93.2,50.6 Z" fill="#f2f22a" stroke="#2aa0c8" stroke-width="0.8" stroke-linejoin="round"/>
<line x1="-81.4" y1="-1.3" x2="-97.8" y2="-3.5" stroke="#1fa8d8" stroke-width="1.3"/>
<path d="M-97.8,-3.5 L-105.9,-7.6 L-116.4,-0.1 L-106.0,-4.7 Z" fill="#f2f22a" stroke="#2aa0c8" stroke-width="0.8" stroke-linejoin="round"/>
<line x1="-68.8" y1="-43.4" x2="-81.7" y2="-53.8" stroke="#1fa8d8" stroke-width="1.3"/>
<path d="M-81.7,-53.8 L-86.5,-61.6 L-99.4,-60.6 L-88.1,-59.1 Z" fill="#f2f22a" stroke="#2aa0c8" stroke-width="0.8" stroke-linejoin="round"/>
<line x1="-50.3" y1="-64.0" x2="-58.9" y2="-78.1" stroke="#1fa8d8" stroke-width="1.3"/>
<path d="M-58.9,-78.1 L-60.9,-87.0 L-73.3,-90.4 L-63.1,-85.2 Z" fill="#f2f22a" stroke="#2aa0c8" stroke-width="0.8" stroke-linejoin="round"/>
<line x1="-16.0" y1="-79.8" x2="-17.3" y2="-96.3" stroke="#1fa8d8" stroke-width="1.3"/>
<path d="M-17.3,-96.3 L-15.1,-105.1 L-24.6,-113.8 L-17.9,-104.6 Z" fill="#f2f22a" stroke="#2aa0c8" stroke-width="0.8" stroke-linejoin="round"/>
<line x1="24.2" y1="-77.7" x2="31.0" y2="-92.8" stroke="#1fa8d8" stroke-width="1.3"/>
<path d="M31.0,-92.8 L37.2,-99.5 L33.0,-111.6 L34.5,-100.3 Z" fill="#f2f22a" stroke="#2aa0c8" stroke-width="0.8" stroke-linejoin="round"/>
<line x1="62.4" y1="-52.2" x2="76.3" y2="-61.3" stroke="#1fa8d8" stroke-width="1.3"/>
<path d="M76.3,-61.3 L85.1,-63.5 L88.1,-76.0 L83.3,-65.7 Z" fill="#f2f22a" stroke="#2aa0c8" stroke-width="0.8" stroke-linejoin="round"/>
<line x1="80.0" y1="-14.6" x2="96.6" y2="-15.6" stroke="#1fa8d8" stroke-width="1.3"/>
<path d="M96.6,-15.6 L105.4,-13.2 L114.2,-22.6 L104.9,-16.0 Z" fill="#f2f22a" stroke="#2aa0c8" stroke-width="0.8" stroke-linejoin="round"/>
<line x1="89.3" y1="15.5" x2="63.1" y2="10.8" stroke="#00a6ea" stroke-width="4"/>
<line x1="74.1" y1="52.2" x2="50.7" y2="40.7" stroke="#00a6ea" stroke-width="4"/>
<line x1="43.5" y1="79.5" x2="32.7" y2="51.5" stroke="#00a6ea" stroke-width="4"/>
<line x1="5.9" y1="90.5" x2="-0.1" y2="65.9" stroke="#00a6ea" stroke-width="4"/>
<line x1="-35.5" y1="83.4" x2="-24.5" y2="59.1" stroke="#00a6ea" stroke-width="4"/>
<line x1="-62.5" y1="65.6" x2="-42.8" y2="49.8" stroke="#00a6ea" stroke-width="4"/>
<line x1="-87.9" y1="22.3" x2="-59.2" y2="18.1" stroke="#00a6ea" stroke-width="4"/>
<line x1="-85.8" y1="-29.1" x2="-61.7" y2="-18.9" stroke="#00a6ea" stroke-width="4"/>
<line x1="-73.5" y1="-53.1" x2="-48.9" y2="-37.6" stroke="#00a6ea" stroke-width="4"/>
<line x1="-35.8" y1="-83.3" x2="-28.7" y2="-61.2" stroke="#00a6ea" stroke-width="4"/>
<line x1="-10.5" y1="-90.0" x2="-8.5" y2="-65.0" stroke="#00a6ea" stroke-width="4"/>
<line x1="41.5" y1="-80.6" x2="31.4" y2="-58.9" stroke="#00a6ea" stroke-width="4"/>
<line x1="73.3" y1="-53.3" x2="48.4" y2="-38.6" stroke="#00a6ea" stroke-width="4"/>
<line x1="88.8" y1="-18.2" x2="58.7" y2="-12.2" stroke="#00a6ea" stroke-width="4"/>
<ellipse cx="88.6" cy="-0.9" rx="6.6" ry="5.2" transform="rotate(89.4 88.6 -0.9)" fill="#a9a6aa"/>
<ellipse cx="87.7" cy="12.2" rx="6.6" ry="5.2" transform="rotate(97.9 87.7 12.2)" fill="#a9a6aa"/>
<ellipse cx="85.4" cy="23.5" rx="6.6" ry="5.2" transform="rotate(105.4 85.4 23.5)" fill="#a9a6aa"/>
<ellipse cx="81.1" cy="35.6" rx="6.6" ry="5.2" transform="rotate(113.7 81.1 35.6)" fill="#a9a6aa"/>
<ellipse cx="75.5" cy="46.4" rx="6.6" ry="5.2" transform="rotate(121.6 75.5 46.4)" fill="#a9a6aa"/>
<ellipse cx="69.7" cy="54.7" rx="6.6" ry="5.2" transform="rotate(128.1 69.7 54.7)" fill="#a9a6aa"/>
<ellipse cx="61.7" cy="63.5" rx="6.6" ry="5.2" transform="rotate(135.8 61.7 63.5)" fill="#a9a6aa"/>
<ellipse cx="50.1" cy="73.1" rx="6.6" ry="5.2" transform="rotate(145.6 50.1 73.1)" fill="#a9a6aa"/>
<ellipse cx="41.5" cy="78.3" rx="6.6" ry="5.2" transform="rotate(152.1 41.5 78.3)" fill="#a9a6aa"/>
<ellipse cx="30.5" cy="83.1" rx="6.6" ry="5.2" transform="rotate(159.8 30.5 83.1)" fill="#a9a6aa"/>
<ellipse cx="16.3" cy="87.1" rx="6.6" ry="5.2" transform="rotate(169.4 16.3 87.1)" fill="#a9a6aa"/>
<ellipse cx="6.2" cy="88.4" rx="6.6" ry="5.2" transform="rotate(176.0 6.2 88.4)" fill="#a9a6aa"/>
<ellipse cx="-7.2" cy="88.3" rx="6.6" ry="5.2" transform="rotate(184.7 -7.2 88.3)" fill="#a9a6aa"/>
<ellipse cx="-17.9" cy="86.7" rx="6.6" ry="5.2" transform="rotate(191.7 -17.9 86.7)" fill="#a9a6aa"/>
<ellipse cx="-30.1" cy="83.3" rx="6.6" ry="5.2" transform="rotate(199.9 -30.1 83.3)" fill="#a9a6aa"/>
<ellipse cx="-39.6" cy="79.2" rx="6.6" ry="5.2" transform="rotate(206.6 -39.6 79.2)" fill="#a9a6aa"/>
<ellipse cx="-51.5" cy="72.1" rx="6.6" ry="5.2" transform="rotate(215.5 -51.5 72.1)" fill="#a9a6aa"/>
<ellipse cx="-61.4" cy="63.8" rx="6.6" ry="5.2" transform="rotate(223.9 -61.4 63.8)" fill="#a9a6aa"/>
<ellipse cx="-68.8" cy="55.8" rx="6.6" ry="5.2" transform="rotate(230.9 -68.8 55.8)" fill="#a9a6aa"/>
<ellipse cx="-76.1" cy="45.3" rx="6.6" ry="5.2" transform="rotate(239.2 -76.1 45.3)" fill="#a9a6aa"/>
<ellipse cx="-81.5" cy="34.7" rx="6.6" ry="5.2" transform="rotate(246.9 -81.5 34.7)" fill="#a9a6aa"/>
<ellipse cx="-84.9" cy="25.4" rx="6.6" ry="5.2" transform="rotate(253.3 -84.9 25.4)" fill="#a9a6aa"/>
<ellipse cx="-87.9" cy="11.2" rx="6.6" ry="5.2" transform="rotate(262.8 -87.9 11.2)" fill="#a9a6aa"/>
<ellipse cx="-88.6" cy="-0.3" rx="6.6" ry="5.2" transform="rotate(270.2 -88.6 -0.3)" fill="#a9a6aa"/>
<ellipse cx="-87.8" cy="-11.4" rx="6.6" ry="5.2" transform="rotate(277.4 -87.8 -11.4)" fill="#a9a6aa"/>
<ellipse cx="-85.7" cy="-22.3" rx="6.6" ry="5.2" transform="rotate(284.6 -85.7 -22.3)" fill="#a9a6aa"/>
<ellipse cx="-80.7" cy="-36.5" rx="6.6" ry="5.2" transform="rotate(294.3 -80.7 -36.5)" fill="#a9a6aa"/>
<ellipse cx="-75.7" cy="-45.9" rx="6.6" ry="5.2" transform="rotate(301.2 -75.7 -45.9)" fill="#a9a6aa"/>
<ellipse cx="-68.2" cy="-56.5" rx="6.6" ry="5.2" transform="rotate(309.6 -68.2 -56.5)" fill="#a9a6aa"/>
<ellipse cx="-59.5" cy="-65.6" rx="6.6" ry="5.2" transform="rotate(317.8 -59.5 -65.6)" fill="#a9a6aa"/>
<ellipse cx="-50.5" cy="-72.8" rx="6.6" ry="5.2" transform="rotate(325.3 -50.5 -72.8)" fill="#a9a6aa"/>
<ellipse cx="-39.4" cy="-79.3" rx="6.6" ry="5.2" transform="rotate(333.6 -39.4 -79.3)" fill="#a9a6aa"/>
<ellipse cx="-30.0" cy="-83.3" rx="6.6" ry="5.2" transform="rotate(340.2 -30.0 -83.3)" fill="#a9a6aa"/>
<ellipse cx="-17.0" cy="-86.9" rx="6.6" ry="5.2" transform="rotate(349.0 -17.0 -86.9)" fill="#a9a6aa"/>
<ellipse cx="-6.2" cy="-88.4" rx="6.6" ry="5.2" transform="rotate(356.0 -6.2 -88.4)" fill="#a9a6aa"/>
<ellipse cx="7.6" cy="-88.3" rx="6.6" ry="5.2" transform="rotate(364.9 7.6 -88.3)" fill="#a9a6aa"/>
<ellipse cx="19.3" cy="-86.4" rx="6.6" ry="5.2" transform="rotate(372.6 19.3 -86.4)" fill="#a9a6aa"/>
<ellipse cx="28.3" cy="-83.9" rx="6.6" ry="5.2" transform="rotate(378.6 28.3 -83.9)" fill="#a9a6aa"/>
<ellipse cx="39.6" cy="-79.2" rx="6.6" ry="5.2" transform="rotate(386.6 39.6 -79.2)" fill="#a9a6aa"/>
<ellipse cx="50.3" cy="-72.9" rx="6.6" ry="5.2" transform="rotate(394.6 50.3 -72.9)" fill="#a9a6aa"/>
<ellipse cx="61.7" cy="-63.6" rx="6.6" ry="5.2" transform="rotate(404.1 61.7 -63.6)" fill="#a9a6aa"/>
<ellipse cx="68.6" cy="-56.1" rx="6.6" ry="5.2" transform="rotate(410.7 68.6 -56.1)" fill="#a9a6aa"/>
<ellipse cx="75.9" cy="-45.6" rx="6.6" ry="5.2" transform="rotate(419.0 75.9 -45.6)" fill="#a9a6aa"/>
<ellipse cx="81.0" cy="-35.9" rx="6.6" ry="5.2" transform="rotate(426.1 81.0 -35.9)" fill="#a9a6aa"/>
<ellipse cx="85.3" cy="-23.9" rx="6.6" ry="5.2" transform="rotate(434.4 85.3 -23.9)" fill="#a9a6aa"/>
<ellipse cx="87.7" cy="-12.5" rx="6.6" ry="5.2" transform="rotate(441.9 87.7 -12.5)" fill="#a9a6aa"/>
<ellipse cx="64.4" cy="-1.4" rx="6.4" ry="5.8" fill="#c5d9f1" stroke="#5b79c4" stroke-width="0.8"/>
<ellipse cx="64.9" cy="15.6" rx="6.4" ry="5.8" fill="#c5d9f1" stroke="#5b79c4" stroke-width="0.8"/>
<ellipse cx="53.8" cy="34.8" rx="6.4" ry="5.8" fill="#c5d9f1" stroke="#5b79c4" stroke-width="0.8"/>
<ellipse cx="44.3" cy="53.1" rx="6.4" ry="5.8" fill="#c5d9f1" stroke="#5b79c4" stroke-width="0.8"/>
<ellipse cx="33.4" cy="60.4" rx="6.4" ry="5.8" fill="#c5d9f1" stroke="#5b79c4" stroke-width="0.8"/>
<ellipse cx="14.8" cy="73.0" rx="6.4" ry="5.8" fill="#c5d9f1" stroke="#5b79c4" stroke-width="0.8"/>
<ellipse cx="-0.7" cy="69.2" rx="6.4" ry="5.8" fill="#c5d9f1" stroke="#5b79c4" stroke-width="0.8"/>
<ellipse cx="-22.3" cy="71.6" rx="6.4" ry="5.8" fill="#c5d9f1" stroke="#5b79c4" stroke-width="0.8"/>
<ellipse cx="-35.4" cy="64.0" rx="6.4" ry="5.8" fill="#c5d9f1" stroke="#5b79c4" stroke-width="0.8"/>
<ellipse cx="-52.7" cy="44.5" rx="6.4" ry="5.8" fill="#c5d9f1" stroke="#5b79c4" stroke-width="0.8"/>
<ellipse cx="-55.0" cy="35.5" rx="6.4" ry="5.8" fill="#c5d9f1" stroke="#5b79c4" stroke-width="0.8"/>
<ellipse cx="-70.5" cy="15.9" rx="6.4" ry="5.8" fill="#c5d9f1" stroke="#5b79c4" stroke-width="0.8"/>
<ellipse cx="-74.7" cy="-6.3" rx="6.4" ry="5.8" fill="#c5d9f1" stroke="#5b79c4" stroke-width="0.8"/>
<ellipse cx="-63.2" cy="-13.8" rx="6.4" ry="5.8" fill="#c5d9f1" stroke="#5b79c4" stroke-width="0.8"/>
<ellipse cx="-57.4" cy="-29.8" rx="6.4" ry="5.8" fill="#c5d9f1" stroke="#5b79c4" stroke-width="0.8"/>
<ellipse cx="-51.1" cy="-55.0" rx="6.4" ry="5.8" fill="#c5d9f1" stroke="#5b79c4" stroke-width="0.8"/>
<ellipse cx="-28.6" cy="-59.2" rx="6.4" ry="5.8" fill="#c5d9f1" stroke="#5b79c4" stroke-width="0.8"/>
<ellipse cx="-12.9" cy="-65.4" rx="6.4" ry="5.8" fill="#c5d9f1" stroke="#5b79c4" stroke-width="0.8"/>
<ellipse cx="-1.0" cy="-73.1" rx="6.4" ry="5.8" fill="#c5d9f1" stroke="#5b79c4" stroke-width="0.8"/>
<ellipse cx="11.7" cy="-62.1" rx="6.4" ry="5.8" fill="#c5d9f1" stroke="#5b79c4" stroke-width="0.8"/>
<ellipse cx="36.6" cy="-55.3" rx="6.4" ry="5.8" fill="#c5d9f1" stroke="#5b79c4" stroke-width="0.8"/>
<ellipse cx="48.7" cy="-51.3" rx="6.4" ry="5.8" fill="#c5d9f1" stroke="#5b79c4" stroke-width="0.8"/>
<ellipse cx="54.6" cy="-29.2" rx="6.4" ry="5.8" fill="#c5d9f1" stroke="#5b79c4" stroke-width="0.8"/>
<ellipse cx="65.6" cy="-19.7" rx="6.4" ry="5.8" fill="#c5d9f1" stroke="#5b79c4" stroke-width="0.8"/>
<circle cx="77.9" cy="23.6" r="4.6" fill="#ffff00" stroke="#a0b040" stroke-width="0.6"/>
<circle cx="65.8" cy="47.9" r="4.6" fill="#ffff00" stroke="#a0b040" stroke-width="0.6"/>
<circle cx="24.2" cy="77.7" r="4.6" fill="#ffff00" stroke="#a0b040" stroke-width="0.6"/>
<circle cx="-18.2" cy="79.3" r="4.6" fill="#ffff00" stroke="#a0b040" stroke-width="0.6"/>
<circle cx="-38.9" cy="71.5" r="4.6" fill="#ffff00" stroke="#a0b040" stroke-width="0.6"/>
<circle cx="-70.4" cy="40.8" r="4.6" fill="#ffff00" stroke="#a0b040" stroke-width="0.6"/>
<circle cx="-81.4" cy="-1.3" r="4.6" fill="#ffff00" stroke="#a0b040" stroke-width="0.6"/>
<circle cx="-68.8" cy="-43.4" r="4.6" fill="#ffff00" stroke="#a0b040" stroke-width="0.6"/>
<circle cx="-50.3" cy="-64.0" r="4.6" fill="#ffff00" stroke="#a0b040" stroke-width="0.6"/>
<circle cx="-16.0" cy="-79.8" r="4.6" fill="#ffff00" stroke="#a0b040" stroke-width="0.6"/>
<circle cx="24.2" cy="-77.7" r="4.6" fill="#ffff00" stroke="#a0b040" stroke-width="0.6"/>
<circle cx="62.4" cy="-52.2" r="4.6" fill="#ffff00" stroke="#a0b040" stroke-width="0.6"/>
<circle cx="80.0" cy="-14.6" r="4.6" fill="#ffff00" stroke="#a0b040" stroke-width="0.6"/>
<ellipse cx="90.3" cy="15.6" rx="6.5" ry="4.6" transform="rotate(99.8 90.3 15.6)" fill="#00b0f0"/>
<ellipse cx="75.0" cy="52.7" rx="6.5" ry="4.6" transform="rotate(125.1 75.0 52.7)" fill="#00b0f0"/>
<ellipse cx="44.0" cy="80.4" rx="6.5" ry="4.6" transform="rotate(151.3 44.0 80.4)" fill="#00b0f0"/>
<ellipse cx="5.9" cy="91.5" rx="6.5" ry="4.6" transform="rotate(176.3 5.9 91.5)" fill="#00b0f0"/>
<ellipse cx="-35.9" cy="84.3" rx="6.5" ry="4.6" transform="rotate(203.1 -35.9 84.3)" fill="#00b0f0"/>
<ellipse cx="-63.2" cy="66.4" rx="6.5" ry="4.6" transform="rotate(223.6 -63.2 66.4)" fill="#00b0f0"/>
<ellipse cx="-88.8" cy="22.6" rx="6.5" ry="4.6" transform="rotate(255.7 -88.8 22.6)" fill="#00b0f0"/>
<ellipse cx="-86.8" cy="-29.5" rx="6.5" ry="4.6" transform="rotate(288.8 -86.8 -29.5)" fill="#00b0f0"/>
<ellipse cx="-74.3" cy="-53.7" rx="6.5" ry="4.6" transform="rotate(305.8 -74.3 -53.7)" fill="#00b0f0"/>
<ellipse cx="-36.3" cy="-84.2" rx="6.5" ry="4.6" transform="rotate(336.7 -36.3 -84.2)" fill="#00b0f0"/>
<ellipse cx="-10.6" cy="-91.1" rx="6.5" ry="4.6" transform="rotate(353.4 -10.6 -91.1)" fill="#00b0f0"/>
<ellipse cx="42.0" cy="-81.5" rx="6.5" ry="4.6" transform="rotate(387.3 42.0 -81.5)" fill="#00b0f0"/>
<ellipse cx="74.1" cy="-53.9" rx="6.5" ry="4.6" transform="rotate(414.0 74.1 -53.9)" fill="#00b0f0"/>
<ellipse cx="89.8" cy="-18.4" rx="6.5" ry="4.6" transform="rotate(438.4 89.8 -18.4)" fill="#00b0f0"/>
<ellipse cx="-11.7" cy="-55.0" rx="5" ry="4" fill="#a9a6aa"/>
<ellipse cx="21.7" cy="-54.9" rx="5" ry="4" fill="#a9a6aa"/>
<ellipse cx="28.8" cy="-51.5" rx="5" ry="4" fill="#a9a6aa"/>
<ellipse cx="-42.6" cy="-36.2" rx="5" ry="4" fill="#a9a6aa"/>
<ellipse cx="-37.1" cy="-41.8" rx="5" ry="4" fill="#a9a6aa"/>
<ellipse cx="46.4" cy="-33.5" rx="5" ry="4" fill="#a9a6aa"/>
<ellipse cx="-53.5" cy="1.4" rx="5" ry="4" fill="#a9a6aa"/>
<ellipse cx="57.5" cy="0.1" rx="5" ry="4" fill="#a9a6aa"/>
<ellipse cx="56.9" cy="8.0" rx="5" ry="4" fill="#a9a6aa"/>
<ellipse cx="-32.5" cy="30.9" rx="5" ry="4" fill="#a9a6aa"/>
<ellipse cx="-37.5" cy="24.7" rx="5" ry="4" fill="#a9a6aa"/>
<ellipse cx="37.3" cy="25.9" rx="5" ry="4" fill="#a9a6aa"/>
<ellipse cx="32.2" cy="32.0" rx="5" ry="4" fill="#a9a6aa"/>
<ellipse cx="6.1" cy="44.5" rx="5" ry="4" fill="#a9a6aa"/>
<circle cx="-7.3" cy="-51.8" r="12.5" fill="none" stroke="#f7941d" stroke-width="4.8"/>
<circle cx="23.6" cy="-49.7" r="12.5" fill="none" stroke="#f7941d" stroke-width="4.8"/>
<circle cx="-37.1" cy="-36.3" r="12.5" fill="none" stroke="#f7941d" stroke-width="4.8"/>
<circle cx="0.9" cy="-26.0" r="12.5" fill="none" stroke="#f7941d" stroke-width="4.8"/>
<circle cx="45.2" cy="-28.1" r="12.5" fill="none" stroke="#f7941d" stroke-width="4.8"/>
<circle cx="-22.7" cy="-10.6" r="12.5" fill="none" stroke="#f7941d" stroke-width="4.8"/>
<circle cx="24.6" cy="-4.4" r="12.5" fill="none" stroke="#f7941d" stroke-width="4.8"/>
<circle cx="-49.5" cy="-2.4" r="12.5" fill="none" stroke="#f7941d" stroke-width="4.8"/>
<circle cx="53.4" cy="3.8" r="12.5" fill="none" stroke="#f7941d" stroke-width="4.8"/>
<circle cx="-2.1" cy="11.0" r="12.5" fill="none" stroke="#f7941d" stroke-width="4.8"/>
<circle cx="-32.0" cy="25.4" r="12.5" fill="none" stroke="#f7941d" stroke-width="4.8"/>
<circle cx="31.8" cy="26.5" r="12.5" fill="none" stroke="#f7941d" stroke-width="4.8"/>
<circle cx="2.0" cy="40.9" r="12.5" fill="none" stroke="#f7941d" stroke-width="4.8"/>
</g>
<ellipse cx="228.5" cy="483.5" rx="5.5" ry="4.5" transform="rotate(20 228.5 483.5)" fill="#00aeef"/>
<ellipse cx="301" cy="543.7" rx="4.5" ry="5.5" transform="rotate(0 301 543.7)" fill="#00aeef"/>
<ellipse cx="239.3" cy="562.2" rx="5" ry="4" transform="rotate(30 239.3 562.2)" fill="#00aeef"/>
<ellipse cx="275.3" cy="469.6" rx="3.5" ry="4.5" transform="rotate(0 275.3 469.6)" fill="#00aeef"/>
<ellipse cx="557.4" cy="390.6" rx="89.5" ry="88" fill="#fff" stroke="#000" stroke-width="2"/>
<g transform="translate(561.8,344.5) scale(0.385)">
<line x1="82.0" y1="-2.5" x2="54.3" y2="-2.8" stroke="#c4c4d4" stroke-width="1.8"/>
<line x1="82.0" y1="0.4" x2="52.0" y2="0.8" stroke="#c4c4d4" stroke-width="1.8"/>
<line x1="81.9" y1="3.3" x2="54.6" y2="3.1" stroke="#c4c4d4" stroke-width="1.8"/>
<line x1="81.5" y1="9.1" x2="58.4" y2="4.8" stroke="#c4c4d4" stroke-width="1.8"/>
<line x1="81.1" y1="12.0" x2="54.0" y2="7.9" stroke="#c4c4d4" stroke-width="1.8"/>
<line x1="80.7" y1="14.8" x2="56.7" y2="10.5" stroke="#c4c4d4" stroke-width="1.8"/>
<line x1="79.5" y1="20.3" x2="58.7" y2="11.5" stroke="#c4c4d4" stroke-width="1.8"/>
<line x1="78.7" y1="23.1" x2="55.3" y2="17.5" stroke="#c4c4d4" stroke-width="1.8"/>
<line x1="77.8" y1="25.8" x2="48.7" y2="18.6" stroke="#c4c4d4" stroke-width="1.8"/>
<line x1="75.8" y1="31.4" x2="51.2" y2="19.8" stroke="#c4c4d4" stroke-width="1.8"/>
<line x1="74.6" y1="34.0" x2="48.0" y2="20.3" stroke="#c4c4d4" stroke-width="1.8"/>
<line x1="73.4" y1="36.6" x2="46.4" y2="26.5" stroke="#c4c4d4" stroke-width="1.8"/>
<line x1="71.1" y1="40.8" x2="46.8" y2="26.1" stroke="#c4c4d4" stroke-width="1.8"/>
<line x1="69.7" y1="43.3" x2="49.6" y2="32.7" stroke="#c4c4d4" stroke-width="1.8"/>
<line x1="68.1" y1="45.7" x2="44.9" y2="31.4" stroke="#c4c4d4" stroke-width="1.8"/>
<line x1="64.5" y1="50.6" x2="44.6" y2="34.2" stroke="#c4c4d4" stroke-width="1.8"/>
<line x1="62.7" y1="52.8" x2="39.9" y2="34.6" stroke="#c4c4d4" stroke-width="1.8"/>
<line x1="60.8" y1="55.0" x2="41.3" y2="41.2" stroke="#c4c4d4" stroke-width="1.8"/>
<line x1="59.1" y1="56.8" x2="37.7" y2="36.2" stroke="#c4c4d4" stroke-width="1.8"/>
<line x1="57.1" y1="58.9" x2="37.1" y2="37.5" stroke="#c4c4d4" stroke-width="1.8"/>
<line x1="55.0" y1="60.8" x2="35.9" y2="44.2" stroke="#c4c4d4" stroke-width="1.8"/>
<line x1="49.7" y1="65.2" x2="33.3" y2="43.4" stroke="#c4c4d4" stroke-width="1.8"/>
<line x1="47.4" y1="66.9" x2="33.1" y2="45.6" stroke="#c4c4d4" stroke-width="1.8"/>
<line x1="45.0" y1="68.5" x2="29.5" y2="45.8" stroke="#c4c4d4" stroke-width="1.8"/>
<line x1="39.0" y1="72.1" x2="27.3" y2="45.0" stroke="#c4c4d4" stroke-width="1.8"/>
<line x1="36.4" y1="73.5" x2="24.0" y2="52.3" stroke="#c4c4d4" stroke-width="1.8"/>
<line x1="33.8" y1="74.7" x2="21.9" y2="48.6" stroke="#c4c4d4" stroke-width="1.8"/>
<line x1="29.7" y1="76.4" x2="23.1" y2="55.2" stroke="#c4c4d4" stroke-width="1.8"/>
<line x1="27.0" y1="77.4" x2="19.0" y2="51.9" stroke="#c4c4d4" stroke-width="1.8"/>
<line x1="24.3" y1="78.3" x2="14.2" y2="54.9" stroke="#c4c4d4" stroke-width="1.8"/>
<line x1="18.2" y1="80.0" x2="14.1" y2="53.8" stroke="#c4c4d4" stroke-width="1.8"/>
<line x1="15.4" y1="80.5" x2="8.6" y2="51.7" stroke="#c4c4d4" stroke-width="1.8"/>
<line x1="12.6" y1="81.0" x2="6.6" y2="51.8" stroke="#c4c4d4" stroke-width="1.8"/>
<line x1="9.7" y1="81.4" x2="9.9" y2="57.9" stroke="#c4c4d4" stroke-width="1.8"/>
<line x1="6.9" y1="81.7" x2="3.3" y2="57.8" stroke="#c4c4d4" stroke-width="1.8"/>
<line x1="4.0" y1="81.9" x2="0.2" y2="57.0" stroke="#c4c4d4" stroke-width="1.8"/>
<line x1="-2.6" y1="82.0" x2="-0.0" y2="52.9" stroke="#c4c4d4" stroke-width="1.8"/>
<line x1="-5.5" y1="81.8" x2="-4.7" y2="53.0" stroke="#c4c4d4" stroke-width="1.8"/>
<line x1="-8.4" y1="81.6" x2="-6.9" y2="53.9" stroke="#c4c4d4" stroke-width="1.8"/>
<line x1="-13.0" y1="81.0" x2="-9.1" y2="59.3" stroke="#c4c4d4" stroke-width="1.8"/>
<line x1="-15.9" y1="80.4" x2="-11.4" y2="58.7" stroke="#c4c4d4" stroke-width="1.8"/>
<line x1="-18.7" y1="79.8" x2="-15.0" y2="53.9" stroke="#c4c4d4" stroke-width="1.8"/>
<line x1="-24.9" y1="78.1" x2="-14.8" y2="53.8" stroke="#c4c4d4" stroke-width="1.8"/>
<line x1="-27.6" y1="77.2" x2="-17.5" y2="52.4" stroke="#c4c4d4" stroke-width="1.8"/>
<line x1="-30.3" y1="76.2" x2="-23.2" y2="49.9" stroke="#c4c4d4" stroke-width="1.8"/>
<line x1="-35.4" y1="74.0" x2="-24.6" y2="54.4" stroke="#c4c4d4" stroke-width="1.8"/>
<line x1="-37.9" y1="72.7" x2="-25.4" y2="49.9" stroke="#c4c4d4" stroke-width="1.8"/>
<line x1="-40.5" y1="71.3" x2="-26.7" y2="45.5" stroke="#c4c4d4" stroke-width="1.8"/>
<line x1="-43.6" y1="69.5" x2="-30.7" y2="49.5" stroke="#c4c4d4" stroke-width="1.8"/>
<line x1="-46.0" y1="67.9" x2="-31.6" y2="44.9" stroke="#c4c4d4" stroke-width="1.8"/>
<line x1="-48.3" y1="66.2" x2="-36.1" y2="45.6" stroke="#c4c4d4" stroke-width="1.8"/>
<line x1="-53.1" y1="62.5" x2="-36.6" y2="44.1" stroke="#c4c4d4" stroke-width="1.8"/>
<line x1="-55.3" y1="60.6" x2="-37.5" y2="40.1" stroke="#c4c4d4" stroke-width="1.8"/>
<line x1="-57.4" y1="58.6" x2="-39.0" y2="37.7" stroke="#c4c4d4" stroke-width="1.8"/>
<line x1="-61.3" y1="54.5" x2="-42.8" y2="39.4" stroke="#c4c4d4" stroke-width="1.8"/>
<line x1="-63.1" y1="52.3" x2="-42.8" y2="33.5" stroke="#c4c4d4" stroke-width="1.8"/>
<line x1="-64.9" y1="50.1" x2="-46.4" y2="33.4" stroke="#c4c4d4" stroke-width="1.8"/>
<line x1="-69.3" y1="43.9" x2="-43.3" y2="29.0" stroke="#c4c4d4" stroke-width="1.8"/>
<line x1="-70.8" y1="41.4" x2="-46.9" y2="26.8" stroke="#c4c4d4" stroke-width="1.8"/>
<line x1="-72.2" y1="38.9" x2="-50.2" y2="24.1" stroke="#c4c4d4" stroke-width="1.8"/>
<line x1="-74.4" y1="34.5" x2="-51.6" y2="24.6" stroke="#c4c4d4" stroke-width="1.8"/>
<line x1="-75.6" y1="31.9" x2="-50.7" y2="20.9" stroke="#c4c4d4" stroke-width="1.8"/>
<line x1="-76.6" y1="29.2" x2="-55.0" y2="18.0" stroke="#c4c4d4" stroke-width="1.8"/>
<line x1="-77.8" y1="25.9" x2="-51.9" y2="17.7" stroke="#c4c4d4" stroke-width="1.8"/>
<line x1="-78.7" y1="23.2" x2="-56.7" y2="16.0" stroke="#c4c4d4" stroke-width="1.8"/>
<line x1="-79.4" y1="20.4" x2="-58.7" y2="11.7" stroke="#c4c4d4" stroke-width="1.8"/>
<line x1="-81.0" y1="13.0" x2="-55.2" y2="10.4" stroke="#c4c4d4" stroke-width="1.8"/>
<line x1="-81.4" y1="10.2" x2="-53.0" y2="5.6" stroke="#c4c4d4" stroke-width="1.8"/>
<line x1="-81.7" y1="7.3" x2="-59.4" y2="3.8" stroke="#c4c4d4" stroke-width="1.8"/>
<line x1="-81.9" y1="4.1" x2="-57.4" y2="3.7" stroke="#c4c4d4" stroke-width="1.8"/>
<line x1="-82.0" y1="1.2" x2="-57.8" y2="2.0" stroke="#c4c4d4" stroke-width="1.8"/>
<line x1="-82.0" y1="-1.7" x2="-58.2" y2="-3.1" stroke="#c4c4d4" stroke-width="1.8"/>
<line x1="-81.5" y1="-8.7" x2="-57.2" y2="-4.2" stroke="#c4c4d4" stroke-width="1.8"/>
<line x1="-81.2" y1="-11.5" x2="-56.3" y2="-9.0" stroke="#c4c4d4" stroke-width="1.8"/>
<line x1="-80.7" y1="-14.4" x2="-55.7" y2="-12.3" stroke="#c4c4d4" stroke-width="1.8"/>
<line x1="-80.0" y1="-18.2" x2="-51.4" y2="-9.1" stroke="#c4c4d4" stroke-width="1.8"/>
<line x1="-79.3" y1="-20.9" x2="-53.6" y2="-14.7" stroke="#c4c4d4" stroke-width="1.8"/>
<line x1="-78.5" y1="-23.7" x2="-50.8" y2="-17.5" stroke="#c4c4d4" stroke-width="1.8"/>
<line x1="-76.9" y1="-28.5" x2="-54.5" y2="-16.8" stroke="#c4c4d4" stroke-width="1.8"/>
<line x1="-75.8" y1="-31.2" x2="-51.9" y2="-20.3" stroke="#c4c4d4" stroke-width="1.8"/>
<line x1="-74.7" y1="-33.8" x2="-47.6" y2="-21.9" stroke="#c4c4d4" stroke-width="1.8"/>
<line x1="-70.9" y1="-41.2" x2="-48.4" y2="-25.1" stroke="#c4c4d4" stroke-width="1.8"/>
<line x1="-69.4" y1="-43.6" x2="-46.1" y2="-27.2" stroke="#c4c4d4" stroke-width="1.8"/>
<line x1="-67.9" y1="-46.0" x2="-45.4" y2="-32.2" stroke="#c4c4d4" stroke-width="1.8"/>
<line x1="-66.0" y1="-48.7" x2="-46.5" y2="-32.8" stroke="#c4c4d4" stroke-width="1.8"/>
<line x1="-64.2" y1="-51.0" x2="-41.4" y2="-34.5" stroke="#c4c4d4" stroke-width="1.8"/>
<line x1="-62.4" y1="-53.2" x2="-38.8" y2="-34.6" stroke="#c4c4d4" stroke-width="1.8"/>
<line x1="-58.7" y1="-57.3" x2="-40.1" y2="-36.6" stroke="#c4c4d4" stroke-width="1.8"/>
<line x1="-56.6" y1="-59.3" x2="-35.8" y2="-39.0" stroke="#c4c4d4" stroke-width="1.8"/>
<line x1="-54.5" y1="-61.2" x2="-36.6" y2="-41.1" stroke="#c4c4d4" stroke-width="1.8"/>
<line x1="-48.3" y1="-66.2" x2="-35.9" y2="-44.2" stroke="#c4c4d4" stroke-width="1.8"/>
<line x1="-46.0" y1="-67.9" x2="-32.1" y2="-46.4" stroke="#c4c4d4" stroke-width="1.8"/>
<line x1="-43.6" y1="-69.5" x2="-27.4" y2="-49.6" stroke="#c4c4d4" stroke-width="1.8"/>
<line x1="-39.2" y1="-72.0" x2="-29.6" y2="-50.5" stroke="#c4c4d4" stroke-width="1.8"/>
<line x1="-36.6" y1="-73.4" x2="-25.7" y2="-52.6" stroke="#c4c4d4" stroke-width="1.8"/>
<line x1="-34.0" y1="-74.6" x2="-22.5" y2="-50.1" stroke="#c4c4d4" stroke-width="1.8"/>
<line x1="-30.8" y1="-76.0" x2="-22.6" y2="-52.1" stroke="#c4c4d4" stroke-width="1.8"/>
<line x1="-28.1" y1="-77.0" x2="-18.9" y2="-56.6" stroke="#c4c4d4" stroke-width="1.8"/>
<line x1="-25.4" y1="-78.0" x2="-16.6" y2="-54.4" stroke="#c4c4d4" stroke-width="1.8"/>
<line x1="-18.0" y1="-80.0" x2="-16.3" y2="-56.9" stroke="#c4c4d4" stroke-width="1.8"/>
<line x1="-15.2" y1="-80.6" x2="-9.6" y2="-52.0" stroke="#c4c4d4" stroke-width="1.8"/>
<line x1="-12.4" y1="-81.1" x2="-8.2" y2="-56.3" stroke="#c4c4d4" stroke-width="1.8"/>
<line x1="-8.3" y1="-81.6" x2="-6.0" y2="-56.7" stroke="#c4c4d4" stroke-width="1.8"/>
<line x1="-5.5" y1="-81.8" x2="-3.9" y2="-54.9" stroke="#c4c4d4" stroke-width="1.8"/>
<line x1="-2.6" y1="-82.0" x2="-0.9" y2="-53.8" stroke="#c4c4d4" stroke-width="1.8"/>
<line x1="3.3" y1="-81.9" x2="0.3" y2="-59.8" stroke="#c4c4d4" stroke-width="1.8"/>
<line x1="6.2" y1="-81.8" x2="6.0" y2="-59.4" stroke="#c4c4d4" stroke-width="1.8"/>
<line x1="9.0" y1="-81.5" x2="7.0" y2="-56.3" stroke="#c4c4d4" stroke-width="1.8"/>
<line x1="12.9" y1="-81.0" x2="7.7" y2="-59.3" stroke="#c4c4d4" stroke-width="1.8"/>
<line x1="15.7" y1="-80.5" x2="10.0" y2="-54.4" stroke="#c4c4d4" stroke-width="1.8"/>
<line x1="18.5" y1="-79.9" x2="15.1" y2="-57.9" stroke="#c4c4d4" stroke-width="1.8"/>
<line x1="26.1" y1="-77.7" x2="15.8" y2="-52.0" stroke="#c4c4d4" stroke-width="1.8"/>
<line x1="28.8" y1="-76.8" x2="19.0" y2="-49.5" stroke="#c4c4d4" stroke-width="1.8"/>
<line x1="31.5" y1="-75.7" x2="22.1" y2="-51.0" stroke="#c4c4d4" stroke-width="1.8"/>
<line x1="35.7" y1="-73.8" x2="24.9" y2="-52.6" stroke="#c4c4d4" stroke-width="1.8"/>
<line x1="38.3" y1="-72.5" x2="24.4" y2="-46.0" stroke="#c4c4d4" stroke-width="1.8"/>
<line x1="40.8" y1="-71.1" x2="29.5" y2="-45.5" stroke="#c4c4d4" stroke-width="1.8"/>
<line x1="46.2" y1="-67.8" x2="30.7" y2="-49.5" stroke="#c4c4d4" stroke-width="1.8"/>
<line x1="48.5" y1="-66.1" x2="31.1" y2="-44.3" stroke="#c4c4d4" stroke-width="1.8"/>
<line x1="50.8" y1="-64.4" x2="37.9" y2="-46.4" stroke="#c4c4d4" stroke-width="1.8"/>
<line x1="54.8" y1="-61.0" x2="36.7" y2="-43.4" stroke="#c4c4d4" stroke-width="1.8"/>
<line x1="56.9" y1="-59.0" x2="39.9" y2="-40.9" stroke="#c4c4d4" stroke-width="1.8"/>
<line x1="58.9" y1="-57.0" x2="41.9" y2="-40.1" stroke="#c4c4d4" stroke-width="1.8"/>
<line x1="61.3" y1="-54.4" x2="41.9" y2="-40.3" stroke="#c4c4d4" stroke-width="1.8"/>
<line x1="63.2" y1="-52.3" x2="43.0" y2="-36.3" stroke="#c4c4d4" stroke-width="1.8"/>
<line x1="65.0" y1="-50.0" x2="44.1" y2="-31.9" stroke="#c4c4d4" stroke-width="1.8"/>
<line x1="68.3" y1="-45.4" x2="45.2" y2="-32.5" stroke="#c4c4d4" stroke-width="1.8"/>
<line x1="69.8" y1="-43.0" x2="49.5" y2="-30.1" stroke="#c4c4d4" stroke-width="1.8"/>
<line x1="71.3" y1="-40.5" x2="45.8" y2="-25.2" stroke="#c4c4d4" stroke-width="1.8"/>
<line x1="73.5" y1="-36.3" x2="49.8" y2="-24.8" stroke="#c4c4d4" stroke-width="1.8"/>
<line x1="74.8" y1="-33.7" x2="54.0" y2="-24.1" stroke="#c4c4d4" stroke-width="1.8"/>
<line x1="75.9" y1="-31.0" x2="49.1" y2="-17.5" stroke="#c4c4d4" stroke-width="1.8"/>
<line x1="77.8" y1="-26.0" x2="52.1" y2="-18.8" stroke="#c4c4d4" stroke-width="1.8"/>
<line x1="78.6" y1="-23.2" x2="55.4" y2="-15.9" stroke="#c4c4d4" stroke-width="1.8"/>
<line x1="79.4" y1="-20.5" x2="54.7" y2="-11.1" stroke="#c4c4d4" stroke-width="1.8"/>
<line x1="80.5" y1="-15.4" x2="53.7" y2="-12.2" stroke="#c4c4d4" stroke-width="1.8"/>
<line x1="81.0" y1="-12.6" x2="57.9" y2="-10.1" stroke="#c4c4d4" stroke-width="1.8"/>
<line x1="81.4" y1="-9.7" x2="54.2" y2="-3.9" stroke="#c4c4d4" stroke-width="1.8"/>
<line x1="78.3" y1="10.8" x2="93.8" y2="14.8" stroke="#1fa8d8" stroke-width="2.4"/>
<path d="M93.8,14.8 L101.2,19.8 L105.2,12.9 L101.6,17.0 Z" fill="#d4ec70" stroke="#b8de70" stroke-width="1.6" stroke-linejoin="round"/>
<line x1="54.7" y1="57.0" x2="64.4" y2="69.9" stroke="#1fa8d8" stroke-width="2.4"/>
<path d="M64.4,69.9 L67.1,78.3 L74.5,75.4 L69.1,76.3 Z" fill="#d4ec70" stroke="#b8de70" stroke-width="1.6" stroke-linejoin="round"/>
<line x1="24.5" y1="75.1" x2="27.7" y2="90.9" stroke="#1fa8d8" stroke-width="2.4"/>
<path d="M27.7,90.9 L26.4,99.7 L34.4,100.3 L29.1,98.8 Z" fill="#d4ec70" stroke="#b8de70" stroke-width="1.6" stroke-linejoin="round"/>
<line x1="-8.2" y1="78.6" x2="-11.8" y2="94.3" stroke="#1fa8d8" stroke-width="2.4"/>
<path d="M-11.8,94.3 L-16.5,101.8 L-9.5,105.6 L-13.7,102.1 Z" fill="#d4ec70" stroke="#b8de70" stroke-width="1.6" stroke-linejoin="round"/>
<line x1="-41.5" y1="67.2" x2="-51.5" y2="79.9" stroke="#1fa8d8" stroke-width="2.4"/>
<path d="M-51.5,79.9 L-59.0,84.6 L-54.3,91.1 L-56.5,86.1 Z" fill="#d4ec70" stroke="#b8de70" stroke-width="1.6" stroke-linejoin="round"/>
<line x1="-72.3" y1="31.9" x2="-87.7" y2="36.6" stroke="#1fa8d8" stroke-width="2.4"/>
<path d="M-87.7,36.6 L-96.5,36.2 L-96.3,44.2 L-95.4,38.9 Z" fill="#d4ec70" stroke="#b8de70" stroke-width="1.6" stroke-linejoin="round"/>
<line x1="-78.6" y1="-7.8" x2="-94.3" y2="-11.3" stroke="#1fa8d8" stroke-width="2.4"/>
<path d="M-94.3,-11.3 L-101.9,-16.0 L-105.6,-8.9 L-102.1,-13.1 Z" fill="#d4ec70" stroke="#b8de70" stroke-width="1.6" stroke-linejoin="round"/>
<line x1="-72.9" y1="-30.5" x2="-86.9" y2="-38.5" stroke="#1fa8d8" stroke-width="2.4"/>
<path d="M-86.9,-38.5 L-92.7,-45.2 L-98.4,-39.5 L-93.8,-42.5 Z" fill="#d4ec70" stroke="#b8de70" stroke-width="1.6" stroke-linejoin="round"/>
<line x1="-45.2" y1="-64.8" x2="-52.8" y2="-79.0" stroke="#1fa8d8" stroke-width="2.4"/>
<path d="M-52.8,-79.0 L-54.2,-87.7 L-62.0,-86.0 L-56.5,-86.1 Z" fill="#d4ec70" stroke="#b8de70" stroke-width="1.6" stroke-linejoin="round"/>
<line x1="-8.6" y1="-78.5" x2="-8.4" y2="-94.6" stroke="#1fa8d8" stroke-width="2.4"/>
<path d="M-8.4,-94.6 L-5.4,-103.0 L-13.1,-105.2 L-8.3,-102.6 Z" fill="#d4ec70" stroke="#b8de70" stroke-width="1.6" stroke-linejoin="round"/>
<line x1="28.0" y1="-73.9" x2="35.4" y2="-88.2" stroke="#1fa8d8" stroke-width="2.4"/>
<path d="M35.4,-88.2 L41.9,-94.2 L36.0,-99.7 L39.2,-95.2 Z" fill="#d4ec70" stroke="#b8de70" stroke-width="1.6" stroke-linejoin="round"/>
<line x1="56.9" y1="-54.8" x2="69.8" y2="-64.5" stroke="#1fa8d8" stroke-width="2.4"/>
<path d="M69.8,-64.5 L78.2,-67.2 L75.3,-74.6 L76.2,-69.2 Z" fill="#d4ec70" stroke="#b8de70" stroke-width="1.6" stroke-linejoin="round"/>
<line x1="74.9" y1="-25.3" x2="90.6" y2="-28.6" stroke="#1fa8d8" stroke-width="2.4"/>
<path d="M90.6,-28.6 L99.4,-27.4 L99.9,-35.4 L98.5,-30.1 Z" fill="#d4ec70" stroke="#b8de70" stroke-width="1.6" stroke-linejoin="round"/>
<line x1="85.9" y1="19.0" x2="58.1" y2="10.9" stroke="#00a6ea" stroke-width="4"/>
<line x1="71.9" y1="50.7" x2="55.4" y2="34.6" stroke="#00a6ea" stroke-width="4"/>
<line x1="60.8" y1="63.6" x2="44.1" y2="44.8" stroke="#00a6ea" stroke-width="4"/>
<line x1="32.7" y1="81.7" x2="20.9" y2="55.5" stroke="#00a6ea" stroke-width="4"/>
<line x1="-8.1" y1="87.6" x2="-1.7" y2="58.3" stroke="#00a6ea" stroke-width="4"/>
<line x1="-37.1" y1="79.8" x2="-21.9" y2="57.0" stroke="#00a6ea" stroke-width="4"/>
<line x1="-60.5" y1="63.9" x2="-40.7" y2="42.0" stroke="#00a6ea" stroke-width="4"/>
<line x1="-72.8" y1="49.5" x2="-54.9" y2="32.7" stroke="#00a6ea" stroke-width="4"/>
<line x1="-87.5" y1="9.0" x2="-58.7" y2="6.7" stroke="#00a6ea" stroke-width="4"/>
<line x1="-84.1" y1="-26.0" x2="-57.5" y2="-18.8" stroke="#00a6ea" stroke-width="4"/>
<line x1="-69.9" y1="-53.5" x2="-46.4" y2="-41.0" stroke="#00a6ea" stroke-width="4"/>
<line x1="-51.9" y1="-71.1" x2="-39.4" y2="-46.6" stroke="#00a6ea" stroke-width="4"/>
<line x1="-35.7" y1="-80.4" x2="-29.0" y2="-56.6" stroke="#00a6ea" stroke-width="4"/>
<line x1="8.5" y1="-87.6" x2="6.2" y2="-62.7" stroke="#00a6ea" stroke-width="4"/>
<line x1="27.3" y1="-83.7" x2="20.8" y2="-61.9" stroke="#00a6ea" stroke-width="4"/>
<line x1="60.2" y1="-64.1" x2="41.3" y2="-47.5" stroke="#00a6ea" stroke-width="4"/>
<line x1="80.9" y1="-34.5" x2="56.4" y2="-26.7" stroke="#00a6ea" stroke-width="4"/>
<line x1="87.5" y1="-9.2" x2="63.7" y2="-6.5" stroke="#00a6ea" stroke-width="4"/>
<ellipse cx="86.0" cy="0.4" rx="5.4" ry="4.6" transform="rotate(90.3 86.0 0.4)" fill="#b0adb8"/>
<ellipse cx="85.1" cy="12.5" rx="5.4" ry="4.6" transform="rotate(98.4 85.1 12.5)" fill="#b0adb8"/>
<ellipse cx="82.5" cy="24.2" rx="5.4" ry="4.6" transform="rotate(106.3 82.5 24.2)" fill="#b0adb8"/>
<ellipse cx="78.3" cy="35.7" rx="5.4" ry="4.6" transform="rotate(114.5 78.3 35.7)" fill="#b0adb8"/>
<ellipse cx="73.0" cy="45.4" rx="5.4" ry="4.6" transform="rotate(121.9 73.0 45.4)" fill="#b0adb8"/>
<ellipse cx="65.8" cy="55.4" rx="5.4" ry="4.6" transform="rotate(130.1 65.8 55.4)" fill="#b0adb8"/>
<ellipse cx="59.9" cy="61.7" rx="5.4" ry="4.6" transform="rotate(135.9 59.9 61.7)" fill="#b0adb8"/>
<ellipse cx="49.7" cy="70.2" rx="5.4" ry="4.6" transform="rotate(144.7 49.7 70.2)" fill="#b0adb8"/>
<ellipse cx="38.2" cy="77.0" rx="5.4" ry="4.6" transform="rotate(153.6 38.2 77.0)" fill="#b0adb8"/>
<ellipse cx="28.3" cy="81.2" rx="5.4" ry="4.6" transform="rotate(160.8 28.3 81.2)" fill="#b0adb8"/>
<ellipse cx="16.1" cy="84.5" rx="5.4" ry="4.6" transform="rotate(169.2 16.1 84.5)" fill="#b0adb8"/>
<ellipse cx="7.2" cy="85.7" rx="5.4" ry="4.6" transform="rotate(175.2 7.2 85.7)" fill="#b0adb8"/>
<ellipse cx="-5.8" cy="85.8" rx="5.4" ry="4.6" transform="rotate(183.8 -5.8 85.8)" fill="#b0adb8"/>
<ellipse cx="-16.6" cy="84.4" rx="5.4" ry="4.6" transform="rotate(191.2 -16.6 84.4)" fill="#b0adb8"/>
<ellipse cx="-28.9" cy="81.0" rx="5.4" ry="4.6" transform="rotate(199.7 -28.9 81.0)" fill="#b0adb8"/>
<ellipse cx="-39.8" cy="76.2" rx="5.4" ry="4.6" transform="rotate(207.6 -39.8 76.2)" fill="#b0adb8"/>
<ellipse cx="-48.2" cy="71.2" rx="5.4" ry="4.6" transform="rotate(214.1 -48.2 71.2)" fill="#b0adb8"/>
<ellipse cx="-58.0" cy="63.5" rx="5.4" ry="4.6" transform="rotate(222.4 -58.0 63.5)" fill="#b0adb8"/>
<ellipse cx="-66.2" cy="54.9" rx="5.4" ry="4.6" transform="rotate(230.4 -66.2 54.9)" fill="#b0adb8"/>
<ellipse cx="-74.2" cy="43.5" rx="5.4" ry="4.6" transform="rotate(239.6 -74.2 43.5)" fill="#b0adb8"/>
<ellipse cx="-79.2" cy="33.4" rx="5.4" ry="4.6" transform="rotate(247.1 -79.2 33.4)" fill="#b0adb8"/>
<ellipse cx="-82.5" cy="24.3" rx="5.4" ry="4.6" transform="rotate(253.6 -82.5 24.3)" fill="#b0adb8"/>
<ellipse cx="-85.3" cy="10.7" rx="5.4" ry="4.6" transform="rotate(262.9 -85.3 10.7)" fill="#b0adb8"/>
<ellipse cx="-86.0" cy="1.2" rx="5.4" ry="4.6" transform="rotate(269.2 -86.0 1.2)" fill="#b0adb8"/>
<ellipse cx="-85.1" cy="-12.1" rx="5.4" ry="4.6" transform="rotate(278.1 -85.1 -12.1)" fill="#b0adb8"/>
<ellipse cx="-83.1" cy="-22.0" rx="5.4" ry="4.6" transform="rotate(284.8 -83.1 -22.0)" fill="#b0adb8"/>
<ellipse cx="-79.5" cy="-32.7" rx="5.4" ry="4.6" transform="rotate(292.3 -79.5 -32.7)" fill="#b0adb8"/>
<ellipse cx="-72.8" cy="-45.8" rx="5.4" ry="4.6" transform="rotate(302.2 -72.8 -45.8)" fill="#b0adb8"/>
<ellipse cx="-67.3" cy="-53.5" rx="5.4" ry="4.6" transform="rotate(308.5 -67.3 -53.5)" fill="#b0adb8"/>
<ellipse cx="-59.4" cy="-62.2" rx="5.4" ry="4.6" transform="rotate(316.3 -59.4 -62.2)" fill="#b0adb8"/>
<ellipse cx="-48.2" cy="-71.2" rx="5.4" ry="4.6" transform="rotate(325.9 -48.2 -71.2)" fill="#b0adb8"/>
<ellipse cx="-38.4" cy="-76.9" rx="5.4" ry="4.6" transform="rotate(333.5 -38.4 -76.9)" fill="#b0adb8"/>
<ellipse cx="-29.5" cy="-80.8" rx="5.4" ry="4.6" transform="rotate(340.0 -29.5 -80.8)" fill="#b0adb8"/>
<ellipse cx="-15.9" cy="-84.5" rx="5.4" ry="4.6" transform="rotate(349.3 -15.9 -84.5)" fill="#b0adb8"/>
<ellipse cx="-5.7" cy="-85.8" rx="5.4" ry="4.6" transform="rotate(356.2 -5.7 -85.8)" fill="#b0adb8"/>
<ellipse cx="6.5" cy="-85.8" rx="5.4" ry="4.6" transform="rotate(364.3 6.5 -85.8)" fill="#b0adb8"/>
<ellipse cx="16.5" cy="-84.4" rx="5.4" ry="4.6" transform="rotate(371.1 16.5 -84.4)" fill="#b0adb8"/>
<ellipse cx="30.2" cy="-80.5" rx="5.4" ry="4.6" transform="rotate(380.6 30.2 -80.5)" fill="#b0adb8"/>
<ellipse cx="40.1" cy="-76.1" rx="5.4" ry="4.6" transform="rotate(387.8 40.1 -76.1)" fill="#b0adb8"/>
<ellipse cx="50.9" cy="-69.3" rx="5.4" ry="4.6" transform="rotate(396.3 50.9 -69.3)" fill="#b0adb8"/>
<ellipse cx="59.7" cy="-61.9" rx="5.4" ry="4.6" transform="rotate(403.9 59.7 -61.9)" fill="#b0adb8"/>
<ellipse cx="66.3" cy="-54.8" rx="5.4" ry="4.6" transform="rotate(410.4 66.3 -54.8)" fill="#b0adb8"/>
<ellipse cx="73.2" cy="-45.1" rx="5.4" ry="4.6" transform="rotate(418.4 73.2 -45.1)" fill="#b0adb8"/>
<ellipse cx="78.4" cy="-35.3" rx="5.4" ry="4.6" transform="rotate(425.8 78.4 -35.3)" fill="#b0adb8"/>
<ellipse cx="82.5" cy="-24.4" rx="5.4" ry="4.6" transform="rotate(433.5 82.5 -24.4)" fill="#b0adb8"/>
<ellipse cx="85.0" cy="-13.2" rx="5.4" ry="4.6" transform="rotate(441.2 85.0 -13.2)" fill="#b0adb8"/>
<ellipse cx="63.4" cy="-4.3" rx="6.4" ry="5.8" fill="#c5d9f1" stroke="#5b79c4" stroke-width="1.4"/>
<ellipse cx="69.0" cy="16.8" rx="6.4" ry="5.8" fill="#c5d9f1" stroke="#5b79c4" stroke-width="1.4"/>
<ellipse cx="63.2" cy="31.7" rx="6.4" ry="5.8" fill="#c5d9f1" stroke="#5b79c4" stroke-width="1.4"/>
<ellipse cx="42.1" cy="44.5" rx="6.4" ry="5.8" fill="#c5d9f1" stroke="#5b79c4" stroke-width="1.4"/>
<ellipse cx="29.0" cy="54.1" rx="6.4" ry="5.8" fill="#c5d9f1" stroke="#5b79c4" stroke-width="1.4"/>
<ellipse cx="22.4" cy="65.2" rx="6.4" ry="5.8" fill="#c5d9f1" stroke="#5b79c4" stroke-width="1.4"/>
<ellipse cx="3.5" cy="73.1" rx="6.4" ry="5.8" fill="#c5d9f1" stroke="#5b79c4" stroke-width="1.4"/>
<ellipse cx="-16.6" cy="62.7" rx="6.4" ry="5.8" fill="#c5d9f1" stroke="#5b79c4" stroke-width="1.4"/>
<ellipse cx="-33.0" cy="50.6" rx="6.4" ry="5.8" fill="#c5d9f1" stroke="#5b79c4" stroke-width="1.4"/>
<ellipse cx="-44.7" cy="41.2" rx="6.4" ry="5.8" fill="#c5d9f1" stroke="#5b79c4" stroke-width="1.4"/>
<ellipse cx="-61.8" cy="41.2" rx="6.4" ry="5.8" fill="#c5d9f1" stroke="#5b79c4" stroke-width="1.4"/>
<ellipse cx="-61.7" cy="14.4" rx="6.4" ry="5.8" fill="#c5d9f1" stroke="#5b79c4" stroke-width="1.4"/>
<ellipse cx="-74.4" cy="5.2" rx="6.4" ry="5.8" fill="#c5d9f1" stroke="#5b79c4" stroke-width="1.4"/>
<ellipse cx="-69.2" cy="-20.8" rx="6.4" ry="5.8" fill="#c5d9f1" stroke="#5b79c4" stroke-width="1.4"/>
<ellipse cx="-62.2" cy="-30.6" rx="6.4" ry="5.8" fill="#c5d9f1" stroke="#5b79c4" stroke-width="1.4"/>
<ellipse cx="-46.1" cy="-43.7" rx="6.4" ry="5.8" fill="#c5d9f1" stroke="#5b79c4" stroke-width="1.4"/>
<ellipse cx="-36.4" cy="-58.8" rx="6.4" ry="5.8" fill="#c5d9f1" stroke="#5b79c4" stroke-width="1.4"/>
<ellipse cx="-18.8" cy="-63.0" rx="6.4" ry="5.8" fill="#c5d9f1" stroke="#5b79c4" stroke-width="1.4"/>
<ellipse cx="-4.8" cy="-72.3" rx="6.4" ry="5.8" fill="#c5d9f1" stroke="#5b79c4" stroke-width="1.4"/>
<ellipse cx="20.5" cy="-69.1" rx="6.4" ry="5.8" fill="#c5d9f1" stroke="#5b79c4" stroke-width="1.4"/>
<ellipse cx="35.6" cy="-63.5" rx="6.4" ry="5.8" fill="#c5d9f1" stroke="#5b79c4" stroke-width="1.4"/>
<ellipse cx="48.9" cy="-48.6" rx="6.4" ry="5.8" fill="#c5d9f1" stroke="#5b79c4" stroke-width="1.4"/>
<ellipse cx="62.0" cy="-34.7" rx="6.4" ry="5.8" fill="#c5d9f1" stroke="#5b79c4" stroke-width="1.4"/>
<ellipse cx="59.0" cy="-17.0" rx="6.4" ry="5.8" fill="#c5d9f1" stroke="#5b79c4" stroke-width="1.4"/>
<circle cx="78.3" cy="10.8" r="4.6" fill="#ffff00" stroke="#a0b040" stroke-width="0.6"/>
<circle cx="54.7" cy="57.0" r="4.6" fill="#ffff00" stroke="#a0b040" stroke-width="0.6"/>
<circle cx="24.5" cy="75.1" r="4.6" fill="#ffff00" stroke="#a0b040" stroke-width="0.6"/>
<circle cx="-8.2" cy="78.6" r="4.6" fill="#ffff00" stroke="#a0b040" stroke-width="0.6"/>
<circle cx="-41.5" cy="67.2" r="4.6" fill="#ffff00" stroke="#a0b040" stroke-width="0.6"/>
<circle cx="-72.3" cy="31.9" r="4.6" fill="#ffff00" stroke="#a0b040" stroke-width="0.6"/>
<circle cx="-78.6" cy="-7.8" r="4.6" fill="#ffff00" stroke="#a0b040" stroke-width="0.6"/>
<circle cx="-72.9" cy="-30.5" r="4.6" fill="#ffff00" stroke="#a0b040" stroke-width="0.6"/>
<circle cx="-45.2" cy="-64.8" r="4.6" fill="#ffff00" stroke="#a0b040" stroke-width="0.6"/>
<circle cx="-8.6" cy="-78.5" r="4.6" fill="#ffff00" stroke="#a0b040" stroke-width="0.6"/>
<circle cx="28.0" cy="-73.9" r="4.6" fill="#ffff00" stroke="#a0b040" stroke-width="0.6"/>
<circle cx="56.9" cy="-54.8" r="4.6" fill="#ffff00" stroke="#a0b040" stroke-width="0.6"/>
<circle cx="74.9" cy="-25.3" r="4.6" fill="#ffff00" stroke="#a0b040" stroke-width="0.6"/>
<ellipse cx="86.9" cy="19.2" rx="6.5" ry="4.6" transform="rotate(102.5 86.9 19.2)" fill="#00b0f0"/>
<ellipse cx="72.7" cy="51.3" rx="6.5" ry="4.6" transform="rotate(125.2 72.7 51.3)" fill="#00b0f0"/>
<ellipse cx="61.5" cy="64.3" rx="6.5" ry="4.6" transform="rotate(136.3 61.5 64.3)" fill="#00b0f0"/>
<ellipse cx="33.0" cy="82.6" rx="6.5" ry="4.6" transform="rotate(158.2 33.0 82.6)" fill="#00b0f0"/>
<ellipse cx="-8.2" cy="88.6" rx="6.5" ry="4.6" transform="rotate(185.3 -8.2 88.6)" fill="#00b0f0"/>
<ellipse cx="-37.6" cy="80.7" rx="6.5" ry="4.6" transform="rotate(205.0 -37.6 80.7)" fill="#00b0f0"/>
<ellipse cx="-61.2" cy="64.6" rx="6.5" ry="4.6" transform="rotate(223.4 -61.2 64.6)" fill="#00b0f0"/>
<ellipse cx="-73.6" cy="50.1" rx="6.5" ry="4.6" transform="rotate(235.8 -73.6 50.1)" fill="#00b0f0"/>
<ellipse cx="-88.5" cy="9.1" rx="6.5" ry="4.6" transform="rotate(264.1 -88.5 9.1)" fill="#00b0f0"/>
<ellipse cx="-85.0" cy="-26.3" rx="6.5" ry="4.6" transform="rotate(287.2 -85.0 -26.3)" fill="#00b0f0"/>
<ellipse cx="-70.7" cy="-54.1" rx="6.5" ry="4.6" transform="rotate(307.4 -70.7 -54.1)" fill="#00b0f0"/>
<ellipse cx="-52.5" cy="-71.9" rx="6.5" ry="4.6" transform="rotate(323.9 -52.5 -71.9)" fill="#00b0f0"/>
<ellipse cx="-36.1" cy="-81.3" rx="6.5" ry="4.6" transform="rotate(336.0 -36.1 -81.3)" fill="#00b0f0"/>
<ellipse cx="8.6" cy="-88.6" rx="6.5" ry="4.6" transform="rotate(365.6 8.6 -88.6)" fill="#00b0f0"/>
<ellipse cx="27.6" cy="-84.6" rx="6.5" ry="4.6" transform="rotate(378.1 27.6 -84.6)" fill="#00b0f0"/>
<ellipse cx="60.9" cy="-64.9" rx="6.5" ry="4.6" transform="rotate(403.2 60.9 -64.9)" fill="#00b0f0"/>
<ellipse cx="81.9" cy="-34.9" rx="6.5" ry="4.6" transform="rotate(426.9 81.9 -34.9)" fill="#00b0f0"/>
<ellipse cx="88.5" cy="-9.3" rx="6.5" ry="4.6" transform="rotate(444.0 88.5 -9.3)" fill="#00b0f0"/>
<ellipse cx="-14.4" cy="-54.5" rx="5" ry="4" fill="#a9a6aa"/>
<ellipse cx="19.0" cy="-54.5" rx="5" ry="4" fill="#a9a6aa"/>
<ellipse cx="26.2" cy="-51.4" rx="5" ry="4" fill="#a9a6aa"/>
<ellipse cx="-45.1" cy="-35.7" rx="5" ry="4" fill="#a9a6aa"/>
<ellipse cx="-39.8" cy="-41.5" rx="5" ry="4" fill="#a9a6aa"/>
<ellipse cx="43.8" cy="-33.2" rx="5" ry="4" fill="#a9a6aa"/>
<ellipse cx="48.1" cy="-26.6" rx="5" ry="4" fill="#a9a6aa"/>
<ellipse cx="-56.0" cy="1.7" rx="5" ry="4" fill="#a9a6aa"/>
<ellipse cx="-55.7" cy="-6.2" rx="5" ry="4" fill="#a9a6aa"/>
<ellipse cx="55.0" cy="0.5" rx="5" ry="4" fill="#a9a6aa"/>
<ellipse cx="54.4" cy="8.3" rx="5" ry="4" fill="#a9a6aa"/>
<ellipse cx="-35.2" cy="31.2" rx="5" ry="4" fill="#a9a6aa"/>
<ellipse cx="34.8" cy="26.5" rx="5" ry="4" fill="#a9a6aa"/>
<ellipse cx="29.5" cy="32.3" rx="5" ry="4" fill="#a9a6aa"/>
<ellipse cx="3.4" cy="45.1" rx="5" ry="4" fill="#a9a6aa"/>
<ellipse cx="-4.5" cy="45.0" rx="5" ry="4" fill="#a9a6aa"/>
<circle cx="-9.8" cy="-51.5" r="12.5" fill="none" stroke="#f7941d" stroke-width="4.8"/>
<circle cx="21.1" cy="-49.4" r="12.5" fill="none" stroke="#f7941d" stroke-width="4.8"/>
<circle cx="-39.6" cy="-36.0" r="12.5" fill="none" stroke="#f7941d" stroke-width="4.8"/>
<circle cx="-1.6" cy="-25.7" r="12.5" fill="none" stroke="#f7941d" stroke-width="4.8"/>
<circle cx="42.7" cy="-27.8" r="12.5" fill="none" stroke="#f7941d" stroke-width="4.8"/>
<circle cx="-25.2" cy="-10.3" r="12.5" fill="none" stroke="#f7941d" stroke-width="4.8"/>
<circle cx="22.1" cy="-4.1" r="12.5" fill="none" stroke="#f7941d" stroke-width="4.8"/>
<circle cx="-52.0" cy="-2.1" r="12.5" fill="none" stroke="#f7941d" stroke-width="4.8"/>
<circle cx="50.9" cy="4.1" r="12.5" fill="none" stroke="#f7941d" stroke-width="4.8"/>
<circle cx="-4.6" cy="11.3" r="12.5" fill="none" stroke="#f7941d" stroke-width="4.8"/>
<circle cx="-34.5" cy="25.7" r="12.5" fill="none" stroke="#f7941d" stroke-width="4.8"/>
<circle cx="29.3" cy="26.8" r="12.5" fill="none" stroke="#f7941d" stroke-width="4.8"/>
<circle cx="-0.5" cy="41.2" r="12.5" fill="none" stroke="#f7941d" stroke-width="4.8"/>
</g>
<g transform="translate(518.5,421) scale(0.385)">
<line x1="82.0" y1="-1.9" x2="56.7" y2="-3.6" stroke="#c4c4d4" stroke-width="1.8"/>
<line x1="82.0" y1="1.0" x2="56.7" y2="-0.7" stroke="#c4c4d4" stroke-width="1.8"/>
<line x1="81.9" y1="3.8" x2="58.9" y2="4.5" stroke="#c4c4d4" stroke-width="1.8"/>
<line x1="81.5" y1="9.4" x2="52.7" y2="5.1" stroke="#c4c4d4" stroke-width="1.8"/>
<line x1="81.1" y1="12.2" x2="54.0" y2="7.1" stroke="#c4c4d4" stroke-width="1.8"/>
<line x1="80.6" y1="15.0" x2="54.9" y2="10.6" stroke="#c4c4d4" stroke-width="1.8"/>
<line x1="79.7" y1="19.3" x2="52.2" y2="12.3" stroke="#c4c4d4" stroke-width="1.8"/>
<line x1="79.0" y1="22.1" x2="55.9" y2="13.9" stroke="#c4c4d4" stroke-width="1.8"/>
<line x1="78.2" y1="24.8" x2="55.5" y2="17.6" stroke="#c4c4d4" stroke-width="1.8"/>
<line x1="76.6" y1="29.3" x2="51.1" y2="19.3" stroke="#c4c4d4" stroke-width="1.8"/>
<line x1="75.5" y1="32.0" x2="52.7" y2="21.6" stroke="#c4c4d4" stroke-width="1.8"/>
<line x1="74.4" y1="34.6" x2="49.4" y2="24.3" stroke="#c4c4d4" stroke-width="1.8"/>
<line x1="72.3" y1="38.7" x2="46.7" y2="25.1" stroke="#c4c4d4" stroke-width="1.8"/>
<line x1="70.9" y1="41.2" x2="45.5" y2="26.1" stroke="#c4c4d4" stroke-width="1.8"/>
<line x1="69.4" y1="43.7" x2="48.4" y2="31.9" stroke="#c4c4d4" stroke-width="1.8"/>
<line x1="65.1" y1="49.9" x2="49.0" y2="34.3" stroke="#c4c4d4" stroke-width="1.8"/>
<line x1="63.3" y1="52.2" x2="45.3" y2="39.1" stroke="#c4c4d4" stroke-width="1.8"/>
<line x1="61.4" y1="54.3" x2="40.9" y2="40.2" stroke="#c4c4d4" stroke-width="1.8"/>
<line x1="58.1" y1="57.9" x2="39.7" y2="38.9" stroke="#c4c4d4" stroke-width="1.8"/>
<line x1="56.0" y1="59.9" x2="39.8" y2="42.7" stroke="#c4c4d4" stroke-width="1.8"/>
<line x1="53.9" y1="61.8" x2="34.9" y2="43.5" stroke="#c4c4d4" stroke-width="1.8"/>
<line x1="48.9" y1="65.8" x2="35.3" y2="42.6" stroke="#c4c4d4" stroke-width="1.8"/>
<line x1="46.6" y1="67.5" x2="33.6" y2="47.2" stroke="#c4c4d4" stroke-width="1.8"/>
<line x1="44.2" y1="69.1" x2="28.0" y2="48.4" stroke="#c4c4d4" stroke-width="1.8"/>
<line x1="40.6" y1="71.2" x2="29.0" y2="44.8" stroke="#c4c4d4" stroke-width="1.8"/>
<line x1="38.1" y1="72.6" x2="24.4" y2="47.1" stroke="#c4c4d4" stroke-width="1.8"/>
<line x1="35.5" y1="73.9" x2="23.1" y2="49.8" stroke="#c4c4d4" stroke-width="1.8"/>
<line x1="29.3" y1="76.6" x2="20.0" y2="51.9" stroke="#c4c4d4" stroke-width="1.8"/>
<line x1="26.6" y1="77.6" x2="17.8" y2="51.0" stroke="#c4c4d4" stroke-width="1.8"/>
<line x1="23.9" y1="78.4" x2="15.2" y2="57.0" stroke="#c4c4d4" stroke-width="1.8"/>
<line x1="20.2" y1="79.5" x2="14.9" y2="52.1" stroke="#c4c4d4" stroke-width="1.8"/>
<line x1="17.4" y1="80.1" x2="13.0" y2="54.3" stroke="#c4c4d4" stroke-width="1.8"/>
<line x1="14.6" y1="80.7" x2="8.9" y2="54.3" stroke="#c4c4d4" stroke-width="1.8"/>
<line x1="7.5" y1="81.7" x2="7.6" y2="57.9" stroke="#c4c4d4" stroke-width="1.8"/>
<line x1="4.6" y1="81.9" x2="1.6" y2="57.3" stroke="#c4c4d4" stroke-width="1.8"/>
<line x1="1.7" y1="82.0" x2="0.0" y2="59.4" stroke="#c4c4d4" stroke-width="1.8"/>
<line x1="-3.5" y1="81.9" x2="-0.2" y2="56.8" stroke="#c4c4d4" stroke-width="1.8"/>
<line x1="-6.3" y1="81.8" x2="-4.2" y2="55.0" stroke="#c4c4d4" stroke-width="1.8"/>
<line x1="-9.2" y1="81.5" x2="-9.7" y2="57.5" stroke="#c4c4d4" stroke-width="1.8"/>
<line x1="-13.6" y1="80.9" x2="-5.9" y2="54.0" stroke="#c4c4d4" stroke-width="1.8"/>
<line x1="-16.4" y1="80.3" x2="-9.7" y2="54.7" stroke="#c4c4d4" stroke-width="1.8"/>
<line x1="-19.2" y1="79.7" x2="-14.5" y2="50.2" stroke="#c4c4d4" stroke-width="1.8"/>
<line x1="-24.9" y1="78.1" x2="-15.3" y2="50.6" stroke="#c4c4d4" stroke-width="1.8"/>
<line x1="-27.6" y1="77.2" x2="-19.8" y2="51.2" stroke="#c4c4d4" stroke-width="1.8"/>
<line x1="-30.3" y1="76.2" x2="-21.8" y2="54.6" stroke="#c4c4d4" stroke-width="1.8"/>
<line x1="-35.7" y1="73.8" x2="-23.2" y2="48.2" stroke="#c4c4d4" stroke-width="1.8"/>
<line x1="-38.3" y1="72.5" x2="-26.3" y2="50.5" stroke="#c4c4d4" stroke-width="1.8"/>
<line x1="-40.8" y1="71.1" x2="-31.3" y2="49.1" stroke="#c4c4d4" stroke-width="1.8"/>
<line x1="-44.1" y1="69.2" x2="-28.6" y2="48.0" stroke="#c4c4d4" stroke-width="1.8"/>
<line x1="-46.5" y1="67.6" x2="-29.6" y2="43.8" stroke="#c4c4d4" stroke-width="1.8"/>
<line x1="-48.8" y1="65.9" x2="-33.1" y2="41.6" stroke="#c4c4d4" stroke-width="1.8"/>
<line x1="-54.0" y1="61.7" x2="-35.3" y2="44.6" stroke="#c4c4d4" stroke-width="1.8"/>
<line x1="-56.1" y1="59.8" x2="-38.0" y2="42.5" stroke="#c4c4d4" stroke-width="1.8"/>
<line x1="-58.2" y1="57.8" x2="-38.8" y2="35.9" stroke="#c4c4d4" stroke-width="1.8"/>
<line x1="-62.4" y1="53.2" x2="-42.3" y2="36.3" stroke="#c4c4d4" stroke-width="1.8"/>
<line x1="-64.2" y1="51.0" x2="-45.1" y2="34.9" stroke="#c4c4d4" stroke-width="1.8"/>
<line x1="-66.0" y1="48.7" x2="-44.1" y2="29.4" stroke="#c4c4d4" stroke-width="1.8"/>
<line x1="-68.1" y1="45.7" x2="-43.1" y2="30.2" stroke="#c4c4d4" stroke-width="1.8"/>
<line x1="-69.7" y1="43.3" x2="-51.1" y2="30.0" stroke="#c4c4d4" stroke-width="1.8"/>
<line x1="-71.1" y1="40.8" x2="-52.0" y2="28.1" stroke="#c4c4d4" stroke-width="1.8"/>
<line x1="-74.4" y1="34.4" x2="-52.0" y2="24.7" stroke="#c4c4d4" stroke-width="1.8"/>
<line x1="-75.6" y1="31.8" x2="-49.5" y2="19.3" stroke="#c4c4d4" stroke-width="1.8"/>
<line x1="-76.7" y1="29.1" x2="-55.9" y2="19.7" stroke="#c4c4d4" stroke-width="1.8"/>
<line x1="-78.3" y1="24.3" x2="-55.0" y2="19.0" stroke="#c4c4d4" stroke-width="1.8"/>
<line x1="-79.1" y1="21.5" x2="-52.5" y2="13.6" stroke="#c4c4d4" stroke-width="1.8"/>
<line x1="-79.8" y1="18.8" x2="-51.6" y2="9.6" stroke="#c4c4d4" stroke-width="1.8"/>
<line x1="-81.0" y1="12.9" x2="-58.6" y2="11.8" stroke="#c4c4d4" stroke-width="1.8"/>
<line x1="-81.4" y1="10.0" x2="-58.9" y2="8.8" stroke="#c4c4d4" stroke-width="1.8"/>
<line x1="-81.7" y1="7.2" x2="-58.7" y2="4.3" stroke="#c4c4d4" stroke-width="1.8"/>
<line x1="-81.9" y1="3.4" x2="-59.6" y2="4.4" stroke="#c4c4d4" stroke-width="1.8"/>
<line x1="-82.0" y1="0.5" x2="-59.3" y2="2.1" stroke="#c4c4d4" stroke-width="1.8"/>
<line x1="-82.0" y1="-2.3" x2="-52.5" y2="-4.0" stroke="#c4c4d4" stroke-width="1.8"/>
<line x1="-81.7" y1="-7.0" x2="-57.0" y2="-3.4" stroke="#c4c4d4" stroke-width="1.8"/>
<line x1="-81.4" y1="-9.8" x2="-52.0" y2="-5.3" stroke="#c4c4d4" stroke-width="1.8"/>
<line x1="-81.0" y1="-12.7" x2="-54.3" y2="-8.6" stroke="#c4c4d4" stroke-width="1.8"/>
<line x1="-79.4" y1="-20.3" x2="-58.3" y2="-14.1" stroke="#c4c4d4" stroke-width="1.8"/>
<line x1="-78.7" y1="-23.1" x2="-57.0" y2="-17.5" stroke="#c4c4d4" stroke-width="1.8"/>
<line x1="-77.8" y1="-25.8" x2="-51.9" y2="-17.4" stroke="#c4c4d4" stroke-width="1.8"/>
<line x1="-75.9" y1="-30.9" x2="-54.6" y2="-19.1" stroke="#c4c4d4" stroke-width="1.8"/>
<line x1="-74.8" y1="-33.6" x2="-51.5" y2="-23.0" stroke="#c4c4d4" stroke-width="1.8"/>
<line x1="-73.6" y1="-36.2" x2="-50.2" y2="-24.8" stroke="#c4c4d4" stroke-width="1.8"/>
<line x1="-71.6" y1="-40.0" x2="-46.6" y2="-24.4" stroke="#c4c4d4" stroke-width="1.8"/>
<line x1="-70.2" y1="-42.5" x2="-44.7" y2="-27.1" stroke="#c4c4d4" stroke-width="1.8"/>
<line x1="-68.6" y1="-44.9" x2="-44.1" y2="-29.8" stroke="#c4c4d4" stroke-width="1.8"/>
<line x1="-66.2" y1="-48.4" x2="-43.7" y2="-30.4" stroke="#c4c4d4" stroke-width="1.8"/>
<line x1="-64.4" y1="-50.7" x2="-43.9" y2="-33.4" stroke="#c4c4d4" stroke-width="1.8"/>
<line x1="-62.6" y1="-52.9" x2="-39.9" y2="-36.0" stroke="#c4c4d4" stroke-width="1.8"/>
<line x1="-58.7" y1="-57.2" x2="-43.8" y2="-40.0" stroke="#c4c4d4" stroke-width="1.8"/>
<line x1="-56.7" y1="-59.2" x2="-37.3" y2="-38.1" stroke="#c4c4d4" stroke-width="1.8"/>
<line x1="-54.6" y1="-61.2" x2="-34.6" y2="-41.4" stroke="#c4c4d4" stroke-width="1.8"/>
<line x1="-49.2" y1="-65.6" x2="-36.1" y2="-45.8" stroke="#c4c4d4" stroke-width="1.8"/>
<line x1="-46.9" y1="-67.2" x2="-31.1" y2="-43.6" stroke="#c4c4d4" stroke-width="1.8"/>
<line x1="-44.5" y1="-68.8" x2="-28.8" y2="-46.9" stroke="#c4c4d4" stroke-width="1.8"/>
<line x1="-40.8" y1="-71.1" x2="-27.4" y2="-47.9" stroke="#c4c4d4" stroke-width="1.8"/>
<line x1="-38.3" y1="-72.5" x2="-25.9" y2="-50.1" stroke="#c4c4d4" stroke-width="1.8"/>
<line x1="-35.8" y1="-73.8" x2="-23.3" y2="-52.8" stroke="#c4c4d4" stroke-width="1.8"/>
<line x1="-28.8" y1="-76.8" x2="-22.4" y2="-54.0" stroke="#c4c4d4" stroke-width="1.8"/>
<line x1="-26.1" y1="-77.7" x2="-16.7" y2="-54.9" stroke="#c4c4d4" stroke-width="1.8"/>
<line x1="-23.3" y1="-78.6" x2="-13.3" y2="-51.6" stroke="#c4c4d4" stroke-width="1.8"/>
<line x1="-19.2" y1="-79.7" x2="-15.8" y2="-52.8" stroke="#c4c4d4" stroke-width="1.8"/>
<line x1="-16.4" y1="-80.3" x2="-9.7" y2="-51.4" stroke="#c4c4d4" stroke-width="1.8"/>
<line x1="-13.6" y1="-80.9" x2="-6.6" y2="-52.5" stroke="#c4c4d4" stroke-width="1.8"/>
<line x1="-9.4" y1="-81.5" x2="-8.0" y2="-52.2" stroke="#c4c4d4" stroke-width="1.8"/>
<line x1="-6.6" y1="-81.7" x2="-4.1" y2="-52.1" stroke="#c4c4d4" stroke-width="1.8"/>
<line x1="-3.7" y1="-81.9" x2="-2.0" y2="-58.3" stroke="#c4c4d4" stroke-width="1.8"/>
<line x1="3.2" y1="-81.9" x2="2.1" y2="-56.5" stroke="#c4c4d4" stroke-width="1.8"/>
<line x1="6.1" y1="-81.8" x2="4.0" y2="-54.2" stroke="#c4c4d4" stroke-width="1.8"/>
<line x1="9.0" y1="-81.5" x2="9.2" y2="-57.1" stroke="#c4c4d4" stroke-width="1.8"/>
<line x1="13.4" y1="-80.9" x2="7.8" y2="-52.8" stroke="#c4c4d4" stroke-width="1.8"/>
<line x1="16.2" y1="-80.4" x2="9.3" y2="-52.1" stroke="#c4c4d4" stroke-width="1.8"/>
<line x1="19.0" y1="-79.8" x2="14.0" y2="-58.2" stroke="#c4c4d4" stroke-width="1.8"/>
<line x1="26.1" y1="-77.7" x2="18.2" y2="-56.5" stroke="#c4c4d4" stroke-width="1.8"/>
<line x1="28.8" y1="-76.8" x2="20.9" y2="-53.5" stroke="#c4c4d4" stroke-width="1.8"/>
<line x1="31.5" y1="-75.7" x2="22.8" y2="-52.5" stroke="#c4c4d4" stroke-width="1.8"/>
<line x1="36.4" y1="-73.5" x2="22.3" y2="-50.9" stroke="#c4c4d4" stroke-width="1.8"/>
<line x1="38.9" y1="-72.2" x2="28.8" y2="-51.3" stroke="#c4c4d4" stroke-width="1.8"/>
<line x1="41.4" y1="-70.8" x2="30.0" y2="-50.0" stroke="#c4c4d4" stroke-width="1.8"/>
<line x1="45.0" y1="-68.6" x2="29.1" y2="-48.7" stroke="#c4c4d4" stroke-width="1.8"/>
<line x1="47.3" y1="-67.0" x2="34.4" y2="-47.1" stroke="#c4c4d4" stroke-width="1.8"/>
<line x1="49.6" y1="-65.3" x2="38.2" y2="-46.2" stroke="#c4c4d4" stroke-width="1.8"/>
<line x1="54.2" y1="-61.5" x2="37.5" y2="-43.6" stroke="#c4c4d4" stroke-width="1.8"/>
<line x1="56.3" y1="-59.6" x2="36.4" y2="-38.1" stroke="#c4c4d4" stroke-width="1.8"/>
<line x1="58.4" y1="-57.6" x2="37.9" y2="-36.0" stroke="#c4c4d4" stroke-width="1.8"/>
<line x1="62.2" y1="-53.5" x2="40.1" y2="-34.6" stroke="#c4c4d4" stroke-width="1.8"/>
<line x1="64.0" y1="-51.2" x2="41.6" y2="-31.6" stroke="#c4c4d4" stroke-width="1.8"/>
<line x1="65.8" y1="-49.0" x2="48.6" y2="-34.4" stroke="#c4c4d4" stroke-width="1.8"/>
<line x1="69.1" y1="-44.2" x2="47.6" y2="-34.3" stroke="#c4c4d4" stroke-width="1.8"/>
<line x1="70.6" y1="-41.7" x2="44.9" y2="-28.4" stroke="#c4c4d4" stroke-width="1.8"/>
<line x1="72.0" y1="-39.3" x2="46.1" y2="-25.2" stroke="#c4c4d4" stroke-width="1.8"/>
<line x1="74.7" y1="-33.9" x2="52.0" y2="-27.0" stroke="#c4c4d4" stroke-width="1.8"/>
<line x1="75.8" y1="-31.2" x2="52.2" y2="-22.3" stroke="#c4c4d4" stroke-width="1.8"/>
<line x1="76.9" y1="-28.6" x2="50.2" y2="-17.3" stroke="#c4c4d4" stroke-width="1.8"/>
<line x1="77.7" y1="-26.3" x2="50.6" y2="-17.1" stroke="#c4c4d4" stroke-width="1.8"/>
<line x1="78.5" y1="-23.6" x2="52.8" y2="-15.6" stroke="#c4c4d4" stroke-width="1.8"/>
<line x1="79.3" y1="-20.8" x2="55.1" y2="-12.4" stroke="#c4c4d4" stroke-width="1.8"/>
<line x1="80.7" y1="-14.4" x2="54.5" y2="-12.1" stroke="#c4c4d4" stroke-width="1.8"/>
<line x1="81.2" y1="-11.6" x2="52.7" y2="-6.3" stroke="#c4c4d4" stroke-width="1.8"/>
<line x1="81.5" y1="-8.8" x2="53.4" y2="-4.4" stroke="#c4c4d4" stroke-width="1.8"/>
<line x1="75.1" y1="24.6" x2="89.7" y2="31.3" stroke="#1fa8d8" stroke-width="2.4"/>
<path d="M89.7,31.3 L96.0,37.5 L101.2,31.4 L96.9,34.8 Z" fill="#d4ec70" stroke="#b8de70" stroke-width="1.6" stroke-linejoin="round"/>
<line x1="58.2" y1="53.5" x2="68.6" y2="65.7" stroke="#1fa8d8" stroke-width="2.4"/>
<path d="M68.6,65.7 L71.9,73.9 L79.1,70.6 L73.8,71.8 Z" fill="#d4ec70" stroke="#b8de70" stroke-width="1.6" stroke-linejoin="round"/>
<line x1="19.9" y1="76.5" x2="22.0" y2="92.4" stroke="#1fa8d8" stroke-width="2.4"/>
<path d="M22.0,92.4 L20.3,101.1 L28.2,102.2 L23.0,100.4 Z" fill="#d4ec70" stroke="#b8de70" stroke-width="1.6" stroke-linejoin="round"/>
<line x1="-15.4" y1="77.5" x2="-20.3" y2="92.8" stroke="#1fa8d8" stroke-width="2.4"/>
<path d="M-20.3,92.8 L-25.7,99.8 L-19.0,104.3 L-22.9,100.4 Z" fill="#d4ec70" stroke="#b8de70" stroke-width="1.6" stroke-linejoin="round"/>
<line x1="-45.1" y1="64.9" x2="-55.8" y2="76.9" stroke="#1fa8d8" stroke-width="2.4"/>
<path d="M-55.8,76.9 L-63.5,81.2 L-59.2,87.9 L-61.2,82.8 Z" fill="#d4ec70" stroke="#b8de70" stroke-width="1.6" stroke-linejoin="round"/>
<line x1="-66.3" y1="43.0" x2="-80.7" y2="50.1" stroke="#1fa8d8" stroke-width="2.4"/>
<path d="M-80.7,50.1 L-89.5,51.1 L-88.1,59.0 L-88.0,53.5 Z" fill="#d4ec70" stroke="#b8de70" stroke-width="1.6" stroke-linejoin="round"/>
<line x1="-79.0" y1="-1.8" x2="-94.9" y2="-4.0" stroke="#1fa8d8" stroke-width="2.4"/>
<path d="M-94.9,-4.0 L-102.8,-8.1 L-106.0,-0.8 L-102.8,-5.2 Z" fill="#d4ec70" stroke="#b8de70" stroke-width="1.6" stroke-linejoin="round"/>
<line x1="-70.2" y1="-36.3" x2="-83.5" y2="-45.3" stroke="#1fa8d8" stroke-width="2.4"/>
<path d="M-83.5,-45.3 L-88.8,-52.4 L-94.9,-47.2 L-90.1,-49.9 Z" fill="#d4ec70" stroke="#b8de70" stroke-width="1.6" stroke-linejoin="round"/>
<line x1="-39.0" y1="-68.7" x2="-45.3" y2="-83.5" stroke="#1fa8d8" stroke-width="2.4"/>
<path d="M-45.3,-83.5 L-45.8,-92.4 L-53.7,-91.4 L-48.3,-91.0 Z" fill="#d4ec70" stroke="#b8de70" stroke-width="1.6" stroke-linejoin="round"/>
<line x1="-8.9" y1="-78.5" x2="-8.9" y2="-94.6" stroke="#1fa8d8" stroke-width="2.4"/>
<path d="M-8.9,-94.6 L-5.9,-102.9 L-13.6,-105.1 L-8.7,-102.6 Z" fill="#d4ec70" stroke="#b8de70" stroke-width="1.6" stroke-linejoin="round"/>
<line x1="31.4" y1="-72.5" x2="39.6" y2="-86.4" stroke="#1fa8d8" stroke-width="2.4"/>
<path d="M39.6,-86.4 L46.3,-92.1 L40.7,-97.9 L43.7,-93.3 Z" fill="#d4ec70" stroke="#b8de70" stroke-width="1.6" stroke-linejoin="round"/>
<line x1="62.9" y1="-47.8" x2="76.8" y2="-55.9" stroke="#1fa8d8" stroke-width="2.4"/>
<path d="M76.8,-55.9 L85.5,-57.6 L83.4,-65.4 L83.7,-59.9 Z" fill="#d4ec70" stroke="#b8de70" stroke-width="1.6" stroke-linejoin="round"/>
<line x1="76.6" y1="-19.5" x2="92.5" y2="-21.5" stroke="#1fa8d8" stroke-width="2.4"/>
<path d="M92.5,-21.5 L101.2,-19.7 L102.3,-27.6 L100.5,-22.5 Z" fill="#d4ec70" stroke="#b8de70" stroke-width="1.6" stroke-linejoin="round"/>
<line x1="84.8" y1="23.6" x2="56.9" y2="14.7" stroke="#00a6ea" stroke-width="4"/>
<line x1="71.0" y1="52.0" x2="45.2" y2="37.9" stroke="#00a6ea" stroke-width="4"/>
<line x1="59.7" y1="64.7" x2="43.7" y2="47.7" stroke="#00a6ea" stroke-width="4"/>
<line x1="20.6" y1="85.6" x2="15.1" y2="63.9" stroke="#00a6ea" stroke-width="4"/>
<line x1="-9.0" y1="87.5" x2="-6.5" y2="63.9" stroke="#00a6ea" stroke-width="4"/>
<line x1="-38.2" y1="79.3" x2="-30.7" y2="52.6" stroke="#00a6ea" stroke-width="4"/>
<line x1="-56.0" y1="67.9" x2="-41.9" y2="49.3" stroke="#00a6ea" stroke-width="4"/>
<line x1="-75.0" y1="46.0" x2="-56.2" y2="32.6" stroke="#00a6ea" stroke-width="4"/>
<line x1="-85.8" y1="19.7" x2="-61.6" y2="18.7" stroke="#00a6ea" stroke-width="4"/>
<line x1="-86.7" y1="-15.1" x2="-58.7" y2="-6.5" stroke="#00a6ea" stroke-width="4"/>
<line x1="-71.4" y1="-51.4" x2="-49.7" y2="-38.4" stroke="#00a6ea" stroke-width="4"/>
<line x1="-56.8" y1="-67.2" x2="-38.2" y2="-45.3" stroke="#00a6ea" stroke-width="4"/>
<line x1="-36.5" y1="-80.1" x2="-22.8" y2="-54.3" stroke="#00a6ea" stroke-width="4"/>
<line x1="-1.4" y1="-88.0" x2="-5.2" y2="-64.0" stroke="#00a6ea" stroke-width="4"/>
<line x1="24.9" y1="-84.4" x2="20.3" y2="-62.6" stroke="#00a6ea" stroke-width="4"/>
<line x1="59.9" y1="-64.4" x2="39.1" y2="-44.1" stroke="#00a6ea" stroke-width="4"/>
<line x1="79.5" y1="-37.6" x2="54.5" y2="-23.4" stroke="#00a6ea" stroke-width="4"/>
<line x1="87.8" y1="-5.3" x2="64.9" y2="-7.3" stroke="#00a6ea" stroke-width="4"/>
<ellipse cx="86.0" cy="1.0" rx="5.4" ry="4.6" transform="rotate(90.7 86.0 1.0)" fill="#b0adb8"/>
<ellipse cx="85.0" cy="12.8" rx="5.4" ry="4.6" transform="rotate(98.6 85.0 12.8)" fill="#b0adb8"/>
<ellipse cx="82.8" cy="23.2" rx="5.4" ry="4.6" transform="rotate(105.6 82.8 23.2)" fill="#b0adb8"/>
<ellipse cx="79.2" cy="33.5" rx="5.4" ry="4.6" transform="rotate(112.9 79.2 33.5)" fill="#b0adb8"/>
<ellipse cx="74.4" cy="43.2" rx="5.4" ry="4.6" transform="rotate(120.2 74.4 43.2)" fill="#b0adb8"/>
<ellipse cx="66.4" cy="54.7" rx="5.4" ry="4.6" transform="rotate(129.5 66.4 54.7)" fill="#b0adb8"/>
<ellipse cx="58.8" cy="62.8" rx="5.4" ry="4.6" transform="rotate(136.9 58.8 62.8)" fill="#b0adb8"/>
<ellipse cx="48.9" cy="70.8" rx="5.4" ry="4.6" transform="rotate(145.4 48.9 70.8)" fill="#b0adb8"/>
<ellipse cx="40.0" cy="76.2" rx="5.4" ry="4.6" transform="rotate(152.3 40.0 76.2)" fill="#b0adb8"/>
<ellipse cx="27.9" cy="81.3" rx="5.4" ry="4.6" transform="rotate(161.1 27.9 81.3)" fill="#b0adb8"/>
<ellipse cx="18.3" cy="84.0" rx="5.4" ry="4.6" transform="rotate(167.7 18.3 84.0)" fill="#b0adb8"/>
<ellipse cx="4.8" cy="85.9" rx="5.4" ry="4.6" transform="rotate(176.8 4.8 85.9)" fill="#b0adb8"/>
<ellipse cx="-6.7" cy="85.7" rx="5.4" ry="4.6" transform="rotate(184.4 -6.7 85.7)" fill="#b0adb8"/>
<ellipse cx="-17.2" cy="84.3" rx="5.4" ry="4.6" transform="rotate(191.5 -17.2 84.3)" fill="#b0adb8"/>
<ellipse cx="-28.9" cy="81.0" rx="5.4" ry="4.6" transform="rotate(199.7 -28.9 81.0)" fill="#b0adb8"/>
<ellipse cx="-40.1" cy="76.1" rx="5.4" ry="4.6" transform="rotate(207.8 -40.1 76.1)" fill="#b0adb8"/>
<ellipse cx="-48.7" cy="70.9" rx="5.4" ry="4.6" transform="rotate(214.5 -48.7 70.9)" fill="#b0adb8"/>
<ellipse cx="-58.8" cy="62.7" rx="5.4" ry="4.6" transform="rotate(223.2 -58.8 62.7)" fill="#b0adb8"/>
<ellipse cx="-67.4" cy="53.5" rx="5.4" ry="4.6" transform="rotate(231.6 -67.4 53.5)" fill="#b0adb8"/>
<ellipse cx="-73.1" cy="45.4" rx="5.4" ry="4.6" transform="rotate(238.2 -73.1 45.4)" fill="#b0adb8"/>
<ellipse cx="-79.3" cy="33.3" rx="5.4" ry="4.6" transform="rotate(247.2 -79.3 33.3)" fill="#b0adb8"/>
<ellipse cx="-83.0" cy="22.6" rx="5.4" ry="4.6" transform="rotate(254.8 -83.0 22.6)" fill="#b0adb8"/>
<ellipse cx="-85.4" cy="10.5" rx="5.4" ry="4.6" transform="rotate(263.0 -85.4 10.5)" fill="#b0adb8"/>
<ellipse cx="-86.0" cy="0.6" rx="5.4" ry="4.6" transform="rotate(269.6 -86.0 0.6)" fill="#b0adb8"/>
<ellipse cx="-85.4" cy="-10.3" rx="5.4" ry="4.6" transform="rotate(276.9 -85.4 -10.3)" fill="#b0adb8"/>
<ellipse cx="-82.5" cy="-24.2" rx="5.4" ry="4.6" transform="rotate(286.3 -82.5 -24.2)" fill="#b0adb8"/>
<ellipse cx="-78.5" cy="-35.2" rx="5.4" ry="4.6" transform="rotate(294.2 -78.5 -35.2)" fill="#b0adb8"/>
<ellipse cx="-73.6" cy="-44.5" rx="5.4" ry="4.6" transform="rotate(301.2 -73.6 -44.5)" fill="#b0adb8"/>
<ellipse cx="-67.6" cy="-53.2" rx="5.4" ry="4.6" transform="rotate(308.2 -67.6 -53.2)" fill="#b0adb8"/>
<ellipse cx="-59.5" cy="-62.1" rx="5.4" ry="4.6" transform="rotate(316.3 -59.5 -62.1)" fill="#b0adb8"/>
<ellipse cx="-49.2" cy="-70.5" rx="5.4" ry="4.6" transform="rotate(325.1 -49.2 -70.5)" fill="#b0adb8"/>
<ellipse cx="-40.2" cy="-76.0" rx="5.4" ry="4.6" transform="rotate(332.1 -40.2 -76.0)" fill="#b0adb8"/>
<ellipse cx="-27.3" cy="-81.5" rx="5.4" ry="4.6" transform="rotate(341.5 -27.3 -81.5)" fill="#b0adb8"/>
<ellipse cx="-17.2" cy="-84.3" rx="5.4" ry="4.6" transform="rotate(348.5 -17.2 -84.3)" fill="#b0adb8"/>
<ellipse cx="-6.9" cy="-85.7" rx="5.4" ry="4.6" transform="rotate(355.4 -6.9 -85.7)" fill="#b0adb8"/>
<ellipse cx="6.4" cy="-85.8" rx="5.4" ry="4.6" transform="rotate(364.3 6.4 -85.8)" fill="#b0adb8"/>
<ellipse cx="17.0" cy="-84.3" rx="5.4" ry="4.6" transform="rotate(371.4 17.0 -84.3)" fill="#b0adb8"/>
<ellipse cx="30.2" cy="-80.5" rx="5.4" ry="4.6" transform="rotate(380.6 30.2 -80.5)" fill="#b0adb8"/>
<ellipse cx="40.8" cy="-75.7" rx="5.4" ry="4.6" transform="rotate(388.3 40.8 -75.7)" fill="#b0adb8"/>
<ellipse cx="49.6" cy="-70.2" rx="5.4" ry="4.6" transform="rotate(395.3 49.6 -70.2)" fill="#b0adb8"/>
<ellipse cx="59.1" cy="-62.5" rx="5.4" ry="4.6" transform="rotate(403.4 59.1 -62.5)" fill="#b0adb8"/>
<ellipse cx="67.1" cy="-53.7" rx="5.4" ry="4.6" transform="rotate(411.3 67.1 -53.7)" fill="#b0adb8"/>
<ellipse cx="74.0" cy="-43.8" rx="5.4" ry="4.6" transform="rotate(419.4 74.0 -43.8)" fill="#b0adb8"/>
<ellipse cx="79.5" cy="-32.8" rx="5.4" ry="4.6" transform="rotate(427.6 79.5 -32.8)" fill="#b0adb8"/>
<ellipse cx="82.4" cy="-24.8" rx="5.4" ry="4.6" transform="rotate(433.3 82.4 -24.8)" fill="#b0adb8"/>
<ellipse cx="85.1" cy="-12.2" rx="5.4" ry="4.6" transform="rotate(441.9 85.1 -12.2)" fill="#b0adb8"/>
<ellipse cx="69.3" cy="-4.0" rx="6.4" ry="5.8" fill="#c5d9f1" stroke="#5b79c4" stroke-width="1.4"/>
<ellipse cx="67.3" cy="22.9" rx="6.4" ry="5.8" fill="#c5d9f1" stroke="#5b79c4" stroke-width="1.4"/>
<ellipse cx="53.6" cy="30.4" rx="6.4" ry="5.8" fill="#c5d9f1" stroke="#5b79c4" stroke-width="1.4"/>
<ellipse cx="46.3" cy="48.2" rx="6.4" ry="5.8" fill="#c5d9f1" stroke="#5b79c4" stroke-width="1.4"/>
<ellipse cx="30.9" cy="61.2" rx="6.4" ry="5.8" fill="#c5d9f1" stroke="#5b79c4" stroke-width="1.4"/>
<ellipse cx="16.2" cy="72.8" rx="6.4" ry="5.8" fill="#c5d9f1" stroke="#5b79c4" stroke-width="1.4"/>
<ellipse cx="-1.7" cy="73.7" rx="6.4" ry="5.8" fill="#c5d9f1" stroke="#5b79c4" stroke-width="1.4"/>
<ellipse cx="-13.1" cy="58.6" rx="6.4" ry="5.8" fill="#c5d9f1" stroke="#5b79c4" stroke-width="1.4"/>
<ellipse cx="-33.8" cy="50.1" rx="6.4" ry="5.8" fill="#c5d9f1" stroke="#5b79c4" stroke-width="1.4"/>
<ellipse cx="-51.3" cy="42.8" rx="6.4" ry="5.8" fill="#c5d9f1" stroke="#5b79c4" stroke-width="1.4"/>
<ellipse cx="-52.8" cy="36.4" rx="6.4" ry="5.8" fill="#c5d9f1" stroke="#5b79c4" stroke-width="1.4"/>
<ellipse cx="-64.2" cy="14.4" rx="6.4" ry="5.8" fill="#c5d9f1" stroke="#5b79c4" stroke-width="1.4"/>
<ellipse cx="-61.5" cy="-1.4" rx="6.4" ry="5.8" fill="#c5d9f1" stroke="#5b79c4" stroke-width="1.4"/>
<ellipse cx="-62.2" cy="-20.8" rx="6.4" ry="5.8" fill="#c5d9f1" stroke="#5b79c4" stroke-width="1.4"/>
<ellipse cx="-51.9" cy="-34.3" rx="6.4" ry="5.8" fill="#c5d9f1" stroke="#5b79c4" stroke-width="1.4"/>
<ellipse cx="-45.9" cy="-48.8" rx="6.4" ry="5.8" fill="#c5d9f1" stroke="#5b79c4" stroke-width="1.4"/>
<ellipse cx="-31.1" cy="-51.7" rx="6.4" ry="5.8" fill="#c5d9f1" stroke="#5b79c4" stroke-width="1.4"/>
<ellipse cx="-18.4" cy="-70.2" rx="6.4" ry="5.8" fill="#c5d9f1" stroke="#5b79c4" stroke-width="1.4"/>
<ellipse cx="-4.8" cy="-66.5" rx="6.4" ry="5.8" fill="#c5d9f1" stroke="#5b79c4" stroke-width="1.4"/>
<ellipse cx="12.9" cy="-73.8" rx="6.4" ry="5.8" fill="#c5d9f1" stroke="#5b79c4" stroke-width="1.4"/>
<ellipse cx="40.2" cy="-57.5" rx="6.4" ry="5.8" fill="#c5d9f1" stroke="#5b79c4" stroke-width="1.4"/>
<ellipse cx="43.0" cy="-43.3" rx="6.4" ry="5.8" fill="#c5d9f1" stroke="#5b79c4" stroke-width="1.4"/>
<ellipse cx="58.5" cy="-39.4" rx="6.4" ry="5.8" fill="#c5d9f1" stroke="#5b79c4" stroke-width="1.4"/>
<ellipse cx="73.2" cy="-15.4" rx="6.4" ry="5.8" fill="#c5d9f1" stroke="#5b79c4" stroke-width="1.4"/>
<circle cx="75.1" cy="24.6" r="4.6" fill="#ffff00" stroke="#a0b040" stroke-width="0.6"/>
<circle cx="58.2" cy="53.5" r="4.6" fill="#ffff00" stroke="#a0b040" stroke-width="0.6"/>
<circle cx="19.9" cy="76.5" r="4.6" fill="#ffff00" stroke="#a0b040" stroke-width="0.6"/>
<circle cx="-15.4" cy="77.5" r="4.6" fill="#ffff00" stroke="#a0b040" stroke-width="0.6"/>
<circle cx="-45.1" cy="64.9" r="4.6" fill="#ffff00" stroke="#a0b040" stroke-width="0.6"/>
<circle cx="-66.3" cy="43.0" r="4.6" fill="#ffff00" stroke="#a0b040" stroke-width="0.6"/>
<circle cx="-79.0" cy="-1.8" r="4.6" fill="#ffff00" stroke="#a0b040" stroke-width="0.6"/>
<circle cx="-70.2" cy="-36.3" r="4.6" fill="#ffff00" stroke="#a0b040" stroke-width="0.6"/>
<circle cx="-39.0" cy="-68.7" r="4.6" fill="#ffff00" stroke="#a0b040" stroke-width="0.6"/>
<circle cx="-8.9" cy="-78.5" r="4.6" fill="#ffff00" stroke="#a0b040" stroke-width="0.6"/>
<circle cx="31.4" cy="-72.5" r="4.6" fill="#ffff00" stroke="#a0b040" stroke-width="0.6"/>
<circle cx="62.9" cy="-47.8" r="4.6" fill="#ffff00" stroke="#a0b040" stroke-width="0.6"/>
<circle cx="76.6" cy="-19.5" r="4.6" fill="#ffff00" stroke="#a0b040" stroke-width="0.6"/>
<ellipse cx="85.7" cy="23.9" rx="6.5" ry="4.6" transform="rotate(105.6 85.7 23.9)" fill="#00b0f0"/>
<ellipse cx="71.8" cy="52.6" rx="6.5" ry="4.6" transform="rotate(126.3 71.8 52.6)" fill="#00b0f0"/>
<ellipse cx="60.3" cy="65.4" rx="6.5" ry="4.6" transform="rotate(137.3 60.3 65.4)" fill="#00b0f0"/>
<ellipse cx="20.8" cy="86.5" rx="6.5" ry="4.6" transform="rotate(166.5 20.8 86.5)" fill="#00b0f0"/>
<ellipse cx="-9.1" cy="88.5" rx="6.5" ry="4.6" transform="rotate(185.9 -9.1 88.5)" fill="#00b0f0"/>
<ellipse cx="-38.6" cy="80.2" rx="6.5" ry="4.6" transform="rotate(205.7 -38.6 80.2)" fill="#00b0f0"/>
<ellipse cx="-56.6" cy="68.7" rx="6.5" ry="4.6" transform="rotate(219.5 -56.6 68.7)" fill="#00b0f0"/>
<ellipse cx="-75.9" cy="46.5" rx="6.5" ry="4.6" transform="rotate(238.5 -75.9 46.5)" fill="#00b0f0"/>
<ellipse cx="-86.7" cy="19.9" rx="6.5" ry="4.6" transform="rotate(257.1 -86.7 19.9)" fill="#00b0f0"/>
<ellipse cx="-87.7" cy="-15.3" rx="6.5" ry="4.6" transform="rotate(279.9 -87.7 -15.3)" fill="#00b0f0"/>
<ellipse cx="-72.3" cy="-52.0" rx="6.5" ry="4.6" transform="rotate(305.7 -72.3 -52.0)" fill="#00b0f0"/>
<ellipse cx="-57.4" cy="-68.0" rx="6.5" ry="4.6" transform="rotate(319.8 -57.4 -68.0)" fill="#00b0f0"/>
<ellipse cx="-36.9" cy="-81.0" rx="6.5" ry="4.6" transform="rotate(335.5 -36.9 -81.0)" fill="#00b0f0"/>
<ellipse cx="-1.4" cy="-89.0" rx="6.5" ry="4.6" transform="rotate(359.1 -1.4 -89.0)" fill="#00b0f0"/>
<ellipse cx="25.2" cy="-85.4" rx="6.5" ry="4.6" transform="rotate(376.4 25.2 -85.4)" fill="#00b0f0"/>
<ellipse cx="60.6" cy="-65.2" rx="6.5" ry="4.6" transform="rotate(402.9 60.6 -65.2)" fill="#00b0f0"/>
<ellipse cx="80.4" cy="-38.1" rx="6.5" ry="4.6" transform="rotate(424.7 80.4 -38.1)" fill="#00b0f0"/>
<ellipse cx="88.8" cy="-5.3" rx="6.5" ry="4.6" transform="rotate(446.6 88.8 -5.3)" fill="#00b0f0"/>
<ellipse cx="-14.4" cy="-54.5" rx="5" ry="4" fill="#a9a6aa"/>
<ellipse cx="-6.6" cy="-56.0" rx="5" ry="4" fill="#a9a6aa"/>
<ellipse cx="19.0" cy="-54.5" rx="5" ry="4" fill="#a9a6aa"/>
<ellipse cx="26.2" cy="-51.4" rx="5" ry="4" fill="#a9a6aa"/>
<ellipse cx="-45.1" cy="-35.7" rx="5" ry="4" fill="#a9a6aa"/>
<ellipse cx="-39.8" cy="-41.5" rx="5" ry="4" fill="#a9a6aa"/>
<ellipse cx="43.8" cy="-33.2" rx="5" ry="4" fill="#a9a6aa"/>
<ellipse cx="48.1" cy="-26.6" rx="5" ry="4" fill="#a9a6aa"/>
<ellipse cx="-56.0" cy="1.7" rx="5" ry="4" fill="#a9a6aa"/>
<ellipse cx="-55.7" cy="-6.2" rx="5" ry="4" fill="#a9a6aa"/>
<ellipse cx="55.0" cy="0.5" rx="5" ry="4" fill="#a9a6aa"/>
<ellipse cx="54.4" cy="8.3" rx="5" ry="4" fill="#a9a6aa"/>
<ellipse cx="-35.2" cy="31.2" rx="5" ry="4" fill="#a9a6aa"/>
<ellipse cx="-39.9" cy="24.8" rx="5" ry="4" fill="#a9a6aa"/>
<ellipse cx="34.8" cy="26.5" rx="5" ry="4" fill="#a9a6aa"/>
<ellipse cx="29.5" cy="32.3" rx="5" ry="4" fill="#a9a6aa"/>
<ellipse cx="3.4" cy="45.1" rx="5" ry="4" fill="#a9a6aa"/>
<ellipse cx="-4.5" cy="45.0" rx="5" ry="4" fill="#a9a6aa"/>
<circle cx="-9.8" cy="-51.5" r="12.5" fill="none" stroke="#f7941d" stroke-width="4.8"/>
<circle cx="21.1" cy="-49.4" r="12.5" fill="none" stroke="#f7941d" stroke-width="4.8"/>
<circle cx="-39.6" cy="-36.0" r="12.5" fill="none" stroke="#f7941d" stroke-width="4.8"/>
<circle cx="-1.6" cy="-25.7" r="12.5" fill="none" stroke="#f7941d" stroke-width="4.8"/>
<circle cx="42.7" cy="-27.8" r="12.5" fill="none" stroke="#f7941d" stroke-width="4.8"/>
<circle cx="-25.2" cy="-10.3" r="12.5" fill="none" stroke="#f7941d" stroke-width="4.8"/>
<circle cx="22.1" cy="-4.1" r="12.5" fill="none" stroke="#f7941d" stroke-width="4.8"/>
<circle cx="-52.0" cy="-2.1" r="12.5" fill="none" stroke="#f7941d" stroke-width="4.8"/>
<circle cx="50.9" cy="4.1" r="12.5" fill="none" stroke="#f7941d" stroke-width="4.8"/>
<circle cx="-4.6" cy="11.3" r="12.5" fill="none" stroke="#f7941d" stroke-width="4.8"/>
<circle cx="-34.5" cy="25.7" r="12.5" fill="none" stroke="#f7941d" stroke-width="4.8"/>
<circle cx="29.3" cy="26.8" r="12.5" fill="none" stroke="#f7941d" stroke-width="4.8"/>
<circle cx="-0.5" cy="41.2" r="12.5" fill="none" stroke="#f7941d" stroke-width="4.8"/>
</g>
<g transform="translate(598.4,421) scale(0.385)">
<line x1="81.9" y1="-3.8" x2="53.0" y2="-3.1" stroke="#c4c4d4" stroke-width="1.8"/>
<line x1="82.0" y1="-0.9" x2="52.8" y2="0.0" stroke="#c4c4d4" stroke-width="1.8"/>
<line x1="82.0" y1="2.0" x2="57.4" y2="4.6" stroke="#c4c4d4" stroke-width="1.8"/>
<line x1="81.4" y1="9.8" x2="58.5" y2="5.4" stroke="#c4c4d4" stroke-width="1.8"/>
<line x1="81.0" y1="12.7" x2="53.1" y2="7.2" stroke="#c4c4d4" stroke-width="1.8"/>
<line x1="80.5" y1="15.5" x2="54.9" y2="12.2" stroke="#c4c4d4" stroke-width="1.8"/>
<line x1="80.0" y1="18.2" x2="51.3" y2="11.4" stroke="#c4c4d4" stroke-width="1.8"/>
<line x1="79.3" y1="20.9" x2="54.0" y2="15.0" stroke="#c4c4d4" stroke-width="1.8"/>
<line x1="78.5" y1="23.7" x2="51.3" y2="16.2" stroke="#c4c4d4" stroke-width="1.8"/>
<line x1="76.1" y1="30.6" x2="49.0" y2="17.6" stroke="#c4c4d4" stroke-width="1.8"/>
<line x1="74.9" y1="33.3" x2="49.6" y2="21.7" stroke="#c4c4d4" stroke-width="1.8"/>
<line x1="73.7" y1="35.9" x2="48.3" y2="26.4" stroke="#c4c4d4" stroke-width="1.8"/>
<line x1="72.2" y1="38.9" x2="53.3" y2="25.6" stroke="#c4c4d4" stroke-width="1.8"/>
<line x1="70.8" y1="41.4" x2="48.2" y2="26.9" stroke="#c4c4d4" stroke-width="1.8"/>
<line x1="69.3" y1="43.9" x2="46.6" y2="33.4" stroke="#c4c4d4" stroke-width="1.8"/>
<line x1="65.9" y1="48.8" x2="43.5" y2="31.4" stroke="#c4c4d4" stroke-width="1.8"/>
<line x1="64.1" y1="51.1" x2="43.5" y2="32.6" stroke="#c4c4d4" stroke-width="1.8"/>
<line x1="62.3" y1="53.3" x2="43.4" y2="38.6" stroke="#c4c4d4" stroke-width="1.8"/>
<line x1="56.9" y1="59.1" x2="38.2" y2="37.2" stroke="#c4c4d4" stroke-width="1.8"/>
<line x1="54.8" y1="61.0" x2="36.2" y2="39.9" stroke="#c4c4d4" stroke-width="1.8"/>
<line x1="52.6" y1="62.9" x2="34.6" y2="43.4" stroke="#c4c4d4" stroke-width="1.8"/>
<line x1="50.4" y1="64.7" x2="36.6" y2="43.3" stroke="#c4c4d4" stroke-width="1.8"/>
<line x1="48.1" y1="66.4" x2="32.0" y2="42.0" stroke="#c4c4d4" stroke-width="1.8"/>
<line x1="45.7" y1="68.1" x2="28.2" y2="44.7" stroke="#c4c4d4" stroke-width="1.8"/>
<line x1="39.8" y1="71.7" x2="27.1" y2="47.7" stroke="#c4c4d4" stroke-width="1.8"/>
<line x1="37.3" y1="73.0" x2="24.9" y2="50.2" stroke="#c4c4d4" stroke-width="1.8"/>
<line x1="34.7" y1="74.3" x2="25.3" y2="54.3" stroke="#c4c4d4" stroke-width="1.8"/>
<line x1="30.3" y1="76.2" x2="21.6" y2="47.4" stroke="#c4c4d4" stroke-width="1.8"/>
<line x1="27.6" y1="77.2" x2="18.3" y2="52.0" stroke="#c4c4d4" stroke-width="1.8"/>
<line x1="24.9" y1="78.1" x2="16.5" y2="55.5" stroke="#c4c4d4" stroke-width="1.8"/>
<line x1="19.6" y1="79.6" x2="17.6" y2="57.1" stroke="#c4c4d4" stroke-width="1.8"/>
<line x1="16.8" y1="80.3" x2="13.0" y2="57.2" stroke="#c4c4d4" stroke-width="1.8"/>
<line x1="14.0" y1="80.8" x2="10.1" y2="58.1" stroke="#c4c4d4" stroke-width="1.8"/>
<line x1="8.5" y1="81.6" x2="6.9" y2="59.3" stroke="#c4c4d4" stroke-width="1.8"/>
<line x1="5.6" y1="81.8" x2="3.8" y2="59.8" stroke="#c4c4d4" stroke-width="1.8"/>
<line x1="2.7" y1="82.0" x2="-1.2" y2="53.4" stroke="#c4c4d4" stroke-width="1.8"/>
<line x1="-1.7" y1="82.0" x2="1.8" y2="55.5" stroke="#c4c4d4" stroke-width="1.8"/>
<line x1="-4.6" y1="81.9" x2="-3.2" y2="56.8" stroke="#c4c4d4" stroke-width="1.8"/>
<line x1="-7.5" y1="81.7" x2="-5.5" y2="55.5" stroke="#c4c4d4" stroke-width="1.8"/>
<line x1="-14.9" y1="80.6" x2="-8.4" y2="52.3" stroke="#c4c4d4" stroke-width="1.8"/>
<line x1="-17.7" y1="80.1" x2="-10.8" y2="54.6" stroke="#c4c4d4" stroke-width="1.8"/>
<line x1="-20.5" y1="79.4" x2="-16.1" y2="53.1" stroke="#c4c4d4" stroke-width="1.8"/>
<line x1="-23.5" y1="78.6" x2="-14.9" y2="55.8" stroke="#c4c4d4" stroke-width="1.8"/>
<line x1="-26.2" y1="77.7" x2="-17.2" y2="52.4" stroke="#c4c4d4" stroke-width="1.8"/>
<line x1="-28.9" y1="76.7" x2="-19.5" y2="50.2" stroke="#c4c4d4" stroke-width="1.8"/>
<line x1="-34.4" y1="74.5" x2="-20.7" y2="51.6" stroke="#c4c4d4" stroke-width="1.8"/>
<line x1="-36.9" y1="73.2" x2="-26.7" y2="51.3" stroke="#c4c4d4" stroke-width="1.8"/>
<line x1="-39.5" y1="71.9" x2="-27.4" y2="49.9" stroke="#c4c4d4" stroke-width="1.8"/>
<line x1="-43.6" y1="69.5" x2="-27.7" y2="47.4" stroke="#c4c4d4" stroke-width="1.8"/>
<line x1="-46.0" y1="67.9" x2="-30.8" y2="42.8" stroke="#c4c4d4" stroke-width="1.8"/>
<line x1="-48.3" y1="66.2" x2="-35.5" y2="45.9" stroke="#c4c4d4" stroke-width="1.8"/>
<line x1="-53.3" y1="62.3" x2="-35.4" y2="45.5" stroke="#c4c4d4" stroke-width="1.8"/>
<line x1="-55.4" y1="60.4" x2="-36.4" y2="39.6" stroke="#c4c4d4" stroke-width="1.8"/>
<line x1="-57.5" y1="58.5" x2="-42.1" y2="39.8" stroke="#c4c4d4" stroke-width="1.8"/>
<line x1="-61.6" y1="54.2" x2="-38.3" y2="35.2" stroke="#c4c4d4" stroke-width="1.8"/>
<line x1="-63.4" y1="52.0" x2="-46.4" y2="36.9" stroke="#c4c4d4" stroke-width="1.8"/>
<line x1="-65.2" y1="49.7" x2="-49.2" y2="33.3" stroke="#c4c4d4" stroke-width="1.8"/>
<line x1="-69.2" y1="43.9" x2="-44.2" y2="30.6" stroke="#c4c4d4" stroke-width="1.8"/>
<line x1="-70.7" y1="41.5" x2="-49.4" y2="27.1" stroke="#c4c4d4" stroke-width="1.8"/>
<line x1="-72.1" y1="39.0" x2="-49.7" y2="23.4" stroke="#c4c4d4" stroke-width="1.8"/>
<line x1="-73.9" y1="35.6" x2="-52.2" y2="27.0" stroke="#c4c4d4" stroke-width="1.8"/>
<line x1="-75.1" y1="33.0" x2="-52.8" y2="21.5" stroke="#c4c4d4" stroke-width="1.8"/>
<line x1="-76.2" y1="30.4" x2="-54.5" y2="20.7" stroke="#c4c4d4" stroke-width="1.8"/>
<line x1="-77.7" y1="26.1" x2="-54.8" y2="21.2" stroke="#c4c4d4" stroke-width="1.8"/>
<line x1="-78.6" y1="23.3" x2="-53.1" y2="14.2" stroke="#c4c4d4" stroke-width="1.8"/>
<line x1="-79.4" y1="20.6" x2="-57.1" y2="13.8" stroke="#c4c4d4" stroke-width="1.8"/>
<line x1="-80.7" y1="14.8" x2="-53.2" y2="10.9" stroke="#c4c4d4" stroke-width="1.8"/>
<line x1="-81.1" y1="12.0" x2="-58.2" y2="7.9" stroke="#c4c4d4" stroke-width="1.8"/>
<line x1="-81.5" y1="9.1" x2="-59.3" y2="4.1" stroke="#c4c4d4" stroke-width="1.8"/>
<line x1="-82.0" y1="1.3" x2="-58.5" y2="2.2" stroke="#c4c4d4" stroke-width="1.8"/>
<line x1="-82.0" y1="-1.6" x2="-54.9" y2="-0.8" stroke="#c4c4d4" stroke-width="1.8"/>
<line x1="-81.9" y1="-4.5" x2="-55.7" y2="-4.7" stroke="#c4c4d4" stroke-width="1.8"/>
<line x1="-81.7" y1="-6.9" x2="-58.7" y2="-2.5" stroke="#c4c4d4" stroke-width="1.8"/>
<line x1="-81.4" y1="-9.7" x2="-52.1" y2="-7.0" stroke="#c4c4d4" stroke-width="1.8"/>
<line x1="-81.0" y1="-12.6" x2="-53.3" y2="-9.6" stroke="#c4c4d4" stroke-width="1.8"/>
<line x1="-79.6" y1="-19.7" x2="-51.5" y2="-12.3" stroke="#c4c4d4" stroke-width="1.8"/>
<line x1="-78.9" y1="-22.5" x2="-52.3" y2="-14.2" stroke="#c4c4d4" stroke-width="1.8"/>
<line x1="-78.0" y1="-25.2" x2="-55.1" y2="-19.6" stroke="#c4c4d4" stroke-width="1.8"/>
<line x1="-76.5" y1="-29.6" x2="-50.6" y2="-19.4" stroke="#c4c4d4" stroke-width="1.8"/>
<line x1="-75.4" y1="-32.3" x2="-51.0" y2="-21.4" stroke="#c4c4d4" stroke-width="1.8"/>
<line x1="-74.2" y1="-34.9" x2="-52.8" y2="-27.9" stroke="#c4c4d4" stroke-width="1.8"/>
<line x1="-71.3" y1="-40.6" x2="-51.6" y2="-26.5" stroke="#c4c4d4" stroke-width="1.8"/>
<line x1="-69.8" y1="-43.1" x2="-49.6" y2="-31.0" stroke="#c4c4d4" stroke-width="1.8"/>
<line x1="-68.2" y1="-45.5" x2="-48.1" y2="-33.5" stroke="#c4c4d4" stroke-width="1.8"/>
<line x1="-65.7" y1="-49.1" x2="-47.0" y2="-34.4" stroke="#c4c4d4" stroke-width="1.8"/>
<line x1="-63.9" y1="-51.3" x2="-42.6" y2="-34.9" stroke="#c4c4d4" stroke-width="1.8"/>
<line x1="-62.1" y1="-53.5" x2="-41.8" y2="-40.5" stroke="#c4c4d4" stroke-width="1.8"/>
<line x1="-57.6" y1="-58.4" x2="-42.1" y2="-41.8" stroke="#c4c4d4" stroke-width="1.8"/>
<line x1="-55.5" y1="-60.4" x2="-35.7" y2="-39.3" stroke="#c4c4d4" stroke-width="1.8"/>
<line x1="-53.4" y1="-62.3" x2="-37.3" y2="-43.8" stroke="#c4c4d4" stroke-width="1.8"/>
<line x1="-49.6" y1="-65.3" x2="-34.0" y2="-44.2" stroke="#c4c4d4" stroke-width="1.8"/>
<line x1="-47.3" y1="-67.0" x2="-32.9" y2="-49.3" stroke="#c4c4d4" stroke-width="1.8"/>
<line x1="-44.9" y1="-68.6" x2="-27.4" y2="-45.1" stroke="#c4c4d4" stroke-width="1.8"/>
<line x1="-39.8" y1="-71.7" x2="-29.6" y2="-51.0" stroke="#c4c4d4" stroke-width="1.8"/>
<line x1="-37.3" y1="-73.0" x2="-26.1" y2="-47.9" stroke="#c4c4d4" stroke-width="1.8"/>
<line x1="-34.7" y1="-74.3" x2="-22.4" y2="-55.0" stroke="#c4c4d4" stroke-width="1.8"/>
<line x1="-28.9" y1="-76.7" x2="-22.1" y2="-52.8" stroke="#c4c4d4" stroke-width="1.8"/>
<line x1="-26.2" y1="-77.7" x2="-17.7" y2="-55.9" stroke="#c4c4d4" stroke-width="1.8"/>
<line x1="-23.5" y1="-78.6" x2="-14.7" y2="-55.9" stroke="#c4c4d4" stroke-width="1.8"/>
<line x1="-19.2" y1="-79.7" x2="-14.9" y2="-52.5" stroke="#c4c4d4" stroke-width="1.8"/>
<line x1="-16.4" y1="-80.3" x2="-11.5" y2="-53.6" stroke="#c4c4d4" stroke-width="1.8"/>
<line x1="-13.6" y1="-80.9" x2="-9.0" y2="-55.4" stroke="#c4c4d4" stroke-width="1.8"/>
<line x1="-9.6" y1="-81.4" x2="-8.9" y2="-57.1" stroke="#c4c4d4" stroke-width="1.8"/>
<line x1="-6.8" y1="-81.7" x2="-5.2" y2="-53.0" stroke="#c4c4d4" stroke-width="1.8"/>
<line x1="-3.9" y1="-81.9" x2="-1.3" y2="-55.1" stroke="#c4c4d4" stroke-width="1.8"/>
<line x1="1.3" y1="-82.0" x2="-2.1" y2="-58.2" stroke="#c4c4d4" stroke-width="1.8"/>
<line x1="4.2" y1="-81.9" x2="2.1" y2="-53.7" stroke="#c4c4d4" stroke-width="1.8"/>
<line x1="7.0" y1="-81.7" x2="6.9" y2="-53.0" stroke="#c4c4d4" stroke-width="1.8"/>
<line x1="15.3" y1="-80.6" x2="7.0" y2="-52.4" stroke="#c4c4d4" stroke-width="1.8"/>
<line x1="18.1" y1="-80.0" x2="13.2" y2="-54.9" stroke="#c4c4d4" stroke-width="1.8"/>
<line x1="20.9" y1="-79.3" x2="16.7" y2="-56.2" stroke="#c4c4d4" stroke-width="1.8"/>
<line x1="24.7" y1="-78.2" x2="16.2" y2="-52.2" stroke="#c4c4d4" stroke-width="1.8"/>
<line x1="27.4" y1="-77.3" x2="19.3" y2="-54.6" stroke="#c4c4d4" stroke-width="1.8"/>
<line x1="30.1" y1="-76.3" x2="23.6" y2="-51.4" stroke="#c4c4d4" stroke-width="1.8"/>
<line x1="34.2" y1="-74.5" x2="24.9" y2="-54.6" stroke="#c4c4d4" stroke-width="1.8"/>
<line x1="36.8" y1="-73.3" x2="23.3" y2="-47.7" stroke="#c4c4d4" stroke-width="1.8"/>
<line x1="39.4" y1="-71.9" x2="26.9" y2="-48.3" stroke="#c4c4d4" stroke-width="1.8"/>
<line x1="46.1" y1="-67.8" x2="30.0" y2="-49.7" stroke="#c4c4d4" stroke-width="1.8"/>
<line x1="48.5" y1="-66.1" x2="35.2" y2="-47.5" stroke="#c4c4d4" stroke-width="1.8"/>
<line x1="50.8" y1="-64.4" x2="36.2" y2="-43.9" stroke="#c4c4d4" stroke-width="1.8"/>
<line x1="54.0" y1="-61.7" x2="38.1" y2="-45.7" stroke="#c4c4d4" stroke-width="1.8"/>
<line x1="56.2" y1="-59.8" x2="41.6" y2="-42.1" stroke="#c4c4d4" stroke-width="1.8"/>
<line x1="58.2" y1="-57.7" x2="43.1" y2="-38.1" stroke="#c4c4d4" stroke-width="1.8"/>
<line x1="62.2" y1="-53.4" x2="41.1" y2="-37.9" stroke="#c4c4d4" stroke-width="1.8"/>
<line x1="64.1" y1="-51.2" x2="46.0" y2="-36.6" stroke="#c4c4d4" stroke-width="1.8"/>
<line x1="65.8" y1="-48.9" x2="45.0" y2="-30.8" stroke="#c4c4d4" stroke-width="1.8"/>
<line x1="69.2" y1="-44.0" x2="45.5" y2="-32.3" stroke="#c4c4d4" stroke-width="1.8"/>
<line x1="70.7" y1="-41.5" x2="50.6" y2="-29.7" stroke="#c4c4d4" stroke-width="1.8"/>
<line x1="72.1" y1="-39.0" x2="53.4" y2="-26.9" stroke="#c4c4d4" stroke-width="1.8"/>
<line x1="73.7" y1="-35.9" x2="52.4" y2="-28.2" stroke="#c4c4d4" stroke-width="1.8"/>
<line x1="74.9" y1="-33.3" x2="49.1" y2="-21.8" stroke="#c4c4d4" stroke-width="1.8"/>
<line x1="76.0" y1="-30.7" x2="54.9" y2="-19.2" stroke="#c4c4d4" stroke-width="1.8"/>
<line x1="78.0" y1="-25.3" x2="53.4" y2="-20.4" stroke="#c4c4d4" stroke-width="1.8"/>
<line x1="78.8" y1="-22.6" x2="52.6" y2="-16.7" stroke="#c4c4d4" stroke-width="1.8"/>
<line x1="79.6" y1="-19.8" x2="54.0" y2="-10.3" stroke="#c4c4d4" stroke-width="1.8"/>
<line x1="81.0" y1="-12.8" x2="54.0" y2="-9.4" stroke="#c4c4d4" stroke-width="1.8"/>
<line x1="81.4" y1="-9.9" x2="56.4" y2="-8.1" stroke="#c4c4d4" stroke-width="1.8"/>
<line x1="81.7" y1="-7.1" x2="57.3" y2="-4.8" stroke="#c4c4d4" stroke-width="1.8"/>
<line x1="77.9" y1="13.0" x2="93.4" y2="17.5" stroke="#1fa8d8" stroke-width="2.4"/>
<path d="M93.4,17.5 L100.6,22.7 L104.8,15.9 L101.0,19.9 Z" fill="#d4ec70" stroke="#b8de70" stroke-width="1.6" stroke-linejoin="round"/>
<line x1="58.1" y1="53.5" x2="68.6" y2="65.7" stroke="#1fa8d8" stroke-width="2.4"/>
<path d="M68.6,65.7 L71.8,74.0 L79.0,70.6 L73.7,71.9 Z" fill="#d4ec70" stroke="#b8de70" stroke-width="1.6" stroke-linejoin="round"/>
<line x1="34.5" y1="71.0" x2="39.8" y2="86.3" stroke="#1fa8d8" stroke-width="2.4"/>
<path d="M39.8,86.3 L39.8,95.1 L47.8,94.6 L42.4,93.9 Z" fill="#d4ec70" stroke="#b8de70" stroke-width="1.6" stroke-linejoin="round"/>
<line x1="-18.2" y1="76.9" x2="-23.8" y2="92.0" stroke="#1fa8d8" stroke-width="2.4"/>
<path d="M-23.8,92.0 L-29.4,98.8 L-22.9,103.5 L-26.6,99.5 Z" fill="#d4ec70" stroke="#b8de70" stroke-width="1.6" stroke-linejoin="round"/>
<line x1="-43.7" y1="65.8" x2="-54.1" y2="78.1" stroke="#1fa8d8" stroke-width="2.4"/>
<path d="M-54.1,78.1 L-61.8,82.5 L-57.3,89.2 L-59.4,84.1 Z" fill="#d4ec70" stroke="#b8de70" stroke-width="1.6" stroke-linejoin="round"/>
<line x1="-71.1" y1="34.5" x2="-86.3" y2="39.8" stroke="#1fa8d8" stroke-width="2.4"/>
<path d="M-86.3,39.8 L-95.1,39.7 L-94.7,47.7 L-93.9,42.3 Z" fill="#d4ec70" stroke="#b8de70" stroke-width="1.6" stroke-linejoin="round"/>
<line x1="-78.5" y1="-8.9" x2="-94.2" y2="-12.5" stroke="#1fa8d8" stroke-width="2.4"/>
<path d="M-94.2,-12.5 L-101.6,-17.3 L-105.5,-10.3 L-102.0,-14.5 Z" fill="#d4ec70" stroke="#b8de70" stroke-width="1.6" stroke-linejoin="round"/>
<line x1="-73.1" y1="-29.9" x2="-87.2" y2="-37.7" stroke="#1fa8d8" stroke-width="2.4"/>
<path d="M-87.2,-37.7 L-93.1,-44.4 L-98.7,-38.7 L-94.1,-41.7 Z" fill="#d4ec70" stroke="#b8de70" stroke-width="1.6" stroke-linejoin="round"/>
<line x1="-36.7" y1="-69.9" x2="-42.5" y2="-85.0" stroke="#1fa8d8" stroke-width="2.4"/>
<path d="M-42.5,-85.0 L-42.7,-93.8 L-50.7,-93.1 L-45.3,-92.5 Z" fill="#d4ec70" stroke="#b8de70" stroke-width="1.6" stroke-linejoin="round"/>
<line x1="-18.2" y1="-76.9" x2="-20.0" y2="-92.9" stroke="#1fa8d8" stroke-width="2.4"/>
<path d="M-20.0,-92.9 L-18.0,-101.5 L-25.9,-102.8 L-20.8,-100.9 Z" fill="#d4ec70" stroke="#b8de70" stroke-width="1.6" stroke-linejoin="round"/>
<line x1="29.8" y1="-73.2" x2="37.6" y2="-87.2" stroke="#1fa8d8" stroke-width="2.4"/>
<path d="M37.6,-87.2 L44.2,-93.1 L38.5,-98.8 L41.6,-94.2 Z" fill="#d4ec70" stroke="#b8de70" stroke-width="1.6" stroke-linejoin="round"/>
<line x1="61.1" y1="-50.1" x2="74.6" y2="-58.8" stroke="#1fa8d8" stroke-width="2.4"/>
<path d="M74.6,-58.8 L83.2,-60.8 L80.9,-68.5 L81.4,-63.0 Z" fill="#d4ec70" stroke="#b8de70" stroke-width="1.6" stroke-linejoin="round"/>
<line x1="78.4" y1="-9.8" x2="94.5" y2="-9.9" stroke="#1fa8d8" stroke-width="2.4"/>
<path d="M94.5,-9.9 L102.9,-7.0 L105.0,-14.7 L102.5,-9.8 Z" fill="#d4ec70" stroke="#b8de70" stroke-width="1.6" stroke-linejoin="round"/>
<line x1="86.7" y1="14.9" x2="59.2" y2="8.8" stroke="#00a6ea" stroke-width="4"/>
<line x1="70.4" y1="52.7" x2="48.4" y2="37.0" stroke="#00a6ea" stroke-width="4"/>
<line x1="52.6" y1="70.5" x2="35.0" y2="49.3" stroke="#00a6ea" stroke-width="4"/>
<line x1="28.4" y1="83.3" x2="18.0" y2="61.7" stroke="#00a6ea" stroke-width="4"/>
<line x1="3.8" y1="87.9" x2="1.9" y2="63.9" stroke="#00a6ea" stroke-width="4"/>
<line x1="-27.6" y1="83.6" x2="-21.9" y2="55.9" stroke="#00a6ea" stroke-width="4"/>
<line x1="-56.4" y1="67.6" x2="-41.2" y2="44.0" stroke="#00a6ea" stroke-width="4"/>
<line x1="-75.9" y1="44.5" x2="-53.8" y2="30.0" stroke="#00a6ea" stroke-width="4"/>
<line x1="-86.6" y1="15.4" x2="-61.3" y2="9.3" stroke="#00a6ea" stroke-width="4"/>
<line x1="-84.9" y1="-23.0" x2="-58.4" y2="-16.6" stroke="#00a6ea" stroke-width="4"/>
<line x1="-76.2" y1="-43.9" x2="-56.0" y2="-30.7" stroke="#00a6ea" stroke-width="4"/>
<line x1="-53.0" y1="-70.3" x2="-38.1" y2="-49.9" stroke="#00a6ea" stroke-width="4"/>
<line x1="-35.9" y1="-80.3" x2="-26.2" y2="-55.9" stroke="#00a6ea" stroke-width="4"/>
<line x1="-4.4" y1="-87.9" x2="-1.0" y2="-62.4" stroke="#00a6ea" stroke-width="4"/>
<line x1="35.8" y1="-80.4" x2="21.0" y2="-55.5" stroke="#00a6ea" stroke-width="4"/>
<line x1="63.5" y1="-61.0" x2="43.5" y2="-47.7" stroke="#00a6ea" stroke-width="4"/>
<line x1="75.6" y1="-45.0" x2="56.6" y2="-30.6" stroke="#00a6ea" stroke-width="4"/>
<line x1="85.3" y1="-21.5" x2="58.2" y2="-13.3" stroke="#00a6ea" stroke-width="4"/>
<ellipse cx="86.0" cy="-0.9" rx="5.4" ry="4.6" transform="rotate(89.4 86.0 -0.9)" fill="#b0adb8"/>
<ellipse cx="85.0" cy="13.3" rx="5.4" ry="4.6" transform="rotate(98.9 85.0 13.3)" fill="#b0adb8"/>
<ellipse cx="83.1" cy="22.0" rx="5.4" ry="4.6" transform="rotate(104.8 83.1 22.0)" fill="#b0adb8"/>
<ellipse cx="78.6" cy="34.9" rx="5.4" ry="4.6" transform="rotate(113.9 78.6 34.9)" fill="#b0adb8"/>
<ellipse cx="74.2" cy="43.5" rx="5.4" ry="4.6" transform="rotate(120.4 74.2 43.5)" fill="#b0adb8"/>
<ellipse cx="67.3" cy="53.6" rx="5.4" ry="4.6" transform="rotate(128.6 67.3 53.6)" fill="#b0adb8"/>
<ellipse cx="57.4" cy="64.0" rx="5.4" ry="4.6" transform="rotate(138.1 57.4 64.0)" fill="#b0adb8"/>
<ellipse cx="50.4" cy="69.7" rx="5.4" ry="4.6" transform="rotate(144.1 50.4 69.7)" fill="#b0adb8"/>
<ellipse cx="39.1" cy="76.6" rx="5.4" ry="4.6" transform="rotate(152.9 39.1 76.6)" fill="#b0adb8"/>
<ellipse cx="28.9" cy="81.0" rx="5.4" ry="4.6" transform="rotate(160.3 28.9 81.0)" fill="#b0adb8"/>
<ellipse cx="17.7" cy="84.2" rx="5.4" ry="4.6" transform="rotate(168.2 17.7 84.2)" fill="#b0adb8"/>
<ellipse cx="5.9" cy="85.8" rx="5.4" ry="4.6" transform="rotate(176.1 5.9 85.8)" fill="#b0adb8"/>
<ellipse cx="-4.8" cy="85.9" rx="5.4" ry="4.6" transform="rotate(183.2 -4.8 85.9)" fill="#b0adb8"/>
<ellipse cx="-18.6" cy="84.0" rx="5.4" ry="4.6" transform="rotate(192.5 -18.6 84.0)" fill="#b0adb8"/>
<ellipse cx="-27.5" cy="81.5" rx="5.4" ry="4.6" transform="rotate(198.6 -27.5 81.5)" fill="#b0adb8"/>
<ellipse cx="-38.8" cy="76.8" rx="5.4" ry="4.6" transform="rotate(206.8 -38.8 76.8)" fill="#b0adb8"/>
<ellipse cx="-48.2" cy="71.2" rx="5.4" ry="4.6" transform="rotate(214.1 -48.2 71.2)" fill="#b0adb8"/>
<ellipse cx="-58.1" cy="63.4" rx="5.4" ry="4.6" transform="rotate(222.5 -58.1 63.4)" fill="#b0adb8"/>
<ellipse cx="-66.5" cy="54.5" rx="5.4" ry="4.6" transform="rotate(230.7 -66.5 54.5)" fill="#b0adb8"/>
<ellipse cx="-74.2" cy="43.5" rx="5.4" ry="4.6" transform="rotate(239.6 -74.2 43.5)" fill="#b0adb8"/>
<ellipse cx="-78.7" cy="34.6" rx="5.4" ry="4.6" transform="rotate(246.2 -78.7 34.6)" fill="#b0adb8"/>
<ellipse cx="-82.4" cy="24.5" rx="5.4" ry="4.6" transform="rotate(253.5 -82.4 24.5)" fill="#b0adb8"/>
<ellipse cx="-85.1" cy="12.5" rx="5.4" ry="4.6" transform="rotate(261.6 -85.1 12.5)" fill="#b0adb8"/>
<ellipse cx="-86.0" cy="-1.7" rx="5.4" ry="4.6" transform="rotate(271.1 -86.0 -1.7)" fill="#b0adb8"/>
<ellipse cx="-85.4" cy="-10.2" rx="5.4" ry="4.6" transform="rotate(276.8 -85.4 -10.2)" fill="#b0adb8"/>
<ellipse cx="-82.7" cy="-23.6" rx="5.4" ry="4.6" transform="rotate(285.9 -82.7 -23.6)" fill="#b0adb8"/>
<ellipse cx="-79.0" cy="-33.9" rx="5.4" ry="4.6" transform="rotate(293.2 -79.0 -33.9)" fill="#b0adb8"/>
<ellipse cx="-73.2" cy="-45.2" rx="5.4" ry="4.6" transform="rotate(301.7 -73.2 -45.2)" fill="#b0adb8"/>
<ellipse cx="-67.1" cy="-53.8" rx="5.4" ry="4.6" transform="rotate(308.8 -67.1 -53.8)" fill="#b0adb8"/>
<ellipse cx="-58.2" cy="-63.3" rx="5.4" ry="4.6" transform="rotate(317.4 -58.2 -63.3)" fill="#b0adb8"/>
<ellipse cx="-49.6" cy="-70.3" rx="5.4" ry="4.6" transform="rotate(324.8 -49.6 -70.3)" fill="#b0adb8"/>
<ellipse cx="-39.1" cy="-76.6" rx="5.4" ry="4.6" transform="rotate(333.0 -39.1 -76.6)" fill="#b0adb8"/>
<ellipse cx="-27.5" cy="-81.5" rx="5.4" ry="4.6" transform="rotate(341.4 -27.5 -81.5)" fill="#b0adb8"/>
<ellipse cx="-17.2" cy="-84.3" rx="5.4" ry="4.6" transform="rotate(348.4 -17.2 -84.3)" fill="#b0adb8"/>
<ellipse cx="-7.1" cy="-85.7" rx="5.4" ry="4.6" transform="rotate(355.3 -7.1 -85.7)" fill="#b0adb8"/>
<ellipse cx="4.4" cy="-85.9" rx="5.4" ry="4.6" transform="rotate(362.9 4.4 -85.9)" fill="#b0adb8"/>
<ellipse cx="19.0" cy="-83.9" rx="5.4" ry="4.6" transform="rotate(372.8 19.0 -83.9)" fill="#b0adb8"/>
<ellipse cx="28.8" cy="-81.0" rx="5.4" ry="4.6" transform="rotate(379.5 28.8 -81.0)" fill="#b0adb8"/>
<ellipse cx="38.6" cy="-76.8" rx="5.4" ry="4.6" transform="rotate(386.7 38.6 -76.8)" fill="#b0adb8"/>
<ellipse cx="50.8" cy="-69.4" rx="5.4" ry="4.6" transform="rotate(396.2 50.8 -69.4)" fill="#b0adb8"/>
<ellipse cx="58.9" cy="-62.7" rx="5.4" ry="4.6" transform="rotate(403.2 58.9 -62.7)" fill="#b0adb8"/>
<ellipse cx="67.2" cy="-53.7" rx="5.4" ry="4.6" transform="rotate(411.4 67.2 -53.7)" fill="#b0adb8"/>
<ellipse cx="74.2" cy="-43.6" rx="5.4" ry="4.6" transform="rotate(419.6 74.2 -43.6)" fill="#b0adb8"/>
<ellipse cx="78.6" cy="-34.9" rx="5.4" ry="4.6" transform="rotate(426.0 78.6 -34.9)" fill="#b0adb8"/>
<ellipse cx="82.7" cy="-23.7" rx="5.4" ry="4.6" transform="rotate(434.0 82.7 -23.7)" fill="#b0adb8"/>
<ellipse cx="85.4" cy="-10.4" rx="5.4" ry="4.6" transform="rotate(443.0 85.4 -10.4)" fill="#b0adb8"/>
<ellipse cx="73.2" cy="-3.3" rx="6.4" ry="5.8" fill="#c5d9f1" stroke="#5b79c4" stroke-width="1.4"/>
<ellipse cx="60.4" cy="12.6" rx="6.4" ry="5.8" fill="#c5d9f1" stroke="#5b79c4" stroke-width="1.4"/>
<ellipse cx="64.1" cy="30.1" rx="6.4" ry="5.8" fill="#c5d9f1" stroke="#5b79c4" stroke-width="1.4"/>
<ellipse cx="48.1" cy="43.3" rx="6.4" ry="5.8" fill="#c5d9f1" stroke="#5b79c4" stroke-width="1.4"/>
<ellipse cx="30.0" cy="64.4" rx="6.4" ry="5.8" fill="#c5d9f1" stroke="#5b79c4" stroke-width="1.4"/>
<ellipse cx="14.9" cy="67.0" rx="6.4" ry="5.8" fill="#c5d9f1" stroke="#5b79c4" stroke-width="1.4"/>
<ellipse cx="-1.6" cy="60.1" rx="6.4" ry="5.8" fill="#c5d9f1" stroke="#5b79c4" stroke-width="1.4"/>
<ellipse cx="-20.4" cy="61.7" rx="6.4" ry="5.8" fill="#c5d9f1" stroke="#5b79c4" stroke-width="1.4"/>
<ellipse cx="-36.8" cy="55.1" rx="6.4" ry="5.8" fill="#c5d9f1" stroke="#5b79c4" stroke-width="1.4"/>
<ellipse cx="-45.5" cy="39.1" rx="6.4" ry="5.8" fill="#c5d9f1" stroke="#5b79c4" stroke-width="1.4"/>
<ellipse cx="-55.7" cy="25.9" rx="6.4" ry="5.8" fill="#c5d9f1" stroke="#5b79c4" stroke-width="1.4"/>
<ellipse cx="-65.0" cy="17.3" rx="6.4" ry="5.8" fill="#c5d9f1" stroke="#5b79c4" stroke-width="1.4"/>
<ellipse cx="-70.5" cy="-6.3" rx="6.4" ry="5.8" fill="#c5d9f1" stroke="#5b79c4" stroke-width="1.4"/>
<ellipse cx="-69.1" cy="-25.2" rx="6.4" ry="5.8" fill="#c5d9f1" stroke="#5b79c4" stroke-width="1.4"/>
<ellipse cx="-54.3" cy="-30.4" rx="6.4" ry="5.8" fill="#c5d9f1" stroke="#5b79c4" stroke-width="1.4"/>
<ellipse cx="-53.1" cy="-46.6" rx="6.4" ry="5.8" fill="#c5d9f1" stroke="#5b79c4" stroke-width="1.4"/>
<ellipse cx="-29.9" cy="-63.3" rx="6.4" ry="5.8" fill="#c5d9f1" stroke="#5b79c4" stroke-width="1.4"/>
<ellipse cx="-19.7" cy="-66.1" rx="6.4" ry="5.8" fill="#c5d9f1" stroke="#5b79c4" stroke-width="1.4"/>
<ellipse cx="1.8" cy="-63.8" rx="6.4" ry="5.8" fill="#c5d9f1" stroke="#5b79c4" stroke-width="1.4"/>
<ellipse cx="18.5" cy="-60.2" rx="6.4" ry="5.8" fill="#c5d9f1" stroke="#5b79c4" stroke-width="1.4"/>
<ellipse cx="25.8" cy="-55.2" rx="6.4" ry="5.8" fill="#c5d9f1" stroke="#5b79c4" stroke-width="1.4"/>
<ellipse cx="49.7" cy="-49.9" rx="6.4" ry="5.8" fill="#c5d9f1" stroke="#5b79c4" stroke-width="1.4"/>
<ellipse cx="55.4" cy="-35.8" rx="6.4" ry="5.8" fill="#c5d9f1" stroke="#5b79c4" stroke-width="1.4"/>
<ellipse cx="62.3" cy="-14.4" rx="6.4" ry="5.8" fill="#c5d9f1" stroke="#5b79c4" stroke-width="1.4"/>
<circle cx="77.9" cy="13.0" r="4.6" fill="#ffff00" stroke="#a0b040" stroke-width="0.6"/>
<circle cx="58.1" cy="53.5" r="4.6" fill="#ffff00" stroke="#a0b040" stroke-width="0.6"/>
<circle cx="34.5" cy="71.0" r="4.6" fill="#ffff00" stroke="#a0b040" stroke-width="0.6"/>
<circle cx="-18.2" cy="76.9" r="4.6" fill="#ffff00" stroke="#a0b040" stroke-width="0.6"/>
<circle cx="-43.7" cy="65.8" r="4.6" fill="#ffff00" stroke="#a0b040" stroke-width="0.6"/>
<circle cx="-71.1" cy="34.5" r="4.6" fill="#ffff00" stroke="#a0b040" stroke-width="0.6"/>
<circle cx="-78.5" cy="-8.9" r="4.6" fill="#ffff00" stroke="#a0b040" stroke-width="0.6"/>
<circle cx="-73.1" cy="-29.9" r="4.6" fill="#ffff00" stroke="#a0b040" stroke-width="0.6"/>
<circle cx="-36.7" cy="-69.9" r="4.6" fill="#ffff00" stroke="#a0b040" stroke-width="0.6"/>
<circle cx="-18.2" cy="-76.9" r="4.6" fill="#ffff00" stroke="#a0b040" stroke-width="0.6"/>
<circle cx="29.8" cy="-73.2" r="4.6" fill="#ffff00" stroke="#a0b040" stroke-width="0.6"/>
<circle cx="61.1" cy="-50.1" r="4.6" fill="#ffff00" stroke="#a0b040" stroke-width="0.6"/>
<circle cx="78.4" cy="-9.8" r="4.6" fill="#ffff00" stroke="#a0b040" stroke-width="0.6"/>
<ellipse cx="87.7" cy="15.1" rx="6.5" ry="4.6" transform="rotate(99.8 87.7 15.1)" fill="#00b0f0"/>
<ellipse cx="71.2" cy="53.3" rx="6.5" ry="4.6" transform="rotate(126.8 71.2 53.3)" fill="#00b0f0"/>
<ellipse cx="53.2" cy="71.3" rx="6.5" ry="4.6" transform="rotate(143.3 53.2 71.3)" fill="#00b0f0"/>
<ellipse cx="28.7" cy="84.2" rx="6.5" ry="4.6" transform="rotate(161.2 28.7 84.2)" fill="#00b0f0"/>
<ellipse cx="3.9" cy="88.9" rx="6.5" ry="4.6" transform="rotate(177.5 3.9 88.9)" fill="#00b0f0"/>
<ellipse cx="-27.9" cy="84.5" rx="6.5" ry="4.6" transform="rotate(198.3 -27.9 84.5)" fill="#00b0f0"/>
<ellipse cx="-57.0" cy="68.3" rx="6.5" ry="4.6" transform="rotate(219.8 -57.0 68.3)" fill="#00b0f0"/>
<ellipse cx="-76.8" cy="45.0" rx="6.5" ry="4.6" transform="rotate(239.6 -76.8 45.0)" fill="#00b0f0"/>
<ellipse cx="-87.6" cy="15.6" rx="6.5" ry="4.6" transform="rotate(259.9 -87.6 15.6)" fill="#00b0f0"/>
<ellipse cx="-85.9" cy="-23.3" rx="6.5" ry="4.6" transform="rotate(285.2 -85.9 -23.3)" fill="#00b0f0"/>
<ellipse cx="-77.1" cy="-44.4" rx="6.5" ry="4.6" transform="rotate(300.0 -77.1 -44.4)" fill="#00b0f0"/>
<ellipse cx="-53.6" cy="-71.1" rx="6.5" ry="4.6" transform="rotate(323.0 -53.6 -71.1)" fill="#00b0f0"/>
<ellipse cx="-36.3" cy="-81.3" rx="6.5" ry="4.6" transform="rotate(335.9 -36.3 -81.3)" fill="#00b0f0"/>
<ellipse cx="-4.4" cy="-88.9" rx="6.5" ry="4.6" transform="rotate(357.1 -4.4 -88.9)" fill="#00b0f0"/>
<ellipse cx="36.2" cy="-81.3" rx="6.5" ry="4.6" transform="rotate(384.0 36.2 -81.3)" fill="#00b0f0"/>
<ellipse cx="64.2" cy="-61.7" rx="6.5" ry="4.6" transform="rotate(406.1 64.2 -61.7)" fill="#00b0f0"/>
<ellipse cx="76.5" cy="-45.5" rx="6.5" ry="4.6" transform="rotate(419.2 76.5 -45.5)" fill="#00b0f0"/>
<ellipse cx="86.3" cy="-21.8" rx="6.5" ry="4.6" transform="rotate(435.8 86.3 -21.8)" fill="#00b0f0"/>
<ellipse cx="-14.4" cy="-54.5" rx="5" ry="4" fill="#a9a6aa"/>
<ellipse cx="-6.6" cy="-56.0" rx="5" ry="4" fill="#a9a6aa"/>
<ellipse cx="19.0" cy="-54.5" rx="5" ry="4" fill="#a9a6aa"/>
<ellipse cx="-45.1" cy="-35.7" rx="5" ry="4" fill="#a9a6aa"/>
<ellipse cx="-39.8" cy="-41.5" rx="5" ry="4" fill="#a9a6aa"/>
<ellipse cx="43.8" cy="-33.2" rx="5" ry="4" fill="#a9a6aa"/>
<ellipse cx="48.1" cy="-26.6" rx="5" ry="4" fill="#a9a6aa"/>
<ellipse cx="-56.0" cy="1.7" rx="5" ry="4" fill="#a9a6aa"/>
<ellipse cx="-55.7" cy="-6.2" rx="5" ry="4" fill="#a9a6aa"/>
<ellipse cx="55.0" cy="0.5" rx="5" ry="4" fill="#a9a6aa"/>
<ellipse cx="54.4" cy="8.3" rx="5" ry="4" fill="#a9a6aa"/>
<ellipse cx="-35.2" cy="31.2" rx="5" ry="4" fill="#a9a6aa"/>
<ellipse cx="34.8" cy="26.5" rx="5" ry="4" fill="#a9a6aa"/>
<ellipse cx="3.4" cy="45.1" rx="5" ry="4" fill="#a9a6aa"/>
<ellipse cx="-4.5" cy="45.0" rx="5" ry="4" fill="#a9a6aa"/>
<circle cx="-9.8" cy="-51.5" r="12.5" fill="none" stroke="#f7941d" stroke-width="4.8"/>
<circle cx="21.1" cy="-49.4" r="12.5" fill="none" stroke="#f7941d" stroke-width="4.8"/>
<circle cx="-39.6" cy="-36.0" r="12.5" fill="none" stroke="#f7941d" stroke-width="4.8"/>
<circle cx="-1.6" cy="-25.7" r="12.5" fill="none" stroke="#f7941d" stroke-width="4.8"/>
<circle cx="42.7" cy="-27.8" r="12.5" fill="none" stroke="#f7941d" stroke-width="4.8"/>
<circle cx="-25.2" cy="-10.3" r="12.5" fill="none" stroke="#f7941d" stroke-width="4.8"/>
<circle cx="22.1" cy="-4.1" r="12.5" fill="none" stroke="#f7941d" stroke-width="4.8"/>
<circle cx="-52.0" cy="-2.1" r="12.5" fill="none" stroke="#f7941d" stroke-width="4.8"/>
<circle cx="50.9" cy="4.1" r="12.5" fill="none" stroke="#f7941d" stroke-width="4.8"/>
<circle cx="-4.6" cy="11.3" r="12.5" fill="none" stroke="#f7941d" stroke-width="4.8"/>
<circle cx="-34.5" cy="25.7" r="12.5" fill="none" stroke="#f7941d" stroke-width="4.8"/>
<circle cx="29.3" cy="26.8" r="12.5" fill="none" stroke="#f7941d" stroke-width="4.8"/>
<circle cx="-0.5" cy="41.2" r="12.5" fill="none" stroke="#f7941d" stroke-width="4.8"/>
</g>
<path d="M513,574 C500,580 480,582 462,578 C448,574 441,566 444,559 C447,553 458,553 470,556 C478,558 484,559 489,559 C484,561 478,561 470,560 C460,558 452,558 451,562 C451,568 460,573 472,574 C488,576 502,573 513,570 Z" fill="#4a4540" stroke="#2a2622" stroke-width="0.6"/>
<path d="M553,584 C558,588 566,590 572,589 C575,591 576,594 572,594 C568,593 566,592 563,594 C560,596 556,594 557,591 Z" fill="#4a4540" stroke="#2a2622" stroke-width="0.5"/>
<path d="M512,580 C507,566 508,548 518,536 C528,523 545,516 560,515.5 C580,515 600,521 613,529 C628,532 643,539 651,549 C657,556 662,562 664,568 C662,573 655,575 646,576 C632,577 618,576 608,576 L606,582 C600,585 588,585 578,583 C570,586 562,588 556,588 C545,586 528,584 512,580 Z" fill="#4a4540" stroke="#2a2622" stroke-width="0.7"/>
<path d="M512,576 C522,576 540,580 556,582 C566,578 572,569 576,560 C578,568 585,573 598,572 C615,569 640,562 659,564 C664,567 663,572 657,574 C640,577 622,577 608,577 C598,580 588,583 576,583 C565,586 548,585 512,580 Z" fill="#e8dac8" stroke="#2a2622" stroke-width="0.5"/>
<path d="M606,580 C610,582 616,581 621,583 C624,585 623,588 619,587 C615,586 611,586 607,586 C603,586 602,582 606,580 Z" fill="#1e1c1a"/>
<path d="M604,584 C608,587 614,588 620,589 C624,590 626,593 623,595 C619,596 614,595 610,594 C606,592 603,589 604,584 Z" fill="#4a4540" stroke="#2a2622" stroke-width="0.5"/>
<path d="M619,532 C617,523 618,515 624,514 C630,514 634,520 635,529 Z" fill="#4a4540" stroke="#2a2622" stroke-width="0.6"/>
<ellipse cx="620.5" cy="541" rx="7.2" ry="12.5" fill="#e8dac8" transform="rotate(-8 620.5 541)"/>
<circle cx="639.5" cy="557" r="5.4" fill="#d8d4cc"/>
<circle cx="639.8" cy="557" r="4.3" fill="#111"/>
<ellipse cx="662" cy="567.5" rx="2.5" ry="2" fill="#e8c8c0"/>
<g transform="translate(493.5,483.7) rotate(-28.4) scale(1.06)">
<line x1="0" y1="58" x2="0" y2="82" stroke="#2a2a2a" stroke-width="1"/>
<rect x="-2.6" y="0" width="5.2" height="17" fill="#e4e8f0" stroke="#4a4a4a" stroke-width="0.8"/>
<ellipse cx="0" cy="0.5" rx="6" ry="2.6" fill="#e8ecf4" stroke="#4a4a4a" stroke-width="0.8"/>
<rect x="-4.8" y="16" width="9.6" height="42" rx="1" fill="#eef1f7" stroke="#3f3f3f" stroke-width="1"/>
<ellipse cx="0" cy="16.5" rx="10" ry="3" fill="none" stroke="#3f3f3f" stroke-width="1"/>
<rect x="-4.8" y="36" width="9.6" height="4.5" fill="#1c2450"/>
<line x1="-3.5" y1="21.0" x2="1" y2="21.0" stroke="#1c2450" stroke-width="1.1"/>
<line x1="-3.5" y1="25.3" x2="1" y2="25.3" stroke="#1c2450" stroke-width="1.1"/>
<line x1="-3.5" y1="29.6" x2="1" y2="29.6" stroke="#1c2450" stroke-width="1.1"/>
<line x1="-3.5" y1="33.9" x2="1" y2="33.9" stroke="#1c2450" stroke-width="1.1"/>
<line x1="-3.5" y1="38.2" x2="1" y2="38.2" stroke="#1c2450" stroke-width="1.1"/>
<line x1="-3.5" y1="42.5" x2="1" y2="42.5" stroke="#1c2450" stroke-width="1.1"/>
<line x1="-3.5" y1="46.8" x2="1" y2="46.8" stroke="#1c2450" stroke-width="1.1"/>
<line x1="-3.5" y1="51.1" x2="1" y2="51.1" stroke="#1c2450" stroke-width="1.1"/>
<path d="M-3,58 L3,58 L1,62 L-1,62 Z" fill="#cfd5e0" stroke="#3f3f3f" stroke-width="0.6"/>
</g>
</svg></body></html>
